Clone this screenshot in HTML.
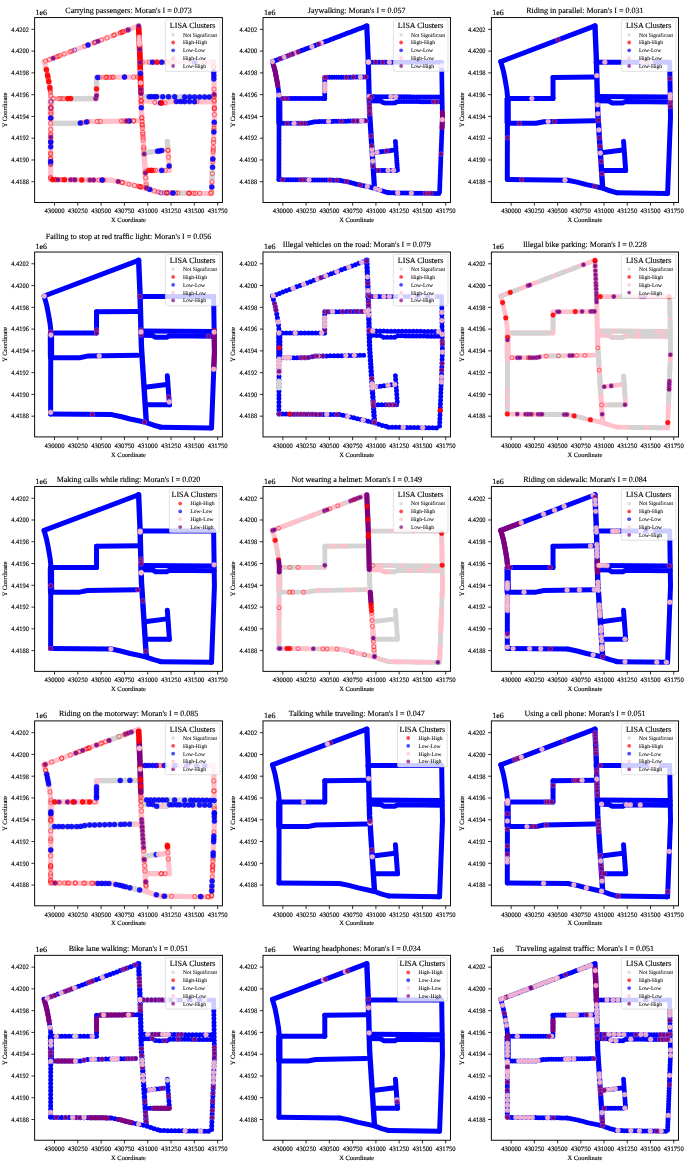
<!DOCTYPE html>
<html><head><meta charset="utf-8"><title>LISA Clusters</title>
<style>html,body{margin:0;padding:0;background:#fff;} svg path{fill:none;stroke-linecap:round;stroke-linejoin:round} svg text{font-family:'Liberation Serif', 'DejaVu Serif', serif;fill:#000;stroke:#000;stroke-width:0.13px;text-rendering:geometricPrecision;font-variant-ligatures:none;font-kerning:normal;} svg text.le{stroke-width:0.04px} circle.NS{fill:rgb(211,211,211);fill-opacity:0.9;stroke:rgb(211,211,211);stroke-opacity:0.8;stroke-width:0.6} circle.HH{fill:rgb(255,0,0);fill-opacity:0.9;stroke:rgb(255,0,0);stroke-opacity:0.8;stroke-width:0.6} circle.LL{fill:rgb(0,0,255);fill-opacity:0.9;stroke:rgb(0,0,255);stroke-opacity:0.8;stroke-width:0.6} circle.HL{fill:rgb(255,192,203);fill-opacity:0.9;stroke:rgb(255,192,203);stroke-opacity:0.8;stroke-width:0.6} circle.LH{fill:rgb(128,0,128);fill-opacity:0.9;stroke:rgb(128,0,128);stroke-opacity:0.8;stroke-width:0.6} circle.LH{stroke:rgb(205,140,200);stroke-opacity:0.7;stroke-width:0.5} circle.gNS{fill:none;stroke:rgb(211,211,211);stroke-opacity:0.75;stroke-width:0.7} circle.gHH{fill:none;stroke:rgb(255,0,0);stroke-opacity:0.75;stroke-width:0.7} circle.gLL{fill:none;stroke:rgb(0,0,255);stroke-opacity:0.75;stroke-width:0.7} circle.gHL{fill:none;stroke:rgb(255,192,203);stroke-opacity:0.75;stroke-width:0.7} circle.gLH{fill:none;stroke:rgb(128,0,128);stroke-opacity:0.75;stroke-width:0.7}</style>
</head><body>
<svg width="685" height="1162" viewBox="0 0 685 1162" style="display:block">
<rect width="685" height="1162" fill="#fff"/>
<g transform="translate(34.63,17.58)"><clipPath id="cp0"><rect x="0" y="0" width="187.8" height="184.9"/></clipPath><g clip-path="url(#cp0)"><g transform="scale(1.0000,1)"><path d="M16.3,82.0 L16.4,104.5" stroke="rgb(255,192,203)" stroke-width="6.50"/><path d="M9.5,44.0 L104.0,8.3" stroke="rgb(255,192,203)" stroke-width="5.20"/><path d="M9.5,44.0 L12.0,53.0 L13.8,62.0 L15.5,72.0 L16.3,80.0" stroke="rgb(255,192,203)" stroke-width="5.20"/><path d="M16.3,80.0 L16.1,105.0 L16.0,162.0" stroke="rgb(255,192,203)" stroke-width="5.20"/><path d="M16.0,81.0 L61.9,81.0" stroke="rgb(255,192,203)" stroke-width="5.20"/><path d="M61.9,81.0 L61.9,59.8" stroke="rgb(255,192,203)" stroke-width="5.20"/><path d="M61.9,59.8 L105.5,59.4" stroke="rgb(255,192,203)" stroke-width="5.20"/><path d="M16.0,105.7 L44.8,105.7 L52.8,104.1 L103.3,103.2" stroke="rgb(255,192,203)" stroke-width="5.20"/><path d="M16.0,162.0 L76.6,162.6" stroke="rgb(255,192,203)" stroke-width="5.20"/><path d="M76.6,162.6 L86.0,164.5 L95.5,167.0 L104.0,168.8 L111.7,170.6 L119.0,173.2 L125.7,175.0" stroke="rgb(255,192,203)" stroke-width="5.20"/><path d="M125.7,175.2 L176.9,175.9" stroke="rgb(255,192,203)" stroke-width="5.20"/><path d="M104.0,8.3 L105.4,41.8 L106.8,95.0 L111.7,170.3" stroke="rgb(255,192,203)" stroke-width="5.60"/><path d="M105.2,44.6 L179.0,44.6" stroke="rgb(255,192,203)" stroke-width="5.20"/><path d="M179.0,44.6 L179.8,100.0 L176.9,175.9" stroke="rgb(255,192,203)" stroke-width="5.20"/><path d="M106.3,79.0 L179.5,79.5" stroke="rgb(255,192,203)" stroke-width="5.20"/><path d="M106.5,83.2 L118.0,83.5 L121.0,85.3 L132.0,85.3 L135.0,83.8 L179.5,84.3" stroke="rgb(255,192,203)" stroke-width="5.20"/><path d="M110.3,135.2 L132.0,132.4" stroke="rgb(255,192,203)" stroke-width="5.20"/><path d="M132.7,123.8 L134.8,152.8" stroke="rgb(255,192,203)" stroke-width="5.20"/><path d="M111.7,152.8 L134.8,152.8" stroke="rgb(255,192,203)" stroke-width="5.20"/><path d="M37.0,81.0 L38.0,81.0 L39.1,81.0 L40.1,81.0 L41.2,81.0 L42.2,81.0 L43.3,81.0 L44.3,81.0 L45.4,81.0 L46.4,81.0 L47.5,81.0 L48.5,81.0 L49.6,81.0 L50.6,81.0 L51.7,81.0 L52.7,81.0 L53.8,81.0 L54.8,81.0 L55.9,81.0 L56.9,81.0 L58.0,81.0" stroke="rgb(211,211,211)" stroke-width="5.20"/><path d="M61.9,70.0 L61.9,68.8 L61.9,67.6 L61.9,66.5 L61.9,65.3 L61.9,64.1 L61.9,63.0" stroke="rgb(211,211,211)" stroke-width="5.20"/><path d="M19.9,105.7 L20.9,105.7 L21.9,105.7 L23.0,105.7 L24.0,105.7 L25.0,105.7 L26.0,105.7 L27.0,105.7 L28.0,105.7 L29.0,105.7 L30.0,105.7 L31.0,105.7 L32.0,105.7 L33.0,105.7 L34.0,105.7 L35.0,105.7 L36.0,105.7 L37.0,105.7 L38.0,105.7 L39.0,105.7 L40.1,105.7 L41.1,105.7 L42.1,105.7 L43.1,105.7 L44.1,105.7 L45.1,105.6" stroke="rgb(211,211,211)" stroke-width="5.20"/><path d="M110.0,79.0 L111.0,79.0 L112.0,79.0 L113.0,79.0 L114.0,79.1 L115.0,79.1 L116.0,79.1 L117.0,79.1 L118.0,79.1 L119.0,79.1 L120.0,79.1 L121.0,79.1 L122.0,79.1 L123.0,79.1 L124.0,79.1 L125.0,79.1 L126.0,79.1 L127.0,79.1 L128.0,79.1 L129.0,79.2 L130.0,79.2 L131.0,79.2 L132.0,79.2 L133.0,79.2 L134.0,79.2 L135.0,79.2 L136.0,79.2 L137.0,79.2 L138.0,79.2 L139.0,79.2 L140.0,79.2 L141.0,79.2 L142.0,79.2 L143.0,79.3 L144.0,79.3 L145.0,79.3 L146.0,79.3 L147.0,79.3 L148.0,79.3 L149.0,79.3 L150.0,79.3 L151.0,79.3 L152.0,79.3 L153.0,79.3 L154.0,79.3 L155.0,79.3 L156.0,79.3 L157.0,79.3 L158.0,79.4 L159.0,79.4 L160.0,79.4 L161.0,79.4 L162.0,79.4 L163.0,79.4 L164.0,79.4 L165.0,79.4 L166.0,79.4 L167.0,79.4 L168.0,79.4 L169.0,79.4 L170.0,79.4 L171.0,79.4 L172.0,79.4 L173.0,79.5 L174.0,79.5 L175.0,79.5 L176.0,79.5" stroke="rgb(211,211,211)" stroke-width="5.20"/><path d="M111.0,135.1 L112.0,135.0 L113.0,134.9 L114.0,134.7 L115.0,134.6 L116.0,134.5 L117.0,134.3 L118.0,134.2 L119.0,134.1 L120.0,133.9 L121.0,133.8 L122.0,133.7" stroke="rgb(211,211,211)" stroke-width="5.20"/><path d="M132.7,124.0 L132.8,125.0 L132.9,126.0 L132.9,127.0 L133.0,128.0 L133.1,129.0 L133.2,130.0" stroke="rgb(211,211,211)" stroke-width="5.20"/><path d="M177.9,150.0 L177.9,151.0 L177.8,152.0 L177.8,153.0 L177.7,154.0 L177.7,155.1 L177.7,156.1 L177.6,157.1 L177.6,158.1 L177.5,159.1 L177.5,160.1" stroke="rgb(211,211,211)" stroke-width="5.20"/><path d="M140.0,175.4 L141.1,175.4 L142.3,175.4 L143.4,175.4 L144.5,175.5 L145.6,175.5 L146.7,175.5 L147.8,175.5 L148.9,175.5 L150.0,175.5" stroke="rgb(211,211,211)" stroke-width="5.20"/><path d="M104.1,9.9 L104.1,10.9 L104.2,11.9 L104.2,12.9 L104.2,13.9 L104.3,14.9 L104.3,15.9 L104.4,16.9 L104.4,17.9 L104.4,19.0 L104.5,20.0 L104.5,21.0 L104.6,22.0 L104.6,23.0 L104.7,24.0 L104.7,25.0 L104.7,26.0 L104.8,27.0 L104.8,28.0 L104.9,29.0 L104.9,30.0 L104.9,31.0 L105.0,32.0 L105.0,33.0 L105.1,34.0 L105.1,35.0 L105.2,36.0 L105.2,37.0 L105.2,38.0 L105.3,39.0 L105.3,40.0 L105.4,41.0 L105.4,42.0 L105.4,43.0 L105.5,44.0 L105.5,45.0 L105.5,46.1 L105.5,47.1 L105.6,48.1 L105.6,49.1 L105.6,50.1 L105.6,51.1 L105.7,52.1 L105.7,53.1 L105.7,54.1 L105.7,55.1 L105.8,56.1 L105.8,57.1 L105.8,58.1 L105.9,59.1 L105.9,60.1 L105.9,61.1 L105.9,62.1 L106.0,63.1 L106.0,64.1 L106.0,65.1 L106.0,66.1 L106.1,67.1 L106.1,68.1 L106.1,69.1 L106.1,70.1 L106.2,71.2 L106.2,72.2 L106.2,73.2 L106.3,74.2 L106.3,75.2" stroke="rgb(255,0,0)" stroke-width="5.60"/><circle cx="104.8" cy="26.8" r="2.30" class="HL"/><circle cx="105.7" cy="54.6" r="2.30" class="HL"/><circle cx="105.7" cy="54.6" r="2.30" class="HL"/><circle cx="106.0" cy="65.3" r="2.30" class="HL"/><circle cx="104.6" cy="22.0" r="2.30" class="HL"/><circle cx="104.7" cy="25.0" r="2.30" class="HL"/><circle cx="104.5" cy="19.5" r="2.30" class="HL"/><circle cx="104.7" cy="24.6" r="2.30" class="HL"/><circle cx="78.9" cy="17.8" r="2.10" class="gHH"/><circle cx="21.8" cy="39.4" r="2.10" class="gHH"/><circle cx="59.7" cy="25.0" r="2.10" class="gHH"/><circle cx="29.7" cy="36.4" r="2.10" class="gHH"/><circle cx="37.3" cy="33.5" r="2.10" class="gHH"/><circle cx="50.3" cy="28.6" r="2.10" class="gHH"/><circle cx="88.7" cy="14.1" r="2.10" class="gHH"/><circle cx="67.0" cy="22.3" r="2.10" class="gHH"/><circle cx="10.9" cy="43.5" r="2.10" class="gHH"/><circle cx="35.6" cy="34.2" r="2.10" class="gHH"/><circle cx="23.4" cy="38.8" r="2.10" class="gHH"/><circle cx="91.8" cy="12.9" r="2.10" class="gHH"/><circle cx="86.0" cy="15.1" r="2.10" class="gHH"/><circle cx="85.7" cy="15.2" r="2.10" class="gHH"/><circle cx="87.6" cy="14.5" r="2.10" class="gHH"/><circle cx="79.9" cy="17.4" r="2.10" class="gHH"/><circle cx="16.1" cy="78.1" r="2.10" class="gHH"/><circle cx="15.5" cy="72.5" r="2.10" class="gHH"/><circle cx="12.0" cy="53.1" r="2.10" class="gHH"/><circle cx="15.8" cy="74.5" r="2.10" class="gHH"/><circle cx="13.7" cy="61.4" r="2.10" class="gHH"/><circle cx="15.3" cy="71.1" r="2.10" class="gHH"/><circle cx="14.2" cy="64.2" r="2.10" class="gHH"/><circle cx="13.3" cy="59.3" r="2.10" class="gHH"/><circle cx="12.8" cy="56.9" r="2.10" class="gHH"/><circle cx="13.3" cy="59.3" r="2.10" class="gHH"/><circle cx="16.1" cy="105.7" r="2.10" class="gHH"/><circle cx="16.2" cy="89.6" r="2.10" class="gHH"/><circle cx="16.0" cy="147.2" r="2.10" class="gHH"/><circle cx="16.0" cy="145.5" r="2.10" class="gHH"/><circle cx="16.0" cy="160.8" r="2.10" class="gHH"/><circle cx="16.0" cy="136.7" r="2.10" class="gHH"/><circle cx="16.1" cy="125.4" r="2.10" class="gHH"/><circle cx="16.0" cy="141.4" r="2.10" class="gHH"/><circle cx="16.2" cy="91.1" r="2.10" class="gHH"/><circle cx="16.0" cy="135.5" r="2.10" class="gHH"/><circle cx="16.1" cy="116.4" r="2.10" class="gHH"/><circle cx="16.2" cy="94.5" r="2.10" class="gHH"/><circle cx="16.2" cy="96.6" r="2.10" class="gHH"/><circle cx="16.1" cy="122.9" r="2.10" class="gHH"/><circle cx="16.1" cy="100.8" r="2.10" class="gHH"/><circle cx="16.1" cy="117.7" r="2.10" class="gHH"/><circle cx="28.7" cy="81.0" r="2.10" class="gHH"/><circle cx="24.3" cy="81.0" r="2.10" class="gHH"/><circle cx="18.7" cy="81.0" r="2.10" class="gHH"/><circle cx="26.3" cy="81.0" r="2.10" class="gHH"/><circle cx="72.1" cy="59.7" r="2.10" class="gHH"/><circle cx="72.1" cy="59.7" r="2.10" class="gHH"/><circle cx="70.4" cy="59.7" r="2.10" class="gHH"/><circle cx="77.7" cy="59.7" r="2.10" class="gHH"/><circle cx="65.2" cy="59.8" r="2.10" class="gHH"/><circle cx="90.0" cy="59.5" r="2.10" class="gHH"/><circle cx="103.0" cy="59.4" r="2.10" class="gHH"/><circle cx="78.7" cy="59.6" r="2.10" class="gHH"/><circle cx="86.7" cy="103.5" r="2.10" class="gHH"/><circle cx="99.2" cy="103.3" r="2.10" class="gHH"/><circle cx="47.5" cy="105.2" r="2.10" class="gHH"/><circle cx="53.2" cy="104.1" r="2.10" class="gHH"/><circle cx="91.8" cy="103.4" r="2.10" class="gHH"/><circle cx="93.7" cy="103.4" r="2.10" class="gHH"/><circle cx="54.3" cy="162.4" r="2.10" class="gHH"/><circle cx="25.6" cy="162.1" r="2.10" class="gHH"/><circle cx="40.8" cy="162.2" r="2.10" class="gHH"/><circle cx="68.1" cy="162.5" r="2.10" class="gHH"/><circle cx="69.2" cy="162.5" r="2.10" class="gHH"/><circle cx="64.2" cy="162.5" r="2.10" class="gHH"/><circle cx="28.2" cy="162.1" r="2.10" class="gHH"/><circle cx="67.2" cy="162.5" r="2.10" class="gHH"/><circle cx="38.5" cy="162.2" r="2.10" class="gHH"/><circle cx="59.0" cy="162.4" r="2.10" class="gHH"/><circle cx="83.6" cy="164.0" r="2.10" class="gHH"/><circle cx="123.6" cy="174.4" r="2.10" class="gHH"/><circle cx="106.1" cy="169.3" r="2.10" class="gHH"/><circle cx="111.9" cy="170.7" r="2.10" class="gHH"/><circle cx="87.2" cy="164.8" r="2.10" class="gHH"/><circle cx="106.8" cy="169.5" r="2.10" class="gHH"/><circle cx="105.0" cy="169.0" r="2.10" class="gHH"/><circle cx="105.5" cy="169.2" r="2.10" class="gHH"/><circle cx="94.3" cy="166.7" r="2.10" class="gHH"/><circle cx="112.1" cy="170.7" r="2.10" class="gHH"/><circle cx="143.3" cy="175.4" r="2.10" class="gHH"/><circle cx="141.0" cy="175.4" r="2.10" class="gHH"/><circle cx="134.3" cy="175.3" r="2.10" class="gHH"/><circle cx="160.8" cy="175.7" r="2.10" class="gHH"/><circle cx="131.7" cy="175.3" r="2.10" class="gHH"/><circle cx="137.4" cy="175.4" r="2.10" class="gHH"/><circle cx="129.5" cy="175.3" r="2.10" class="gHH"/><circle cx="158.7" cy="175.7" r="2.10" class="gHH"/><circle cx="154.3" cy="175.6" r="2.10" class="gHH"/><circle cx="153.6" cy="175.6" r="2.10" class="gHH"/><circle cx="106.4" cy="78.9" r="2.10" class="gHH"/><circle cx="108.2" cy="116.8" r="2.10" class="gHH"/><circle cx="107.6" cy="107.7" r="2.10" class="gHH"/><circle cx="106.5" cy="84.0" r="2.10" class="gHH"/><circle cx="106.3" cy="75.5" r="2.10" class="gHH"/><circle cx="111.7" cy="169.7" r="2.10" class="gHH"/><circle cx="106.6" cy="86.7" r="2.10" class="gHH"/><circle cx="107.4" cy="103.8" r="2.10" class="gHH"/><circle cx="107.2" cy="100.7" r="2.10" class="gHH"/><circle cx="109.2" cy="131.8" r="2.10" class="gHH"/><circle cx="106.5" cy="82.5" r="2.10" class="gHH"/><circle cx="108.4" cy="119.7" r="2.10" class="gHH"/><circle cx="107.8" cy="109.9" r="2.10" class="gHH"/><circle cx="110.7" cy="154.2" r="2.10" class="gHH"/><circle cx="106.3" cy="75.7" r="2.10" class="gHH"/><circle cx="107.6" cy="106.9" r="2.10" class="gHH"/><circle cx="108.6" cy="122.2" r="2.10" class="gHH"/><circle cx="111.5" cy="167.0" r="2.10" class="gHH"/><circle cx="179.3" cy="112.6" r="2.10" class="gHH"/><circle cx="179.5" cy="107.1" r="2.10" class="gHH"/><circle cx="178.6" cy="132.6" r="2.10" class="gHH"/><circle cx="179.6" cy="83.8" r="2.10" class="gHH"/><circle cx="179.1" cy="49.1" r="2.10" class="gHH"/><circle cx="179.4" cy="110.6" r="2.10" class="gHH"/><circle cx="177.3" cy="164.2" r="2.10" class="gHH"/><circle cx="178.2" cy="141.6" r="2.10" class="gHH"/><circle cx="179.5" cy="78.8" r="2.10" class="gHH"/><circle cx="178.5" cy="134.5" r="2.10" class="gHH"/><circle cx="177.7" cy="156.1" r="2.10" class="gHH"/><circle cx="179.5" cy="78.8" r="2.10" class="gHH"/><circle cx="179.0" cy="122.0" r="2.10" class="gHH"/><circle cx="179.7" cy="91.5" r="2.10" class="gHH"/><circle cx="179.5" cy="76.9" r="2.10" class="gHH"/><circle cx="179.5" cy="82.6" r="2.10" class="gHH"/><circle cx="179.4" cy="71.6" r="2.10" class="gHH"/><circle cx="179.7" cy="90.9" r="2.10" class="gHH"/><circle cx="179.1" cy="49.9" r="2.10" class="gHH"/><circle cx="179.8" cy="97.0" r="2.10" class="gHH"/><circle cx="179.2" cy="56.3" r="2.10" class="gHH"/><circle cx="178.1" cy="144.2" r="2.10" class="gHH"/><circle cx="149.6" cy="84.0" r="2.10" class="gHH"/><circle cx="106.8" cy="83.2" r="2.10" class="gHH"/><circle cx="162.4" cy="84.1" r="2.10" class="gHH"/><circle cx="120.1" cy="84.8" r="2.10" class="gHH"/><circle cx="140.9" cy="83.9" r="2.10" class="gHH"/><circle cx="146.3" cy="83.9" r="2.10" class="gHH"/><circle cx="130.4" cy="85.3" r="2.10" class="gHH"/><circle cx="127.2" cy="85.3" r="2.10" class="gHH"/><circle cx="133.8" cy="139.6" r="2.10" class="gHH"/><circle cx="133.4" cy="133.0" r="2.10" class="gHH"/><circle cx="134.5" cy="149.0" r="2.10" class="gHH"/><circle cx="133.3" cy="132.5" r="2.10" class="gHH"/><circle cx="130.8" cy="152.8" r="2.10" class="gHH"/><circle cx="117.0" cy="152.8" r="2.10" class="gHH"/><circle cx="118.9" cy="152.8" r="2.10" class="gHH"/><circle cx="120.8" cy="152.8" r="2.10" class="gHH"/><circle cx="107.7" cy="44.6" r="2.10" class="gHH"/><circle cx="114.7" cy="44.6" r="2.10" class="gHH"/><circle cx="131.8" cy="44.6" r="2.10" class="gHH"/><circle cx="137.8" cy="44.6" r="2.10" class="gHH"/><circle cx="169.9" cy="44.6" r="2.10" class="gHH"/><circle cx="178.3" cy="44.6" r="2.10" class="gHH"/><circle cx="16.3" cy="83.6" r="2.10" class="gLL"/><circle cx="16.1" cy="123.9" r="2.10" class="gLL"/><circle cx="16.2" cy="90.6" r="2.10" class="gLL"/><circle cx="16.0" cy="145.9" r="2.10" class="gLL"/><circle cx="40.0" cy="32.5" r="2.10" class="gLL"/><circle cx="93.9" cy="12.1" r="2.10" class="gLL"/><circle cx="61.0" cy="24.5" r="2.10" class="gLL"/><circle cx="132.4" cy="175.3" r="2.10" class="gLL"/><circle cx="126.2" cy="175.2" r="2.10" class="gLL"/><circle cx="138.6" cy="175.4" r="2.10" class="gLL"/><circle cx="14.9" cy="41.9" r="2.20" class="gHH"/><circle cx="60.1" cy="24.9" r="2.20" class="gHH"/><circle cx="72.3" cy="20.3" r="2.20" class="gHH"/><circle cx="87.7" cy="14.5" r="2.20" class="gHH"/><circle cx="25.1" cy="38.1" r="2.20" class="gHH"/><circle cx="18.5" cy="40.6" r="2.50" class="LH"/><circle cx="63.4" cy="23.7" r="2.50" class="LH"/><circle cx="93.4" cy="12.3" r="2.50" class="LH"/><circle cx="53.4" cy="27.4" r="2.50" class="LL"/><circle cx="11.7" cy="52.0" r="2.50" class="HH"/><circle cx="13.0" cy="58.0" r="2.50" class="HH"/><circle cx="14.1" cy="64.0" r="2.50" class="HH"/><circle cx="15.2" cy="70.0" r="2.50" class="HH"/><circle cx="16.3" cy="84.9" r="2.20" class="gHH"/><circle cx="16.2" cy="90.0" r="2.20" class="gHH"/><circle cx="16.0" cy="140.7" r="2.20" class="gHH"/><circle cx="16.0" cy="159.9" r="2.20" class="gHH"/><circle cx="16.1" cy="112.0" r="2.20" class="gHH"/><circle cx="16.1" cy="100.5" r="2.50" class="LL"/><circle cx="16.1" cy="124.5" r="2.50" class="LL"/><circle cx="16.1" cy="129.2" r="2.50" class="LL"/><circle cx="16.0" cy="144.0" r="2.50" class="LL"/><circle cx="16.1" cy="119.6" r="2.50" class="LH"/><circle cx="33.0" cy="81.0" r="2.50" class="HH"/><circle cx="36.0" cy="81.0" r="2.50" class="HH"/><circle cx="61.0" cy="81.0" r="2.50" class="LH"/><circle cx="61.9" cy="71.3" r="2.50" class="HH"/><circle cx="61.9" cy="78.0" r="2.50" class="LH"/><circle cx="63.0" cy="59.8" r="2.50" class="LL"/><circle cx="89.9" cy="59.5" r="2.50" class="LL"/><circle cx="75.2" cy="59.7" r="2.20" class="gHH"/><circle cx="99.0" cy="59.5" r="2.20" class="gHH"/><circle cx="45.7" cy="105.5" r="2.50" class="LL"/><circle cx="51.9" cy="104.3" r="2.50" class="LL"/><circle cx="94.8" cy="103.4" r="2.50" class="LL"/><circle cx="62.6" cy="103.9" r="2.20" class="gHH"/><circle cx="65.5" cy="103.9" r="2.20" class="gHH"/><circle cx="89.3" cy="103.4" r="2.20" class="gHH"/><circle cx="98.9" cy="103.3" r="2.20" class="gHH"/><circle cx="91.9" cy="103.4" r="2.50" class="LH"/><circle cx="18.0" cy="162.0" r="2.50" class="HH"/><circle cx="21.0" cy="162.0" r="2.50" class="HH"/><circle cx="29.9" cy="162.1" r="2.50" class="HH"/><circle cx="47.1" cy="162.3" r="2.50" class="HH"/><circle cx="23.3" cy="162.1" r="2.50" class="LH"/><circle cx="36.0" cy="162.2" r="2.50" class="LH"/><circle cx="40.1" cy="162.2" r="2.50" class="LH"/><circle cx="55.5" cy="162.4" r="2.50" class="LH"/><circle cx="59.0" cy="162.4" r="2.50" class="LH"/><circle cx="67.5" cy="162.5" r="2.50" class="LL"/><circle cx="83.6" cy="164.0" r="2.50" class="LH"/><circle cx="88.0" cy="165.0" r="2.20" class="gHH"/><circle cx="99.9" cy="167.9" r="2.20" class="gHH"/><circle cx="104.0" cy="168.8" r="2.20" class="gHH"/><circle cx="119.9" cy="173.5" r="2.20" class="gHH"/><circle cx="115.1" cy="171.8" r="2.50" class="LL"/><circle cx="138.2" cy="175.4" r="2.50" class="LL"/><circle cx="132.0" cy="175.3" r="2.20" class="gHH"/><circle cx="155.0" cy="175.6" r="2.20" class="gHH"/><circle cx="165.0" cy="175.7" r="2.20" class="gHH"/><circle cx="176.0" cy="175.9" r="2.20" class="gHH"/><circle cx="104.0" cy="8.3" r="2.50" class="LH"/><circle cx="105.0" cy="31.8" r="2.50" class="LH"/><circle cx="105.5" cy="44.8" r="2.50" class="LH"/><circle cx="106.2" cy="71.9" r="2.50" class="LH"/><circle cx="106.3" cy="76.0" r="2.50" class="LH"/><circle cx="109.5" cy="136.3" r="2.50" class="LH"/><circle cx="110.7" cy="155.3" r="2.50" class="LH"/><circle cx="111.7" cy="170.3" r="2.50" class="LH"/><circle cx="105.8" cy="55.7" r="2.50" class="LL"/><circle cx="106.7" cy="90.2" r="2.50" class="LL"/><circle cx="107.1" cy="99.9" r="2.20" class="gHH"/><circle cx="108.1" cy="114.9" r="2.20" class="gHH"/><circle cx="109.1" cy="129.8" r="2.20" class="gHH"/><circle cx="111.0" cy="160.2" r="2.20" class="gHH"/><circle cx="117.9" cy="44.6" r="2.50" class="LL"/><circle cx="127.0" cy="44.6" r="2.50" class="LL"/><circle cx="160.0" cy="44.6" r="2.50" class="LL"/><circle cx="122.2" cy="44.6" r="2.50" class="HH"/><circle cx="179.1" cy="54.5" r="2.50" class="LL"/><circle cx="179.2" cy="58.1" r="2.50" class="LL"/><circle cx="179.2" cy="61.3" r="2.50" class="LL"/><circle cx="179.6" cy="104.7" r="2.50" class="LL"/><circle cx="179.2" cy="114.5" r="2.50" class="LL"/><circle cx="178.2" cy="141.4" r="2.50" class="LL"/><circle cx="177.9" cy="149.6" r="2.50" class="LL"/><circle cx="177.2" cy="169.3" r="2.50" class="LL"/><circle cx="179.5" cy="76.8" r="2.50" class="LH"/><circle cx="179.7" cy="89.9" r="2.20" class="gHH"/><circle cx="178.8" cy="125.0" r="2.20" class="gHH"/><circle cx="178.7" cy="130.0" r="2.20" class="gHH"/><circle cx="176.9" cy="174.9" r="2.20" class="gHH"/><circle cx="114.5" cy="79.1" r="2.50" class="LL"/><circle cx="116.9" cy="79.1" r="2.50" class="LL"/><circle cx="120.0" cy="79.1" r="2.50" class="LL"/><circle cx="122.0" cy="79.1" r="2.50" class="LL"/><circle cx="128.1" cy="79.1" r="2.50" class="LL"/><circle cx="133.9" cy="79.2" r="2.50" class="LL"/><circle cx="140.0" cy="79.2" r="2.50" class="LL"/><circle cx="150.0" cy="79.3" r="2.50" class="LL"/><circle cx="155.0" cy="79.3" r="2.50" class="LL"/><circle cx="159.9" cy="79.4" r="2.50" class="LL"/><circle cx="165.0" cy="79.4" r="2.50" class="LL"/><circle cx="170.0" cy="79.4" r="2.50" class="LL"/><circle cx="174.7" cy="79.5" r="2.50" class="LL"/><circle cx="125.9" cy="85.3" r="2.50" class="LL"/><circle cx="142.0" cy="83.9" r="2.50" class="LL"/><circle cx="146.1" cy="83.9" r="2.50" class="LL"/><circle cx="150.0" cy="84.0" r="2.50" class="LL"/><circle cx="154.9" cy="84.0" r="2.50" class="LL"/><circle cx="159.9" cy="84.1" r="2.50" class="LL"/><circle cx="127.0" cy="85.3" r="2.50" class="HH"/><circle cx="122.9" cy="133.6" r="2.50" class="LL"/><circle cx="125.0" cy="133.3" r="2.50" class="LL"/><circle cx="127.1" cy="133.0" r="2.50" class="LL"/><circle cx="134.5" cy="148.3" r="2.50" class="LL"/><circle cx="114.0" cy="152.8" r="2.50" class="HH"/><circle cx="117.0" cy="152.8" r="2.50" class="HH"/><circle cx="127.1" cy="152.8" r="2.50" class="LL"/></g></g><rect x="130.7" y="2.4" width="54.60" height="51.40" rx="1.3" fill="#fff" fill-opacity="0.8" stroke="#ccc" stroke-width="0.6"/><text x="158.00" y="10.75" text-anchor="middle" font-size="8">LISA Clusters</text><circle cx="138.50" cy="17.10" r="1.9" fill="rgb(211,211,211)" fill-opacity="0.7"/><text x="148.30" y="19.00" font-size="5.56" class="le">Not Significant</text><circle cx="138.50" cy="24.93" r="1.9" fill="rgb(255,0,0)" fill-opacity="0.7"/><text x="148.30" y="26.83" font-size="5.56" class="le">High-High</text><circle cx="138.50" cy="32.76" r="1.9" fill="rgb(0,0,255)" fill-opacity="0.7"/><text x="148.30" y="34.66" font-size="5.56" class="le">Low-Low</text><circle cx="138.50" cy="40.59" r="1.9" fill="rgb(255,192,203)" fill-opacity="0.7"/><text x="148.30" y="42.49" font-size="5.56" class="le">High-Low</text><circle cx="138.50" cy="48.42" r="1.9" fill="rgb(128,0,128)" fill-opacity="0.7"/><text x="148.30" y="50.32" font-size="5.56" class="le">Low-High</text><rect x="0" y="0" width="187.8" height="184.9" fill="none" stroke="#000" stroke-width="0.95"/><line x1="-3.2" y1="11.77" x2="0" y2="11.77" stroke="#000" stroke-width="0.8"/><text x="-23.4" y="14.07" font-size="6.67" textLength="17.6" lengthAdjust="spacingAndGlyphs">4.4202</text><line x1="-3.2" y1="33.54" x2="0" y2="33.54" stroke="#000" stroke-width="0.8"/><text x="-23.4" y="35.84" font-size="6.67" textLength="17.6" lengthAdjust="spacingAndGlyphs">4.4200</text><line x1="-3.2" y1="55.31" x2="0" y2="55.31" stroke="#000" stroke-width="0.8"/><text x="-23.4" y="57.61" font-size="6.67" textLength="17.6" lengthAdjust="spacingAndGlyphs">4.4198</text><line x1="-3.2" y1="77.08" x2="0" y2="77.08" stroke="#000" stroke-width="0.8"/><text x="-23.4" y="79.38" font-size="6.67" textLength="17.6" lengthAdjust="spacingAndGlyphs">4.4196</text><line x1="-3.2" y1="98.85" x2="0" y2="98.85" stroke="#000" stroke-width="0.8"/><text x="-23.4" y="101.15" font-size="6.67" textLength="17.6" lengthAdjust="spacingAndGlyphs">4.4194</text><line x1="-3.2" y1="120.62" x2="0" y2="120.62" stroke="#000" stroke-width="0.8"/><text x="-23.4" y="122.92" font-size="6.67" textLength="17.6" lengthAdjust="spacingAndGlyphs">4.4192</text><line x1="-3.2" y1="142.39" x2="0" y2="142.39" stroke="#000" stroke-width="0.8"/><text x="-23.4" y="144.69" font-size="6.67" textLength="17.6" lengthAdjust="spacingAndGlyphs">4.4190</text><line x1="-3.2" y1="164.16" x2="0" y2="164.16" stroke="#000" stroke-width="0.8"/><text x="-23.4" y="166.46" font-size="6.67" textLength="17.6" lengthAdjust="spacingAndGlyphs">4.4188</text><line x1="19.87" y1="184.9" x2="19.87" y2="188.1" stroke="#000" stroke-width="0.8"/><text x="19.87" y="195.90" text-anchor="middle" font-size="6.67">430000</text><line x1="43.18" y1="184.9" x2="43.18" y2="188.1" stroke="#000" stroke-width="0.8"/><text x="43.18" y="195.90" text-anchor="middle" font-size="6.67">430250</text><line x1="66.49" y1="184.9" x2="66.49" y2="188.1" stroke="#000" stroke-width="0.8"/><text x="66.49" y="195.90" text-anchor="middle" font-size="6.67">430500</text><line x1="89.80" y1="184.9" x2="89.80" y2="188.1" stroke="#000" stroke-width="0.8"/><text x="89.80" y="195.90" text-anchor="middle" font-size="6.67">430750</text><line x1="113.11" y1="184.9" x2="113.11" y2="188.1" stroke="#000" stroke-width="0.8"/><text x="113.11" y="195.90" text-anchor="middle" font-size="6.67">431000</text><line x1="136.42" y1="184.9" x2="136.42" y2="188.1" stroke="#000" stroke-width="0.8"/><text x="136.42" y="195.90" text-anchor="middle" font-size="6.67">431250</text><line x1="159.73" y1="184.9" x2="159.73" y2="188.1" stroke="#000" stroke-width="0.8"/><text x="159.73" y="195.90" text-anchor="middle" font-size="6.67">431500</text><line x1="183.04" y1="184.9" x2="183.04" y2="188.1" stroke="#000" stroke-width="0.8"/><text x="183.04" y="195.90" text-anchor="middle" font-size="6.67">431750</text><text x="93.90" y="204.50" text-anchor="middle" font-size="6.45">X Coordinate</text><text transform="translate(-27.6,92.45) rotate(-90)" x="0" y="0" text-anchor="middle" font-size="6.45">Y Coordinate</text><text x="0.9" y="-2.95" font-size="8">1e6</text><text x="93.90" y="-4.6" text-anchor="middle" font-size="8">Carrying passengers: Moran&#39;s I = 0.073</text></g>
<g transform="translate(263.00,17.58)"><clipPath id="cp1"><rect x="0" y="0" width="187.45" height="184.9"/></clipPath><g clip-path="url(#cp1)"><g transform="scale(0.9981,1)"><path d="M16.3,82.0 L16.4,104.5" stroke="rgb(0,0,255)" stroke-width="6.30" stroke-dasharray="0 2.4"/><path d="M9.5,44.0 L104.0,8.3" stroke="rgb(0,0,255)" stroke-width="5.00" stroke-dasharray="0 2.4"/><path d="M9.5,44.0 L12.0,53.0 L13.8,62.0 L15.5,72.0 L16.3,80.0" stroke="rgb(0,0,255)" stroke-width="5.00" stroke-dasharray="0 2.4"/><path d="M16.3,80.0 L16.1,105.0 L16.0,162.0" stroke="rgb(0,0,255)" stroke-width="5.00" stroke-dasharray="0 2.4"/><path d="M16.0,81.0 L61.9,81.0" stroke="rgb(0,0,255)" stroke-width="5.00" stroke-dasharray="0 2.4"/><path d="M61.9,81.0 L61.9,59.8" stroke="rgb(0,0,255)" stroke-width="5.00" stroke-dasharray="0 2.4"/><path d="M61.9,59.8 L105.5,59.4" stroke="rgb(0,0,255)" stroke-width="5.00" stroke-dasharray="0 2.4"/><path d="M16.0,105.7 L44.8,105.7 L52.8,104.1 L103.3,103.2" stroke="rgb(0,0,255)" stroke-width="5.00" stroke-dasharray="0 2.4"/><path d="M16.0,162.0 L76.6,162.6" stroke="rgb(0,0,255)" stroke-width="5.00" stroke-dasharray="0 2.4"/><path d="M76.6,162.6 L86.0,164.5 L95.5,167.0 L104.0,168.8 L111.7,170.6 L119.0,173.2 L125.7,175.0" stroke="rgb(0,0,255)" stroke-width="5.00" stroke-dasharray="0 2.4"/><path d="M125.7,175.2 L176.9,175.9" stroke="rgb(0,0,255)" stroke-width="5.00" stroke-dasharray="0 2.4"/><path d="M104.0,8.3 L105.4,41.8 L106.8,95.0 L111.7,170.3" stroke="rgb(0,0,255)" stroke-width="5.40" stroke-dasharray="0 2.4"/><path d="M105.2,44.6 L179.0,44.6" stroke="rgb(0,0,255)" stroke-width="5.00" stroke-dasharray="0 2.4"/><path d="M179.0,44.6 L179.8,100.0 L176.9,175.9" stroke="rgb(0,0,255)" stroke-width="5.00" stroke-dasharray="0 2.4"/><path d="M106.3,79.0 L179.5,79.5" stroke="rgb(0,0,255)" stroke-width="5.00" stroke-dasharray="0 2.4"/><path d="M106.5,83.2 L118.0,83.5 L121.0,85.3 L132.0,85.3 L135.0,83.8 L179.5,84.3" stroke="rgb(0,0,255)" stroke-width="5.00" stroke-dasharray="0 2.4"/><path d="M110.3,135.2 L132.0,132.4" stroke="rgb(0,0,255)" stroke-width="5.00" stroke-dasharray="0 2.4"/><path d="M132.7,123.8 L134.8,152.8" stroke="rgb(0,0,255)" stroke-width="5.00" stroke-dasharray="0 2.4"/><path d="M111.7,152.8 L134.8,152.8" stroke="rgb(0,0,255)" stroke-width="5.00" stroke-dasharray="0 2.4"/><path d="M10.7,48.3 L11.0,49.3 L11.3,50.4 L11.5,51.4 L11.8,52.4 L12.1,53.4 L12.3,54.4 L12.5,55.4 L12.7,56.5 L12.9,57.5 L13.1,58.5 L13.3,59.6 L13.5,60.6 L13.7,61.6 L13.9,62.6 L14.1,63.7 L14.3,64.7 L14.4,65.7 L14.6,66.8 L14.8,67.8" stroke="rgb(128,0,128)" stroke-width="5.00"/><path d="M179.7,94.8 L179.7,95.8 L179.8,96.9 L179.8,97.9 L179.8,98.9 L179.8,99.9 L179.8,100.9 L179.7,101.9 L179.7,102.9 L179.7,103.9 L179.6,104.9 L179.6,105.9 L179.5,106.9 L179.5,107.9 L179.5,108.9 L179.4,109.9" stroke="rgb(128,0,128)" stroke-width="5.00"/><circle cx="9.5" cy="44.0" r="2.40" class="HL"/><circle cx="21.3" cy="39.5" r="2.40" class="HL"/><circle cx="32.4" cy="35.3" r="2.40" class="HL"/><circle cx="49.0" cy="29.1" r="2.40" class="HL"/><circle cx="58.6" cy="25.4" r="2.40" class="HL"/><circle cx="17.1" cy="41.1" r="2.40" class="LH"/><circle cx="25.3" cy="38.0" r="2.40" class="LH"/><circle cx="27.5" cy="37.2" r="2.40" class="LH"/><circle cx="29.6" cy="36.4" r="2.40" class="LH"/><circle cx="35.0" cy="34.4" r="2.40" class="LH"/><circle cx="55.8" cy="26.5" r="2.40" class="LH"/><circle cx="16.1" cy="77.5" r="2.40" class="HL"/><circle cx="20.0" cy="81.0" r="2.40" class="LH"/><circle cx="24.0" cy="81.0" r="2.40" class="LH"/><circle cx="61.9" cy="59.8" r="2.40" class="LH"/><circle cx="61.9" cy="66.4" r="2.40" class="HL"/><circle cx="61.9" cy="70.0" r="2.40" class="HL"/><circle cx="61.9" cy="73.3" r="2.40" class="HL"/><circle cx="62.8" cy="59.8" r="2.40" class="LH"/><circle cx="83.6" cy="59.6" r="2.40" class="LH"/><circle cx="90.6" cy="59.5" r="2.40" class="LH"/><circle cx="103.1" cy="59.4" r="2.40" class="LH"/><circle cx="97.5" cy="59.5" r="2.40" class="HL"/><circle cx="105.5" cy="44.4" r="2.40" class="HL"/><circle cx="106.4" cy="78.8" r="2.40" class="HL"/><circle cx="109.2" cy="131.9" r="2.40" class="HL"/><circle cx="109.5" cy="136.7" r="2.40" class="HL"/><circle cx="110.0" cy="143.6" r="2.40" class="HL"/><circle cx="106.4" cy="81.7" r="2.40" class="LH"/><circle cx="106.6" cy="87.3" r="2.40" class="LH"/><circle cx="106.7" cy="90.6" r="2.40" class="LH"/><circle cx="106.8" cy="94.2" r="2.40" class="LH"/><circle cx="106.9" cy="96.2" r="2.40" class="LH"/><circle cx="108.3" cy="118.5" r="2.40" class="LH"/><circle cx="109.0" cy="128.2" r="2.40" class="LH"/><circle cx="110.3" cy="148.9" r="2.40" class="LH"/><circle cx="112.8" cy="44.6" r="2.40" class="LH"/><circle cx="119.8" cy="44.6" r="2.40" class="LH"/><circle cx="105.8" cy="44.6" r="2.40" class="HL"/><circle cx="126.6" cy="44.6" r="2.40" class="HL"/><circle cx="179.1" cy="48.2" r="2.40" class="HL"/><circle cx="179.7" cy="102.1" r="2.40" class="HL"/><circle cx="178.4" cy="136.5" r="2.40" class="LH"/><circle cx="108.7" cy="79.0" r="2.40" class="LH"/><circle cx="128.1" cy="79.1" r="2.40" class="HL"/><circle cx="133.0" cy="79.2" r="2.40" class="HL"/><circle cx="171.0" cy="84.2" r="2.40" class="LH"/><circle cx="174.0" cy="84.2" r="2.40" class="LH"/><circle cx="24.1" cy="105.7" r="2.40" class="LH"/><circle cx="36.6" cy="105.7" r="2.40" class="LH"/><circle cx="39.0" cy="105.7" r="2.40" class="LH"/><circle cx="42.0" cy="105.7" r="2.40" class="LH"/><circle cx="78.2" cy="103.6" r="2.40" class="LH"/><circle cx="90.6" cy="103.4" r="2.40" class="LH"/><circle cx="94.8" cy="103.4" r="2.40" class="LH"/><circle cx="103.3" cy="103.2" r="2.40" class="LH"/><circle cx="31.1" cy="105.7" r="2.40" class="HL"/><circle cx="65.7" cy="103.9" r="2.40" class="HL"/><circle cx="98.9" cy="103.3" r="2.40" class="HL"/><circle cx="114.2" cy="134.7" r="2.40" class="HL"/><circle cx="123.9" cy="133.4" r="2.40" class="LH"/><circle cx="115.6" cy="152.8" r="2.40" class="LH"/><circle cx="125.3" cy="152.8" r="2.40" class="HL"/><circle cx="130.8" cy="152.8" r="2.40" class="HL"/><circle cx="19.8" cy="162.0" r="2.40" class="LH"/><circle cx="40.7" cy="162.2" r="2.40" class="LH"/><circle cx="38.0" cy="162.2" r="2.40" class="LH"/><circle cx="67.1" cy="162.5" r="2.40" class="LH"/><circle cx="74.0" cy="162.6" r="2.40" class="LH"/><circle cx="46.1" cy="162.3" r="2.40" class="HL"/><circle cx="83.6" cy="164.0" r="2.40" class="LH"/><circle cx="97.5" cy="167.4" r="2.40" class="LH"/><circle cx="104.5" cy="168.9" r="2.40" class="HL"/><circle cx="112.8" cy="171.0" r="2.40" class="HL"/><circle cx="116.9" cy="172.5" r="2.40" class="HL"/><circle cx="135.0" cy="175.3" r="2.40" class="HL"/><circle cx="148.7" cy="175.5" r="2.40" class="HL"/><circle cx="162.7" cy="175.7" r="2.40" class="LH"/><circle cx="165.5" cy="175.7" r="2.40" class="LH"/><circle cx="168.3" cy="175.8" r="2.40" class="LH"/></g></g><rect x="130.34999999999997" y="2.4" width="54.60" height="51.40" rx="1.3" fill="#fff" fill-opacity="0.8" stroke="#ccc" stroke-width="0.6"/><text x="157.65" y="10.75" text-anchor="middle" font-size="8">LISA Clusters</text><circle cx="138.15" cy="17.10" r="1.9" fill="rgb(211,211,211)" fill-opacity="0.7"/><text x="147.95" y="19.00" font-size="5.56" class="le">Not Significant</text><circle cx="138.15" cy="24.93" r="1.9" fill="rgb(255,0,0)" fill-opacity="0.7"/><text x="147.95" y="26.83" font-size="5.56" class="le">High-High</text><circle cx="138.15" cy="32.76" r="1.9" fill="rgb(0,0,255)" fill-opacity="0.7"/><text x="147.95" y="34.66" font-size="5.56" class="le">Low-Low</text><circle cx="138.15" cy="40.59" r="1.9" fill="rgb(255,192,203)" fill-opacity="0.7"/><text x="147.95" y="42.49" font-size="5.56" class="le">High-Low</text><circle cx="138.15" cy="48.42" r="1.9" fill="rgb(128,0,128)" fill-opacity="0.7"/><text x="147.95" y="50.32" font-size="5.56" class="le">Low-High</text><rect x="0" y="0" width="187.45" height="184.9" fill="none" stroke="#000" stroke-width="0.95"/><line x1="-3.2" y1="11.77" x2="0" y2="11.77" stroke="#000" stroke-width="0.8"/><text x="-23.4" y="14.07" font-size="6.67" textLength="17.6" lengthAdjust="spacingAndGlyphs">4.4202</text><line x1="-3.2" y1="33.54" x2="0" y2="33.54" stroke="#000" stroke-width="0.8"/><text x="-23.4" y="35.84" font-size="6.67" textLength="17.6" lengthAdjust="spacingAndGlyphs">4.4200</text><line x1="-3.2" y1="55.31" x2="0" y2="55.31" stroke="#000" stroke-width="0.8"/><text x="-23.4" y="57.61" font-size="6.67" textLength="17.6" lengthAdjust="spacingAndGlyphs">4.4198</text><line x1="-3.2" y1="77.08" x2="0" y2="77.08" stroke="#000" stroke-width="0.8"/><text x="-23.4" y="79.38" font-size="6.67" textLength="17.6" lengthAdjust="spacingAndGlyphs">4.4196</text><line x1="-3.2" y1="98.85" x2="0" y2="98.85" stroke="#000" stroke-width="0.8"/><text x="-23.4" y="101.15" font-size="6.67" textLength="17.6" lengthAdjust="spacingAndGlyphs">4.4194</text><line x1="-3.2" y1="120.62" x2="0" y2="120.62" stroke="#000" stroke-width="0.8"/><text x="-23.4" y="122.92" font-size="6.67" textLength="17.6" lengthAdjust="spacingAndGlyphs">4.4192</text><line x1="-3.2" y1="142.39" x2="0" y2="142.39" stroke="#000" stroke-width="0.8"/><text x="-23.4" y="144.69" font-size="6.67" textLength="17.6" lengthAdjust="spacingAndGlyphs">4.4190</text><line x1="-3.2" y1="164.16" x2="0" y2="164.16" stroke="#000" stroke-width="0.8"/><text x="-23.4" y="166.46" font-size="6.67" textLength="17.6" lengthAdjust="spacingAndGlyphs">4.4188</text><line x1="19.83" y1="184.9" x2="19.83" y2="188.1" stroke="#000" stroke-width="0.8"/><text x="19.83" y="195.90" text-anchor="middle" font-size="6.67">430000</text><line x1="43.10" y1="184.9" x2="43.10" y2="188.1" stroke="#000" stroke-width="0.8"/><text x="43.10" y="195.90" text-anchor="middle" font-size="6.67">430250</text><line x1="66.37" y1="184.9" x2="66.37" y2="188.1" stroke="#000" stroke-width="0.8"/><text x="66.37" y="195.90" text-anchor="middle" font-size="6.67">430500</text><line x1="89.63" y1="184.9" x2="89.63" y2="188.1" stroke="#000" stroke-width="0.8"/><text x="89.63" y="195.90" text-anchor="middle" font-size="6.67">430750</text><line x1="112.90" y1="184.9" x2="112.90" y2="188.1" stroke="#000" stroke-width="0.8"/><text x="112.90" y="195.90" text-anchor="middle" font-size="6.67">431000</text><line x1="136.17" y1="184.9" x2="136.17" y2="188.1" stroke="#000" stroke-width="0.8"/><text x="136.17" y="195.90" text-anchor="middle" font-size="6.67">431250</text><line x1="159.43" y1="184.9" x2="159.43" y2="188.1" stroke="#000" stroke-width="0.8"/><text x="159.43" y="195.90" text-anchor="middle" font-size="6.67">431500</text><line x1="182.70" y1="184.9" x2="182.70" y2="188.1" stroke="#000" stroke-width="0.8"/><text x="182.70" y="195.90" text-anchor="middle" font-size="6.67">431750</text><text x="93.72" y="204.50" text-anchor="middle" font-size="6.45">X Coordinate</text><text transform="translate(-27.6,92.45) rotate(-90)" x="0" y="0" text-anchor="middle" font-size="6.45">Y Coordinate</text><text x="0.9" y="-2.95" font-size="8">1e6</text><text x="93.72" y="-4.6" text-anchor="middle" font-size="8">Jaywalking: Moran&#39;s I = 0.057</text></g>
<g transform="translate(491.36,17.58)"><clipPath id="cp2"><rect x="0" y="0" width="187.1" height="184.9"/></clipPath><g clip-path="url(#cp2)"><g transform="scale(0.9963,1)"><path d="M16.3,82.0 L16.4,104.5" stroke="rgb(0,0,255)" stroke-width="6.30"/><path d="M9.5,44.0 L104.0,8.3" stroke="rgb(0,0,255)" stroke-width="5.00"/><path d="M9.5,44.0 L12.0,53.0 L13.8,62.0 L15.5,72.0 L16.3,80.0" stroke="rgb(0,0,255)" stroke-width="5.00"/><path d="M16.3,80.0 L16.1,105.0 L16.0,162.0" stroke="rgb(0,0,255)" stroke-width="5.00"/><path d="M16.0,81.0 L61.9,81.0" stroke="rgb(0,0,255)" stroke-width="5.00"/><path d="M61.9,81.0 L61.9,59.8" stroke="rgb(0,0,255)" stroke-width="5.00"/><path d="M61.9,59.8 L105.5,59.4" stroke="rgb(0,0,255)" stroke-width="5.00"/><path d="M16.0,105.7 L44.8,105.7 L52.8,104.1 L103.3,103.2" stroke="rgb(0,0,255)" stroke-width="5.00"/><path d="M16.0,162.0 L76.6,162.6" stroke="rgb(0,0,255)" stroke-width="5.00"/><path d="M76.6,162.6 L86.0,164.5 L95.5,167.0 L104.0,168.8 L111.7,170.6 L119.0,173.2 L125.7,175.0" stroke="rgb(0,0,255)" stroke-width="5.00"/><path d="M125.7,175.2 L176.9,175.9" stroke="rgb(0,0,255)" stroke-width="5.00"/><path d="M104.0,8.3 L105.4,41.8 L106.8,95.0 L111.7,170.3" stroke="rgb(0,0,255)" stroke-width="5.40"/><path d="M105.2,44.6 L179.0,44.6" stroke="rgb(0,0,255)" stroke-width="5.00"/><path d="M179.0,44.6 L179.8,100.0 L176.9,175.9" stroke="rgb(0,0,255)" stroke-width="5.00"/><path d="M106.3,79.0 L179.5,79.5" stroke="rgb(0,0,255)" stroke-width="5.00"/><path d="M106.5,83.2 L118.0,83.5 L121.0,85.3 L132.0,85.3 L135.0,83.8 L179.5,84.3" stroke="rgb(0,0,255)" stroke-width="5.00"/><path d="M110.3,135.2 L132.0,132.4" stroke="rgb(0,0,255)" stroke-width="5.00"/><path d="M132.7,123.8 L134.8,152.8" stroke="rgb(0,0,255)" stroke-width="5.00"/><path d="M111.7,152.8 L134.8,152.8" stroke="rgb(0,0,255)" stroke-width="5.00"/><circle cx="66.9" cy="22.3" r="2.40" class="LH"/><circle cx="40.6" cy="81.0" r="2.40" class="HL"/><circle cx="113.9" cy="44.6" r="2.40" class="HL"/><circle cx="105.8" cy="58.1" r="2.40" class="HL"/><circle cx="106.6" cy="87.3" r="2.40" class="HL"/><circle cx="106.9" cy="96.2" r="2.40" class="HL"/><circle cx="107.9" cy="112.4" r="2.40" class="HL"/><circle cx="109.4" cy="135.5" r="2.40" class="HL"/><circle cx="151.0" cy="44.6" r="2.40" class="HL"/><circle cx="155.0" cy="44.6" r="2.40" class="HL"/><circle cx="160.0" cy="44.6" r="2.40" class="HL"/><circle cx="179.2" cy="61.0" r="2.40" class="LH"/><circle cx="179.6" cy="84.0" r="2.40" class="LH"/><circle cx="179.6" cy="86.6" r="2.40" class="LH"/><circle cx="179.6" cy="88.9" r="2.40" class="LH"/><circle cx="179.5" cy="77.1" r="2.40" class="HL"/><circle cx="179.5" cy="80.4" r="2.40" class="HL"/><circle cx="28.2" cy="105.7" r="2.40" class="LH"/><circle cx="63.5" cy="103.9" r="2.40" class="LH"/><circle cx="57.0" cy="104.0" r="2.40" class="HL"/><circle cx="16.1" cy="120.2" r="2.40" class="LH"/><circle cx="30.4" cy="162.1" r="2.40" class="LH"/><circle cx="73.9" cy="162.6" r="2.40" class="HL"/><circle cx="107.3" cy="102.7" r="2.40" class="LH"/><circle cx="108.4" cy="120.1" r="2.40" class="LH"/><circle cx="109.0" cy="128.6" r="2.40" class="LH"/><circle cx="110.0" cy="144.0" r="2.40" class="LH"/><circle cx="110.8" cy="156.1" r="2.40" class="LH"/><circle cx="103.9" cy="168.8" r="2.40" class="LH"/></g></g><rect x="129.99999999999997" y="2.4" width="54.60" height="51.40" rx="1.3" fill="#fff" fill-opacity="0.8" stroke="#ccc" stroke-width="0.6"/><text x="157.30" y="10.75" text-anchor="middle" font-size="8">LISA Clusters</text><circle cx="137.80" cy="17.10" r="1.9" fill="rgb(211,211,211)" fill-opacity="0.7"/><text x="147.60" y="19.00" font-size="5.56" class="le">Not Significant</text><circle cx="137.80" cy="24.93" r="1.9" fill="rgb(255,0,0)" fill-opacity="0.7"/><text x="147.60" y="26.83" font-size="5.56" class="le">High-High</text><circle cx="137.80" cy="32.76" r="1.9" fill="rgb(0,0,255)" fill-opacity="0.7"/><text x="147.60" y="34.66" font-size="5.56" class="le">Low-Low</text><circle cx="137.80" cy="40.59" r="1.9" fill="rgb(255,192,203)" fill-opacity="0.7"/><text x="147.60" y="42.49" font-size="5.56" class="le">High-Low</text><circle cx="137.80" cy="48.42" r="1.9" fill="rgb(128,0,128)" fill-opacity="0.7"/><text x="147.60" y="50.32" font-size="5.56" class="le">Low-High</text><rect x="0" y="0" width="187.1" height="184.9" fill="none" stroke="#000" stroke-width="0.95"/><line x1="-3.2" y1="11.77" x2="0" y2="11.77" stroke="#000" stroke-width="0.8"/><text x="-23.4" y="14.07" font-size="6.67" textLength="17.6" lengthAdjust="spacingAndGlyphs">4.4202</text><line x1="-3.2" y1="33.54" x2="0" y2="33.54" stroke="#000" stroke-width="0.8"/><text x="-23.4" y="35.84" font-size="6.67" textLength="17.6" lengthAdjust="spacingAndGlyphs">4.4200</text><line x1="-3.2" y1="55.31" x2="0" y2="55.31" stroke="#000" stroke-width="0.8"/><text x="-23.4" y="57.61" font-size="6.67" textLength="17.6" lengthAdjust="spacingAndGlyphs">4.4198</text><line x1="-3.2" y1="77.08" x2="0" y2="77.08" stroke="#000" stroke-width="0.8"/><text x="-23.4" y="79.38" font-size="6.67" textLength="17.6" lengthAdjust="spacingAndGlyphs">4.4196</text><line x1="-3.2" y1="98.85" x2="0" y2="98.85" stroke="#000" stroke-width="0.8"/><text x="-23.4" y="101.15" font-size="6.67" textLength="17.6" lengthAdjust="spacingAndGlyphs">4.4194</text><line x1="-3.2" y1="120.62" x2="0" y2="120.62" stroke="#000" stroke-width="0.8"/><text x="-23.4" y="122.92" font-size="6.67" textLength="17.6" lengthAdjust="spacingAndGlyphs">4.4192</text><line x1="-3.2" y1="142.39" x2="0" y2="142.39" stroke="#000" stroke-width="0.8"/><text x="-23.4" y="144.69" font-size="6.67" textLength="17.6" lengthAdjust="spacingAndGlyphs">4.4190</text><line x1="-3.2" y1="164.16" x2="0" y2="164.16" stroke="#000" stroke-width="0.8"/><text x="-23.4" y="166.46" font-size="6.67" textLength="17.6" lengthAdjust="spacingAndGlyphs">4.4188</text><line x1="19.80" y1="184.9" x2="19.80" y2="188.1" stroke="#000" stroke-width="0.8"/><text x="19.80" y="195.90" text-anchor="middle" font-size="6.67">430000</text><line x1="43.02" y1="184.9" x2="43.02" y2="188.1" stroke="#000" stroke-width="0.8"/><text x="43.02" y="195.90" text-anchor="middle" font-size="6.67">430250</text><line x1="66.24" y1="184.9" x2="66.24" y2="188.1" stroke="#000" stroke-width="0.8"/><text x="66.24" y="195.90" text-anchor="middle" font-size="6.67">430500</text><line x1="89.47" y1="184.9" x2="89.47" y2="188.1" stroke="#000" stroke-width="0.8"/><text x="89.47" y="195.90" text-anchor="middle" font-size="6.67">430750</text><line x1="112.69" y1="184.9" x2="112.69" y2="188.1" stroke="#000" stroke-width="0.8"/><text x="112.69" y="195.90" text-anchor="middle" font-size="6.67">431000</text><line x1="135.91" y1="184.9" x2="135.91" y2="188.1" stroke="#000" stroke-width="0.8"/><text x="135.91" y="195.90" text-anchor="middle" font-size="6.67">431250</text><line x1="159.13" y1="184.9" x2="159.13" y2="188.1" stroke="#000" stroke-width="0.8"/><text x="159.13" y="195.90" text-anchor="middle" font-size="6.67">431500</text><line x1="182.36" y1="184.9" x2="182.36" y2="188.1" stroke="#000" stroke-width="0.8"/><text x="182.36" y="195.90" text-anchor="middle" font-size="6.67">431750</text><text x="93.55" y="204.50" text-anchor="middle" font-size="6.45">X Coordinate</text><text transform="translate(-27.6,92.45) rotate(-90)" x="0" y="0" text-anchor="middle" font-size="6.45">Y Coordinate</text><text x="0.9" y="-2.95" font-size="8">1e6</text><text x="93.55" y="-4.6" text-anchor="middle" font-size="8">Riding in parallel: Moran&#39;s I = 0.031</text></g>
<g transform="translate(34.63,252.02)"><clipPath id="cp3"><rect x="0" y="0" width="187.8" height="184.9"/></clipPath><g clip-path="url(#cp3)"><g transform="scale(1.0000,1)"><path d="M16.3,82.0 L16.4,104.5" stroke="rgb(0,0,255)" stroke-width="6.30"/><path d="M9.5,44.0 L104.0,8.3" stroke="rgb(0,0,255)" stroke-width="5.00"/><path d="M9.5,44.0 L12.0,53.0 L13.8,62.0 L15.5,72.0 L16.3,80.0" stroke="rgb(0,0,255)" stroke-width="5.00"/><path d="M16.3,80.0 L16.1,105.0 L16.0,162.0" stroke="rgb(0,0,255)" stroke-width="5.00"/><path d="M16.0,81.0 L61.9,81.0" stroke="rgb(0,0,255)" stroke-width="5.00"/><path d="M61.9,81.0 L61.9,59.8" stroke="rgb(0,0,255)" stroke-width="5.00"/><path d="M61.9,59.8 L105.5,59.4" stroke="rgb(0,0,255)" stroke-width="5.00"/><path d="M16.0,105.7 L44.8,105.7 L52.8,104.1 L103.3,103.2" stroke="rgb(0,0,255)" stroke-width="5.00"/><path d="M16.0,162.0 L76.6,162.6" stroke="rgb(0,0,255)" stroke-width="5.00"/><path d="M76.6,162.6 L86.0,164.5 L95.5,167.0 L104.0,168.8 L111.7,170.6 L119.0,173.2 L125.7,175.0" stroke="rgb(0,0,255)" stroke-width="5.00"/><path d="M125.7,175.2 L176.9,175.9" stroke="rgb(0,0,255)" stroke-width="5.00"/><path d="M104.0,8.3 L105.4,41.8 L106.8,95.0 L111.7,170.3" stroke="rgb(0,0,255)" stroke-width="5.40"/><path d="M105.2,44.6 L179.0,44.6" stroke="rgb(0,0,255)" stroke-width="5.00"/><path d="M179.0,44.6 L179.8,100.0 L176.9,175.9" stroke="rgb(0,0,255)" stroke-width="5.00"/><path d="M106.3,79.0 L179.5,79.5" stroke="rgb(0,0,255)" stroke-width="5.00"/><path d="M106.5,83.2 L118.0,83.5 L121.0,85.3 L132.0,85.3 L135.0,83.8 L179.5,84.3" stroke="rgb(0,0,255)" stroke-width="5.00"/><path d="M110.3,135.2 L132.0,132.4" stroke="rgb(0,0,255)" stroke-width="5.00"/><path d="M132.7,123.8 L134.8,152.8" stroke="rgb(0,0,255)" stroke-width="5.00"/><path d="M111.7,152.8 L134.8,152.8" stroke="rgb(0,0,255)" stroke-width="5.00"/><path d="M179.5,78.1 L179.5,79.1 L179.5,80.1 L179.5,81.1 L179.5,82.1 L179.6,83.1 L179.6,84.1 L179.6,85.1 L179.6,86.1 L179.6,87.1 L179.6,88.1 L179.6,89.1 L179.7,90.1 L179.7,91.1 L179.7,92.1 L179.7,93.1 L179.7,94.1 L179.7,95.1 L179.7,96.1 L179.8,97.1 L179.8,98.1 L179.8,99.1 L179.8,100.1 L179.8,101.1 L179.7,102.1 L179.7,103.1 L179.6,104.1 L179.6,105.1 L179.6,106.1 L179.5,107.1 L179.5,108.1 L179.5,109.1 L179.4,110.1 L179.4,111.2 L179.3,112.2 L179.3,113.2 L179.3,114.2 L179.2,115.2 L179.2,116.2 L179.1,117.2" stroke="rgb(128,0,128)" stroke-width="5.00"/><circle cx="9.5" cy="44.0" r="2.40" class="HL"/><circle cx="16.3" cy="80.0" r="2.40" class="LH"/><circle cx="16.3" cy="83.1" r="2.40" class="HL"/><circle cx="16.0" cy="160.4" r="2.40" class="HL"/><circle cx="61.9" cy="78.0" r="2.40" class="LH"/><circle cx="61.9" cy="81.0" r="2.40" class="LH"/><circle cx="64.6" cy="103.9" r="2.40" class="HL"/><circle cx="57.8" cy="162.4" r="2.40" class="LH"/><circle cx="110.0" cy="170.2" r="2.40" class="LH"/><circle cx="105.5" cy="44.4" r="2.40" class="LH"/><circle cx="106.4" cy="78.0" r="2.40" class="LH"/><circle cx="106.5" cy="82.9" r="2.40" class="LH"/><circle cx="106.4" cy="80.0" r="2.40" class="HL"/><circle cx="179.5" cy="80.1" r="2.40" class="HL"/><circle cx="179.1" cy="117.2" r="2.40" class="HL"/><circle cx="173.8" cy="84.2" r="2.40" class="LH"/><circle cx="134.2" cy="145.0" r="2.40" class="LH"/><circle cx="134.6" cy="150.0" r="2.40" class="HL"/></g></g><rect x="130.7" y="2.4" width="54.60" height="51.40" rx="1.3" fill="#fff" fill-opacity="0.8" stroke="#ccc" stroke-width="0.6"/><text x="158.00" y="10.75" text-anchor="middle" font-size="8">LISA Clusters</text><circle cx="138.50" cy="17.10" r="1.9" fill="rgb(211,211,211)" fill-opacity="0.7"/><text x="148.30" y="19.00" font-size="5.56" class="le">Not Significant</text><circle cx="138.50" cy="24.93" r="1.9" fill="rgb(255,0,0)" fill-opacity="0.7"/><text x="148.30" y="26.83" font-size="5.56" class="le">High-High</text><circle cx="138.50" cy="32.76" r="1.9" fill="rgb(0,0,255)" fill-opacity="0.7"/><text x="148.30" y="34.66" font-size="5.56" class="le">Low-Low</text><circle cx="138.50" cy="40.59" r="1.9" fill="rgb(255,192,203)" fill-opacity="0.7"/><text x="148.30" y="42.49" font-size="5.56" class="le">High-Low</text><circle cx="138.50" cy="48.42" r="1.9" fill="rgb(128,0,128)" fill-opacity="0.7"/><text x="148.30" y="50.32" font-size="5.56" class="le">Low-High</text><rect x="0" y="0" width="187.8" height="184.9" fill="none" stroke="#000" stroke-width="0.95"/><line x1="-3.2" y1="11.77" x2="0" y2="11.77" stroke="#000" stroke-width="0.8"/><text x="-23.4" y="14.07" font-size="6.67" textLength="17.6" lengthAdjust="spacingAndGlyphs">4.4202</text><line x1="-3.2" y1="33.54" x2="0" y2="33.54" stroke="#000" stroke-width="0.8"/><text x="-23.4" y="35.84" font-size="6.67" textLength="17.6" lengthAdjust="spacingAndGlyphs">4.4200</text><line x1="-3.2" y1="55.31" x2="0" y2="55.31" stroke="#000" stroke-width="0.8"/><text x="-23.4" y="57.61" font-size="6.67" textLength="17.6" lengthAdjust="spacingAndGlyphs">4.4198</text><line x1="-3.2" y1="77.08" x2="0" y2="77.08" stroke="#000" stroke-width="0.8"/><text x="-23.4" y="79.38" font-size="6.67" textLength="17.6" lengthAdjust="spacingAndGlyphs">4.4196</text><line x1="-3.2" y1="98.85" x2="0" y2="98.85" stroke="#000" stroke-width="0.8"/><text x="-23.4" y="101.15" font-size="6.67" textLength="17.6" lengthAdjust="spacingAndGlyphs">4.4194</text><line x1="-3.2" y1="120.62" x2="0" y2="120.62" stroke="#000" stroke-width="0.8"/><text x="-23.4" y="122.92" font-size="6.67" textLength="17.6" lengthAdjust="spacingAndGlyphs">4.4192</text><line x1="-3.2" y1="142.39" x2="0" y2="142.39" stroke="#000" stroke-width="0.8"/><text x="-23.4" y="144.69" font-size="6.67" textLength="17.6" lengthAdjust="spacingAndGlyphs">4.4190</text><line x1="-3.2" y1="164.16" x2="0" y2="164.16" stroke="#000" stroke-width="0.8"/><text x="-23.4" y="166.46" font-size="6.67" textLength="17.6" lengthAdjust="spacingAndGlyphs">4.4188</text><line x1="19.87" y1="184.9" x2="19.87" y2="188.1" stroke="#000" stroke-width="0.8"/><text x="19.87" y="195.90" text-anchor="middle" font-size="6.67">430000</text><line x1="43.18" y1="184.9" x2="43.18" y2="188.1" stroke="#000" stroke-width="0.8"/><text x="43.18" y="195.90" text-anchor="middle" font-size="6.67">430250</text><line x1="66.49" y1="184.9" x2="66.49" y2="188.1" stroke="#000" stroke-width="0.8"/><text x="66.49" y="195.90" text-anchor="middle" font-size="6.67">430500</text><line x1="89.80" y1="184.9" x2="89.80" y2="188.1" stroke="#000" stroke-width="0.8"/><text x="89.80" y="195.90" text-anchor="middle" font-size="6.67">430750</text><line x1="113.11" y1="184.9" x2="113.11" y2="188.1" stroke="#000" stroke-width="0.8"/><text x="113.11" y="195.90" text-anchor="middle" font-size="6.67">431000</text><line x1="136.42" y1="184.9" x2="136.42" y2="188.1" stroke="#000" stroke-width="0.8"/><text x="136.42" y="195.90" text-anchor="middle" font-size="6.67">431250</text><line x1="159.73" y1="184.9" x2="159.73" y2="188.1" stroke="#000" stroke-width="0.8"/><text x="159.73" y="195.90" text-anchor="middle" font-size="6.67">431500</text><line x1="183.04" y1="184.9" x2="183.04" y2="188.1" stroke="#000" stroke-width="0.8"/><text x="183.04" y="195.90" text-anchor="middle" font-size="6.67">431750</text><text x="93.90" y="204.50" text-anchor="middle" font-size="6.45">X Coordinate</text><text transform="translate(-27.6,92.45) rotate(-90)" x="0" y="0" text-anchor="middle" font-size="6.45">Y Coordinate</text><text x="0.9" y="-2.95" font-size="8">1e6</text><text x="93.90" y="-12.6" text-anchor="middle" font-size="8">Failing to stop at red traffic light: Moran&#39;s I = 0.056</text></g>
<g transform="translate(263.00,252.02)"><clipPath id="cp4"><rect x="0" y="0" width="187.45" height="184.9"/></clipPath><g clip-path="url(#cp4)"><g transform="scale(0.9981,1)"><path d="M16.3,82.0 L16.4,104.5" stroke="rgb(0,0,255)" stroke-width="6.30" stroke-dasharray="0 3.7"/><path d="M9.5,44.0 L104.0,8.3" stroke="rgb(0,0,255)" stroke-width="5.00" stroke-dasharray="0 3.7"/><path d="M9.5,44.0 L12.0,53.0 L13.8,62.0 L15.5,72.0 L16.3,80.0" stroke="rgb(0,0,255)" stroke-width="5.00" stroke-dasharray="0 3.7"/><path d="M16.3,80.0 L16.1,105.0 L16.0,162.0" stroke="rgb(0,0,255)" stroke-width="5.00" stroke-dasharray="0 3.7"/><path d="M16.0,81.0 L61.9,81.0" stroke="rgb(0,0,255)" stroke-width="5.00" stroke-dasharray="0 3.7"/><path d="M61.9,81.0 L61.9,59.8" stroke="rgb(0,0,255)" stroke-width="5.00" stroke-dasharray="0 3.7"/><path d="M61.9,59.8 L105.5,59.4" stroke="rgb(0,0,255)" stroke-width="5.00" stroke-dasharray="0 3.7"/><path d="M16.0,105.7 L44.8,105.7 L52.8,104.1 L103.3,103.2" stroke="rgb(0,0,255)" stroke-width="5.00" stroke-dasharray="0 3.7"/><path d="M16.0,162.0 L76.6,162.6" stroke="rgb(0,0,255)" stroke-width="5.00" stroke-dasharray="0 3.7"/><path d="M76.6,162.6 L86.0,164.5 L95.5,167.0 L104.0,168.8 L111.7,170.6 L119.0,173.2 L125.7,175.0" stroke="rgb(0,0,255)" stroke-width="5.00" stroke-dasharray="0 3.7"/><path d="M125.7,175.2 L176.9,175.9" stroke="rgb(0,0,255)" stroke-width="5.00" stroke-dasharray="0 3.7"/><path d="M104.0,8.3 L105.4,41.8 L106.8,95.0 L111.7,170.3" stroke="rgb(0,0,255)" stroke-width="5.40" stroke-dasharray="0 3.7"/><path d="M105.2,44.6 L179.0,44.6" stroke="rgb(0,0,255)" stroke-width="5.00" stroke-dasharray="0 3.7"/><path d="M179.0,44.6 L179.8,100.0 L176.9,175.9" stroke="rgb(0,0,255)" stroke-width="5.00" stroke-dasharray="0 3.7"/><path d="M106.3,79.0 L179.5,79.5" stroke="rgb(0,0,255)" stroke-width="5.00" stroke-dasharray="0 3.7"/><path d="M106.5,83.2 L118.0,83.5 L121.0,85.3 L132.0,85.3 L135.0,83.8 L179.5,84.3" stroke="rgb(0,0,255)" stroke-width="5.00" stroke-dasharray="0 3.7"/><path d="M110.3,135.2 L132.0,132.4" stroke="rgb(0,0,255)" stroke-width="5.00" stroke-dasharray="0 3.7"/><path d="M132.7,123.8 L134.8,152.8" stroke="rgb(0,0,255)" stroke-width="5.00" stroke-dasharray="0 3.7"/><path d="M111.7,152.8 L134.8,152.8" stroke="rgb(0,0,255)" stroke-width="5.00" stroke-dasharray="0 3.7"/><circle cx="10.2" cy="43.7" r="2.40" class="HL"/><circle cx="40.7" cy="32.2" r="2.40" class="HL"/><circle cx="54.4" cy="27.0" r="2.40" class="HL"/><circle cx="62.9" cy="23.8" r="2.40" class="HL"/><circle cx="74.0" cy="19.6" r="2.40" class="HL"/><circle cx="98.8" cy="10.3" r="2.40" class="HL"/><circle cx="30.1" cy="36.2" r="2.40" class="HL"/><circle cx="86.0" cy="15.1" r="2.40" class="HL"/><circle cx="57.9" cy="25.7" r="2.40" class="LH"/><circle cx="11.7" cy="52.0" r="2.40" class="LH"/><circle cx="12.4" cy="55.0" r="2.40" class="LH"/><circle cx="13.0" cy="58.0" r="2.40" class="LH"/><circle cx="15.2" cy="70.0" r="2.40" class="HL"/><circle cx="104.0" cy="9.1" r="2.40" class="LH"/><circle cx="105.0" cy="31.4" r="2.40" class="LH"/><circle cx="105.4" cy="43.6" r="2.40" class="LH"/><circle cx="105.6" cy="50.4" r="2.40" class="LH"/><circle cx="105.7" cy="53.3" r="2.40" class="LH"/><circle cx="106.4" cy="78.0" r="2.40" class="LH"/><circle cx="104.7" cy="24.9" r="2.40" class="HL"/><circle cx="105.3" cy="38.7" r="2.40" class="HL"/><circle cx="105.8" cy="58.1" r="2.40" class="HL"/><circle cx="106.0" cy="63.0" r="2.40" class="HL"/><circle cx="61.9" cy="59.8" r="2.40" class="LH"/><circle cx="61.9" cy="78.4" r="2.40" class="LH"/><circle cx="61.9" cy="66.0" r="2.40" class="HL"/><circle cx="61.9" cy="70.0" r="2.40" class="HL"/><circle cx="61.9" cy="74.0" r="2.40" class="HL"/><circle cx="64.2" cy="59.8" r="2.40" class="LH"/><circle cx="79.4" cy="59.6" r="2.40" class="LH"/><circle cx="86.4" cy="59.6" r="2.40" class="LH"/><circle cx="93.4" cy="59.5" r="2.40" class="LH"/><circle cx="98.9" cy="59.5" r="2.40" class="LH"/><circle cx="69.7" cy="59.7" r="2.40" class="HL"/><circle cx="103.0" cy="59.4" r="2.40" class="HL"/><circle cx="16.0" cy="81.0" r="2.40" class="HL"/><circle cx="32.3" cy="81.0" r="2.40" class="HL"/><circle cx="58.7" cy="81.0" r="2.40" class="HL"/><circle cx="112.8" cy="44.6" r="2.40" class="HL"/><circle cx="121.1" cy="44.6" r="2.40" class="HL"/><circle cx="126.6" cy="44.6" r="2.40" class="HL"/><circle cx="137.7" cy="44.6" r="2.40" class="HL"/><circle cx="150.0" cy="44.6" r="2.40" class="HL"/><circle cx="160.0" cy="44.6" r="2.40" class="HL"/><circle cx="170.0" cy="44.6" r="2.40" class="HL"/><circle cx="107.0" cy="44.6" r="2.40" class="LH"/><circle cx="179.2" cy="60.4" r="2.40" class="HL"/><circle cx="179.3" cy="68.6" r="2.40" class="HL"/><circle cx="179.5" cy="82.4" r="2.40" class="HL"/><circle cx="179.8" cy="100.1" r="2.40" class="HL"/><circle cx="178.8" cy="125.0" r="2.40" class="HL"/><circle cx="178.7" cy="130.0" r="2.40" class="HL"/><circle cx="179.6" cy="89.3" r="2.40" class="LH"/><circle cx="179.7" cy="91.6" r="2.40" class="LH"/><circle cx="179.4" cy="111.3" r="2.40" class="LH"/><circle cx="179.1" cy="118.1" r="2.40" class="LH"/><circle cx="177.6" cy="158.2" r="2.40" class="HH"/><circle cx="106.3" cy="79.0" r="2.40" class="LH"/><circle cx="110.0" cy="79.0" r="2.40" class="HL"/><circle cx="176.0" cy="79.5" r="2.40" class="HL"/><circle cx="16.1" cy="107.1" r="2.40" class="HL"/><circle cx="16.1" cy="109.9" r="2.40" class="HL"/><circle cx="16.1" cy="113.0" r="2.40" class="HL"/><circle cx="16.1" cy="116.1" r="2.40" class="HL"/><circle cx="16.1" cy="120.8" r="2.40" class="HL"/><circle cx="16.1" cy="119.4" r="2.40" class="LH"/><path d="M16.1,129.0 L16.1,130.2 L16.1,131.3 L16.1,132.5 L16.0,133.6 L16.0,134.8 L16.0,136.0" stroke="rgb(211,211,211)" stroke-width="5.00"/><circle cx="16.2" cy="95.8" r="2.40" class="HH"/><circle cx="21.0" cy="105.7" r="2.40" class="HL"/><circle cx="24.1" cy="105.7" r="2.40" class="HL"/><circle cx="26.7" cy="105.7" r="2.40" class="HL"/><circle cx="55.0" cy="104.1" r="2.40" class="HL"/><circle cx="83.0" cy="103.6" r="2.40" class="HL"/><circle cx="91.5" cy="103.4" r="2.40" class="HL"/><circle cx="37.9" cy="105.7" r="2.40" class="LH"/><circle cx="40.1" cy="105.7" r="2.40" class="LH"/><circle cx="42.0" cy="105.7" r="2.40" class="LH"/><circle cx="44.9" cy="105.7" r="2.40" class="LH"/><circle cx="50.4" cy="104.6" r="2.40" class="LH"/><circle cx="54.1" cy="104.1" r="2.40" class="LH"/><circle cx="60.0" cy="104.0" r="2.40" class="LH"/><circle cx="108.9" cy="126.6" r="2.40" class="LH"/><circle cx="110.4" cy="150.1" r="2.40" class="LH"/><circle cx="110.5" cy="152.1" r="2.40" class="LH"/><circle cx="110.6" cy="154.1" r="2.40" class="LH"/><circle cx="111.6" cy="169.5" r="2.40" class="LH"/><circle cx="109.2" cy="131.9" r="2.40" class="HL"/><circle cx="109.5" cy="135.9" r="2.40" class="HL"/><circle cx="112.8" cy="134.9" r="2.40" class="HL"/><circle cx="125.3" cy="133.3" r="2.40" class="HL"/><circle cx="132.0" cy="132.4" r="2.40" class="HL"/><circle cx="125.0" cy="152.8" r="2.40" class="LH"/><circle cx="128.0" cy="152.8" r="2.40" class="LH"/><circle cx="132.0" cy="152.8" r="2.40" class="LH"/><circle cx="16.0" cy="162.0" r="2.40" class="LH"/><circle cx="32.4" cy="162.2" r="2.40" class="LH"/><circle cx="34.9" cy="162.2" r="2.40" class="LH"/><circle cx="38.0" cy="162.2" r="2.40" class="LH"/><circle cx="41.0" cy="162.2" r="2.40" class="LH"/><circle cx="43.4" cy="162.3" r="2.40" class="LH"/><circle cx="47.7" cy="162.3" r="2.40" class="LH"/><circle cx="49.9" cy="162.3" r="2.40" class="LH"/><circle cx="53.0" cy="162.4" r="2.40" class="LH"/><circle cx="57.4" cy="162.4" r="2.40" class="LH"/><circle cx="74.0" cy="162.6" r="2.40" class="LH"/><circle cx="26.8" cy="162.1" r="2.40" class="HH"/><circle cx="63.9" cy="162.5" r="2.40" class="HL"/><circle cx="85.0" cy="164.3" r="2.40" class="HL"/><circle cx="100.3" cy="168.0" r="2.40" class="HL"/><circle cx="111.4" cy="170.5" r="2.40" class="LH"/><circle cx="140.5" cy="175.4" r="2.40" class="HL"/><circle cx="160.0" cy="175.7" r="2.40" class="HL"/></g></g><rect x="130.34999999999997" y="2.4" width="54.60" height="51.40" rx="1.3" fill="#fff" fill-opacity="0.8" stroke="#ccc" stroke-width="0.6"/><text x="157.65" y="10.75" text-anchor="middle" font-size="8">LISA Clusters</text><circle cx="138.15" cy="17.10" r="1.9" fill="rgb(211,211,211)" fill-opacity="0.7"/><text x="147.95" y="19.00" font-size="5.56" class="le">Not Significant</text><circle cx="138.15" cy="24.93" r="1.9" fill="rgb(255,0,0)" fill-opacity="0.7"/><text x="147.95" y="26.83" font-size="5.56" class="le">High-High</text><circle cx="138.15" cy="32.76" r="1.9" fill="rgb(0,0,255)" fill-opacity="0.7"/><text x="147.95" y="34.66" font-size="5.56" class="le">Low-Low</text><circle cx="138.15" cy="40.59" r="1.9" fill="rgb(255,192,203)" fill-opacity="0.7"/><text x="147.95" y="42.49" font-size="5.56" class="le">High-Low</text><circle cx="138.15" cy="48.42" r="1.9" fill="rgb(128,0,128)" fill-opacity="0.7"/><text x="147.95" y="50.32" font-size="5.56" class="le">Low-High</text><rect x="0" y="0" width="187.45" height="184.9" fill="none" stroke="#000" stroke-width="0.95"/><line x1="-3.2" y1="11.77" x2="0" y2="11.77" stroke="#000" stroke-width="0.8"/><text x="-23.4" y="14.07" font-size="6.67" textLength="17.6" lengthAdjust="spacingAndGlyphs">4.4202</text><line x1="-3.2" y1="33.54" x2="0" y2="33.54" stroke="#000" stroke-width="0.8"/><text x="-23.4" y="35.84" font-size="6.67" textLength="17.6" lengthAdjust="spacingAndGlyphs">4.4200</text><line x1="-3.2" y1="55.31" x2="0" y2="55.31" stroke="#000" stroke-width="0.8"/><text x="-23.4" y="57.61" font-size="6.67" textLength="17.6" lengthAdjust="spacingAndGlyphs">4.4198</text><line x1="-3.2" y1="77.08" x2="0" y2="77.08" stroke="#000" stroke-width="0.8"/><text x="-23.4" y="79.38" font-size="6.67" textLength="17.6" lengthAdjust="spacingAndGlyphs">4.4196</text><line x1="-3.2" y1="98.85" x2="0" y2="98.85" stroke="#000" stroke-width="0.8"/><text x="-23.4" y="101.15" font-size="6.67" textLength="17.6" lengthAdjust="spacingAndGlyphs">4.4194</text><line x1="-3.2" y1="120.62" x2="0" y2="120.62" stroke="#000" stroke-width="0.8"/><text x="-23.4" y="122.92" font-size="6.67" textLength="17.6" lengthAdjust="spacingAndGlyphs">4.4192</text><line x1="-3.2" y1="142.39" x2="0" y2="142.39" stroke="#000" stroke-width="0.8"/><text x="-23.4" y="144.69" font-size="6.67" textLength="17.6" lengthAdjust="spacingAndGlyphs">4.4190</text><line x1="-3.2" y1="164.16" x2="0" y2="164.16" stroke="#000" stroke-width="0.8"/><text x="-23.4" y="166.46" font-size="6.67" textLength="17.6" lengthAdjust="spacingAndGlyphs">4.4188</text><line x1="19.83" y1="184.9" x2="19.83" y2="188.1" stroke="#000" stroke-width="0.8"/><text x="19.83" y="195.90" text-anchor="middle" font-size="6.67">430000</text><line x1="43.10" y1="184.9" x2="43.10" y2="188.1" stroke="#000" stroke-width="0.8"/><text x="43.10" y="195.90" text-anchor="middle" font-size="6.67">430250</text><line x1="66.37" y1="184.9" x2="66.37" y2="188.1" stroke="#000" stroke-width="0.8"/><text x="66.37" y="195.90" text-anchor="middle" font-size="6.67">430500</text><line x1="89.63" y1="184.9" x2="89.63" y2="188.1" stroke="#000" stroke-width="0.8"/><text x="89.63" y="195.90" text-anchor="middle" font-size="6.67">430750</text><line x1="112.90" y1="184.9" x2="112.90" y2="188.1" stroke="#000" stroke-width="0.8"/><text x="112.90" y="195.90" text-anchor="middle" font-size="6.67">431000</text><line x1="136.17" y1="184.9" x2="136.17" y2="188.1" stroke="#000" stroke-width="0.8"/><text x="136.17" y="195.90" text-anchor="middle" font-size="6.67">431250</text><line x1="159.43" y1="184.9" x2="159.43" y2="188.1" stroke="#000" stroke-width="0.8"/><text x="159.43" y="195.90" text-anchor="middle" font-size="6.67">431500</text><line x1="182.70" y1="184.9" x2="182.70" y2="188.1" stroke="#000" stroke-width="0.8"/><text x="182.70" y="195.90" text-anchor="middle" font-size="6.67">431750</text><text x="93.72" y="204.50" text-anchor="middle" font-size="6.45">X Coordinate</text><text transform="translate(-27.6,92.45) rotate(-90)" x="0" y="0" text-anchor="middle" font-size="6.45">Y Coordinate</text><text x="0.9" y="-2.95" font-size="8">1e6</text><text x="93.72" y="-4.6" text-anchor="middle" font-size="8">Illegal vehicles on the road: Moran&#39;s I = 0.079</text></g>
<g transform="translate(491.36,252.02)"><clipPath id="cp5"><rect x="0" y="0" width="187.1" height="184.9"/></clipPath><g clip-path="url(#cp5)"><g transform="scale(0.9963,1)"><path d="M16.3,82.0 L16.4,104.5" stroke="rgb(255,192,203)" stroke-width="6.10"/><path d="M9.5,44.0 L104.0,8.3" stroke="rgb(255,192,203)" stroke-width="4.80"/><path d="M9.5,44.0 L12.0,53.0 L13.8,62.0 L15.5,72.0 L16.3,80.0" stroke="rgb(255,192,203)" stroke-width="4.80"/><path d="M16.3,80.0 L16.1,105.0 L16.0,162.0" stroke="rgb(255,192,203)" stroke-width="4.80"/><path d="M16.0,81.0 L61.9,81.0" stroke="rgb(255,192,203)" stroke-width="4.80"/><path d="M61.9,81.0 L61.9,59.8" stroke="rgb(255,192,203)" stroke-width="4.80"/><path d="M61.9,59.8 L105.5,59.4" stroke="rgb(255,192,203)" stroke-width="4.80"/><path d="M16.0,105.7 L44.8,105.7 L52.8,104.1 L103.3,103.2" stroke="rgb(255,192,203)" stroke-width="4.80"/><path d="M16.0,162.0 L76.6,162.6" stroke="rgb(255,192,203)" stroke-width="4.80"/><path d="M76.6,162.6 L86.0,164.5 L95.5,167.0 L104.0,168.8 L111.7,170.6 L119.0,173.2 L125.7,175.0" stroke="rgb(255,192,203)" stroke-width="4.80"/><path d="M125.7,175.2 L176.9,175.9" stroke="rgb(255,192,203)" stroke-width="4.80"/><path d="M104.0,8.3 L105.4,41.8 L106.8,95.0 L111.7,170.3" stroke="rgb(255,192,203)" stroke-width="5.20"/><path d="M105.2,44.6 L179.0,44.6" stroke="rgb(255,192,203)" stroke-width="4.80"/><path d="M179.0,44.6 L179.8,100.0 L176.9,175.9" stroke="rgb(255,192,203)" stroke-width="4.80"/><path d="M106.3,79.0 L179.5,79.5" stroke="rgb(255,192,203)" stroke-width="4.80"/><path d="M106.5,83.2 L118.0,83.5 L121.0,85.3 L132.0,85.3 L135.0,83.8 L179.5,84.3" stroke="rgb(255,192,203)" stroke-width="4.80"/><path d="M110.3,135.2 L132.0,132.4" stroke="rgb(255,192,203)" stroke-width="4.80"/><path d="M132.7,123.8 L134.8,152.8" stroke="rgb(255,192,203)" stroke-width="4.80"/><path d="M111.7,152.8 L134.8,152.8" stroke="rgb(255,192,203)" stroke-width="4.80"/><path d="M9.5,44.0 L10.5,43.6 L11.4,43.3 L12.4,42.9 L13.4,42.5 L14.4,42.2 L15.3,41.8 L16.3,41.4 L17.3,41.1 L18.3,40.7 L19.2,40.3 L20.2,40.0 L21.2,39.6 L22.1,39.2 L23.1,38.9 L24.1,38.5 L25.1,38.1 L26.0,37.8" stroke="rgb(211,211,211)" stroke-width="4.80"/><path d="M49.9,28.7 L50.9,28.4 L51.9,28.0 L52.9,27.6 L54.0,27.2 L55.0,26.8 L56.0,26.4 L57.0,26.1 L58.0,25.7 L59.0,25.3 L60.1,24.9" stroke="rgb(211,211,211)" stroke-width="4.80"/><path d="M66.0,22.7 L67.0,22.3 L68.0,21.9 L69.0,21.5 L70.0,21.2 L71.0,20.8 L72.0,20.4 L73.0,20.0 L74.0,19.6" stroke="rgb(211,211,211)" stroke-width="4.80"/><path d="M79.9,17.4 L80.9,17.0 L82.0,16.6 L83.0,16.2 L84.0,15.9 L85.0,15.5 L86.0,15.1" stroke="rgb(211,211,211)" stroke-width="4.80"/><path d="M22.0,81.0 L23.0,81.0 L24.0,81.0 L25.0,81.0 L26.0,81.0 L27.0,81.0 L28.0,81.0 L29.0,81.0 L30.0,81.0 L31.0,81.0 L32.0,81.0 L33.0,81.0 L34.0,81.0 L35.0,81.0 L36.0,81.0 L37.0,81.0 L38.0,81.0 L39.0,81.0 L40.0,81.0 L41.0,81.0 L42.0,81.0 L43.0,81.0 L44.0,81.0 L45.0,81.0 L46.0,81.0 L47.0,81.0 L48.0,81.0 L49.0,81.0 L50.0,81.0 L51.0,81.0 L52.0,81.0 L53.0,81.0 L54.0,81.0 L55.0,81.0 L56.0,81.0 L57.0,81.0 L58.0,81.0" stroke="rgb(211,211,211)" stroke-width="4.80"/><path d="M61.9,76.0 L61.9,75.0 L61.9,74.0 L61.9,73.0 L61.9,72.0 L61.9,71.0 L61.9,70.0 L61.9,69.0 L61.9,68.0 L61.9,67.0 L61.9,66.0" stroke="rgb(211,211,211)" stroke-width="4.80"/><path d="M112.0,79.0 L113.0,79.0 L114.0,79.1 L115.0,79.1 L116.0,79.1 L117.0,79.1 L118.1,79.1 L119.1,79.1 L120.1,79.1 L121.1,79.1 L122.1,79.1 L123.1,79.1 L124.2,79.1 L125.2,79.1 L126.2,79.1 L127.2,79.1 L128.2,79.1 L129.2,79.2 L130.2,79.2 L131.3,79.2 L132.3,79.2 L133.3,79.2 L134.3,79.2 L135.3,79.2 L136.3,79.2 L137.3,79.2 L138.4,79.2 L139.4,79.2 L140.4,79.2 L141.4,79.2 L142.4,79.2 L143.4,79.3 L144.4,79.3 L145.5,79.3 L146.5,79.3 L147.5,79.3 L148.5,79.3 L149.5,79.3 L150.5,79.3 L151.6,79.3 L152.6,79.3 L153.6,79.3 L154.6,79.3 L155.6,79.3 L156.6,79.3 L157.6,79.4 L158.7,79.4 L159.7,79.4 L160.7,79.4 L161.7,79.4 L162.7,79.4 L163.7,79.4 L164.7,79.4 L165.8,79.4 L166.8,79.4 L167.8,79.4 L168.8,79.4 L169.8,79.4 L170.8,79.4 L171.8,79.4 L172.9,79.5 L173.9,79.5 L174.9,79.5 L175.9,79.5 L176.9,79.5 L177.9,79.5 L179.0,79.5" stroke="rgb(211,211,211)" stroke-width="4.80"/><path d="M117.9,83.5 L118.8,84.0 L119.7,84.5 L120.6,85.0 L121.5,85.3 L122.5,85.3 L123.5,85.3 L124.5,85.3 L125.6,85.3 L126.6,85.3 L127.6,85.3 L128.6,85.3 L129.6,85.3 L130.6,85.3 L131.6,85.3 L132.6,85.0 L133.5,84.6 L134.4,84.1 L135.3,83.8 L136.4,83.8 L137.4,83.8 L138.4,83.8 L139.4,83.8 L140.4,83.9 L141.4,83.9 L142.4,83.9 L143.5,83.9 L144.5,83.9 L145.5,83.9 L146.5,83.9 L147.5,83.9 L148.5,84.0 L149.5,84.0 L150.6,84.0 L151.6,84.0 L152.6,84.0 L153.6,84.0 L154.6,84.0 L155.6,84.0 L156.6,84.0 L157.7,84.1 L158.7,84.1 L159.7,84.1 L160.7,84.1 L161.7,84.1 L162.7,84.1 L163.7,84.1 L164.8,84.1 L165.8,84.1 L166.8,84.2 L167.8,84.2 L168.8,84.2 L169.8,84.2 L170.8,84.2 L171.8,84.2 L172.9,84.2 L173.9,84.2 L174.9,84.2 L175.9,84.3 L176.9,84.3 L177.9,84.3 L178.9,84.3" stroke="rgb(211,211,211)" stroke-width="4.80"/><path d="M132.7,124.0 L132.8,125.0 L132.9,126.0 L132.9,127.0 L133.0,128.0 L133.1,129.0 L133.1,130.0 L133.2,131.0 L133.3,132.0 L133.4,133.0 L133.4,134.0 L133.5,135.0 L133.6,136.0 L133.7,137.0 L133.7,138.0 L133.8,139.0 L133.9,140.0 L133.9,141.0 L134.0,142.0 L134.1,143.0 L134.2,144.0 L134.2,145.0" stroke="rgb(211,211,211)" stroke-width="4.80"/><path d="M118.0,152.8 L119.0,152.8 L120.0,152.8 L121.0,152.8 L122.0,152.8 L123.0,152.8 L124.0,152.8 L125.0,152.8 L126.0,152.8 L127.0,152.8 L128.0,152.8 L129.0,152.8 L130.0,152.8 L131.0,152.8 L132.0,152.8" stroke="rgb(211,211,211)" stroke-width="4.80"/><path d="M140.0,175.4 L141.1,175.4 L142.2,175.4 L143.3,175.4 L144.4,175.5 L145.4,175.5 L146.5,175.5 L147.6,175.5 L148.7,175.5 L149.8,175.5 L150.9,175.5 L151.9,175.6" stroke="rgb(211,211,211)" stroke-width="4.80"/><path d="M160.0,175.7 L161.1,175.7 L162.2,175.7 L163.3,175.7 L164.4,175.7 L165.6,175.7 L166.7,175.8 L167.8,175.8 L168.9,175.8 L170.0,175.8" stroke="rgb(211,211,211)" stroke-width="4.80"/><path d="M16.1,104.0 L16.1,105.0 L16.1,106.0 L16.1,107.0 L16.1,108.1 L16.1,109.1 L16.1,110.1 L16.1,111.1 L16.1,112.1 L16.1,113.1 L16.1,114.2 L16.1,115.2 L16.1,116.2 L16.1,117.2 L16.1,118.2 L16.1,119.2 L16.1,120.3 L16.1,121.3 L16.1,122.3 L16.1,123.3 L16.1,124.3 L16.1,125.3 L16.1,126.4 L16.1,127.4 L16.1,128.4 L16.1,129.4 L16.1,130.4 L16.1,131.5 L16.1,132.5 L16.1,133.5 L16.0,134.5 L16.0,135.5 L16.0,136.5 L16.0,137.6 L16.0,138.6 L16.0,139.6 L16.0,140.6 L16.0,141.6 L16.0,142.6 L16.0,143.7 L16.0,144.7 L16.0,145.7 L16.0,146.7 L16.0,147.7 L16.0,148.7 L16.0,149.8 L16.0,150.8 L16.0,151.8 L16.0,152.8 L16.0,153.8 L16.0,154.8 L16.0,155.9 L16.0,156.9 L16.0,157.9" stroke="rgb(211,211,211)" stroke-width="4.80"/><path d="M179.0,46.9 L179.0,47.9 L179.1,48.9 L179.1,49.9 L179.1,50.9 L179.1,51.9 L179.1,52.9 L179.1,53.9 L179.1,54.9 L179.2,55.9 L179.2,56.9 L179.2,57.9 L179.2,59.0 L179.2,60.0 L179.2,61.0 L179.3,62.0 L179.3,63.0 L179.3,64.0" stroke="rgb(211,211,211)" stroke-width="4.80"/><path d="M179.4,69.9 L179.4,70.9 L179.4,71.9 L179.4,72.9 L179.4,73.9 L179.4,74.9 L179.5,75.9 L179.5,76.9 L179.5,77.9 L179.5,78.9 L179.5,80.0 L179.5,81.0 L179.5,82.0 L179.6,83.0 L179.6,84.0 L179.6,85.0 L179.6,86.0 L179.6,87.0 L179.6,88.0 L179.6,89.0 L179.7,90.0 L179.7,91.0 L179.7,92.0 L179.7,93.0 L179.7,94.1 L179.7,95.1 L179.7,96.1 L179.8,97.1 L179.8,98.1 L179.8,99.1 L179.8,100.1" stroke="rgb(211,211,211)" stroke-width="4.80"/><path d="M179.3,111.9 L179.3,112.9 L179.3,113.9 L179.2,114.9 L179.2,115.9 L179.2,117.0 L179.1,118.0 L179.1,119.0 L179.0,120.0 L179.0,121.0 L179.0,122.0 L178.9,123.0 L178.9,124.0 L178.8,125.0" stroke="rgb(211,211,211)" stroke-width="4.80"/><path d="M178.3,140.1 L178.2,141.2 L178.2,142.3 L178.1,143.4 L178.1,144.5 L178.1,145.6 L178.0,146.7 L178.0,147.8 L177.9,148.9 L177.9,150.0" stroke="rgb(211,211,211)" stroke-width="4.80"/><path d="M107.1,99.9 L107.2,100.9 L107.2,101.9 L107.3,102.9 L107.4,103.9 L107.4,104.9 L107.5,106.0 L107.6,107.0 L107.6,108.0 L107.7,109.0 L107.8,110.0 L107.8,111.0 L107.9,112.0" stroke="rgb(211,211,211)" stroke-width="5.20"/><path d="M108.8,125.0 L108.8,126.0 L108.9,127.0 L108.9,128.0 L109.0,129.0 L109.1,130.0 L109.1,131.0 L109.2,132.0 L109.3,133.0 L109.3,134.0 L109.4,135.0 L109.5,136.0 L109.5,137.0 L109.6,138.0 L109.7,139.0 L109.7,140.0" stroke="rgb(211,211,211)" stroke-width="5.20"/><path d="M54.9,162.4 L56.0,162.4 L57.1,162.4 L58.1,162.4 L59.2,162.4 L60.3,162.4 L61.4,162.4 L62.4,162.5 L63.5,162.5 L64.6,162.5 L65.6,162.5 L66.7,162.5 L67.8,162.5 L68.9,162.5 L69.9,162.5" stroke="rgb(211,211,211)" stroke-width="4.80"/><path d="M84.1,164.1 L85.1,164.3 L86.1,164.5 L87.1,164.8 L88.1,165.0 L89.1,165.3 L90.1,165.6 L91.1,165.8 L92.0,166.1" stroke="rgb(211,211,211)" stroke-width="4.80"/><path d="M129.9,44.6 L130.9,44.6 L132.0,44.6 L133.0,44.6 L134.0,44.6 L135.0,44.6 L136.0,44.6 L137.0,44.6 L138.0,44.6 L139.1,44.6 L140.1,44.6" stroke="rgb(211,211,211)" stroke-width="4.80"/><path d="M60.0,104.0 L61.0,104.0 L62.0,103.9 L63.0,103.9 L64.0,103.9 L65.0,103.9 L66.0,103.9 L67.1,103.8 L68.1,103.8 L69.1,103.8 L70.1,103.8" stroke="rgb(211,211,211)" stroke-width="4.80"/><circle cx="16.1" cy="105.2" r="2.10" class="HL"/><circle cx="16.1" cy="108.7" r="2.10" class="HL"/><circle cx="16.0" cy="138.9" r="2.10" class="HL"/><circle cx="16.0" cy="145.5" r="2.10" class="HL"/><circle cx="16.0" cy="153.4" r="2.10" class="HL"/><circle cx="166.7" cy="79.4" r="2.10" class="HL"/><circle cx="122.5" cy="79.1" r="2.10" class="HL"/><circle cx="146.4" cy="79.3" r="2.10" class="HL"/><circle cx="173.2" cy="79.5" r="2.10" class="HL"/><circle cx="134.7" cy="83.9" r="2.10" class="HL"/><circle cx="120.7" cy="85.1" r="2.10" class="HL"/><circle cx="148.5" cy="84.0" r="2.10" class="HL"/><circle cx="145.2" cy="83.9" r="2.10" class="HL"/><circle cx="172.1" cy="84.2" r="2.10" class="HL"/><circle cx="17.9" cy="40.8" r="2.10" class="HL"/><circle cx="13.5" cy="42.5" r="2.10" class="HL"/><circle cx="19.0" cy="40.4" r="2.30" class="HH"/><circle cx="36.9" cy="33.6" r="2.30" class="LH"/><circle cx="38.6" cy="33.0" r="2.30" class="LH"/><circle cx="92.4" cy="12.7" r="2.30" class="LH"/><circle cx="11.3" cy="50.6" r="2.30" class="HH"/><circle cx="14.5" cy="65.9" r="2.30" class="HH"/><circle cx="61.9" cy="63.1" r="2.30" class="HH"/><circle cx="66.2" cy="59.8" r="2.30" class="LH"/><circle cx="68.0" cy="59.7" r="2.30" class="LH"/><circle cx="91.1" cy="59.5" r="2.30" class="LH"/><circle cx="99.5" cy="59.5" r="2.30" class="LH"/><circle cx="101.5" cy="59.4" r="2.30" class="LH"/><circle cx="103.6" cy="59.4" r="2.30" class="LH"/><circle cx="84.2" cy="59.6" r="2.30" class="HH"/><circle cx="104.1" cy="9.5" r="2.30" class="LH"/><circle cx="104.2" cy="14.0" r="2.30" class="LH"/><circle cx="104.4" cy="18.8" r="2.30" class="LH"/><circle cx="104.6" cy="22.9" r="2.30" class="LH"/><circle cx="104.8" cy="26.9" r="2.30" class="LH"/><circle cx="104.9" cy="31.0" r="2.30" class="LH"/><circle cx="105.1" cy="33.8" r="2.30" class="LH"/><circle cx="105.2" cy="37.1" r="2.30" class="LH"/><circle cx="105.4" cy="41.1" r="2.30" class="LH"/><circle cx="105.5" cy="44.0" r="2.30" class="LH"/><circle cx="105.5" cy="47.2" r="2.30" class="LH"/><circle cx="105.6" cy="50.0" r="2.30" class="LH"/><circle cx="104.0" cy="8.3" r="2.30" class="HH"/><circle cx="109.3" cy="44.6" r="2.30" class="HH"/><circle cx="178.4" cy="44.6" r="2.30" class="HH"/><circle cx="122.9" cy="44.6" r="2.30" class="LH"/><circle cx="150.0" cy="44.6" r="2.30" class="LH"/><circle cx="152.2" cy="44.6" r="2.30" class="LH"/><circle cx="153.9" cy="44.6" r="2.30" class="LH"/><circle cx="16.3" cy="85.3" r="2.30" class="HH"/><circle cx="16.2" cy="88.0" r="2.30" class="LH"/><circle cx="26.1" cy="105.7" r="2.30" class="LH"/><circle cx="28.7" cy="105.7" r="2.30" class="LH"/><circle cx="38.3" cy="105.7" r="2.30" class="LH"/><circle cx="40.5" cy="105.7" r="2.30" class="LH"/><circle cx="42.9" cy="105.7" r="2.30" class="LH"/><circle cx="45.5" cy="105.6" r="2.30" class="LH"/><circle cx="48.1" cy="105.0" r="2.30" class="LH"/><circle cx="78.6" cy="103.6" r="2.30" class="LH"/><circle cx="81.4" cy="103.6" r="2.30" class="LH"/><circle cx="20.6" cy="105.7" r="2.00" class="gHH"/><circle cx="37.0" cy="105.7" r="2.00" class="gHH"/><circle cx="55.0" cy="104.1" r="2.00" class="gHH"/><circle cx="67.4" cy="103.8" r="2.00" class="gHH"/><circle cx="85.6" cy="103.5" r="2.00" class="gHH"/><circle cx="93.9" cy="103.4" r="2.00" class="gHH"/><circle cx="106.9" cy="95.8" r="2.00" class="gHH"/><circle cx="108.3" cy="118.1" r="2.00" class="gHH"/><circle cx="110.6" cy="152.9" r="2.00" class="gHH"/><circle cx="111.2" cy="162.2" r="2.30" class="LH"/><circle cx="113.3" cy="134.8" r="2.30" class="LH"/><circle cx="120.3" cy="133.9" r="2.30" class="LH"/><circle cx="134.1" cy="152.8" r="2.30" class="LH"/><circle cx="16.0" cy="162.0" r="2.30" class="HH"/><circle cx="36.0" cy="162.2" r="2.00" class="gHH"/><circle cx="41.1" cy="162.2" r="2.00" class="gHH"/><circle cx="26.0" cy="162.1" r="2.30" class="LH"/><circle cx="34.3" cy="162.2" r="2.30" class="LH"/><circle cx="37.1" cy="162.2" r="2.30" class="LH"/><circle cx="39.8" cy="162.2" r="2.30" class="LH"/><circle cx="46.8" cy="162.3" r="2.30" class="LH"/><circle cx="49.0" cy="162.3" r="2.30" class="LH"/><circle cx="50.8" cy="162.3" r="2.30" class="LH"/><circle cx="73.1" cy="162.6" r="2.30" class="LH"/><circle cx="75.8" cy="162.6" r="2.30" class="LH"/><circle cx="83.1" cy="163.9" r="2.30" class="HH"/><circle cx="99.4" cy="167.8" r="2.30" class="HH"/><circle cx="179.7" cy="102.7" r="2.30" class="LH"/><circle cx="178.7" cy="129.0" r="2.30" class="LH"/><circle cx="178.6" cy="130.9" r="2.30" class="LH"/><circle cx="178.5" cy="132.9" r="2.30" class="LH"/><circle cx="178.4" cy="135.5" r="2.30" class="LH"/><circle cx="178.4" cy="137.5" r="2.30" class="LH"/><circle cx="177.1" cy="170.6" r="2.30" class="HH"/></g></g><rect x="129.99999999999997" y="2.4" width="54.60" height="43.60" rx="1.3" fill="#fff" fill-opacity="0.8" stroke="#ccc" stroke-width="0.6"/><text x="157.30" y="10.75" text-anchor="middle" font-size="8">LISA Clusters</text><circle cx="137.80" cy="17.10" r="1.9" fill="rgb(211,211,211)" fill-opacity="0.7"/><text x="147.60" y="19.00" font-size="5.56" class="le">Not Significant</text><circle cx="137.80" cy="24.93" r="1.9" fill="rgb(255,0,0)" fill-opacity="0.7"/><text x="147.60" y="26.83" font-size="5.56" class="le">High-High</text><circle cx="137.80" cy="32.76" r="1.9" fill="rgb(255,192,203)" fill-opacity="0.7"/><text x="147.60" y="34.66" font-size="5.56" class="le">High-Low</text><circle cx="137.80" cy="40.59" r="1.9" fill="rgb(128,0,128)" fill-opacity="0.7"/><text x="147.60" y="42.49" font-size="5.56" class="le">Low-High</text><rect x="0" y="0" width="187.1" height="184.9" fill="none" stroke="#000" stroke-width="0.95"/><line x1="-3.2" y1="11.77" x2="0" y2="11.77" stroke="#000" stroke-width="0.8"/><text x="-23.4" y="14.07" font-size="6.67" textLength="17.6" lengthAdjust="spacingAndGlyphs">4.4202</text><line x1="-3.2" y1="33.54" x2="0" y2="33.54" stroke="#000" stroke-width="0.8"/><text x="-23.4" y="35.84" font-size="6.67" textLength="17.6" lengthAdjust="spacingAndGlyphs">4.4200</text><line x1="-3.2" y1="55.31" x2="0" y2="55.31" stroke="#000" stroke-width="0.8"/><text x="-23.4" y="57.61" font-size="6.67" textLength="17.6" lengthAdjust="spacingAndGlyphs">4.4198</text><line x1="-3.2" y1="77.08" x2="0" y2="77.08" stroke="#000" stroke-width="0.8"/><text x="-23.4" y="79.38" font-size="6.67" textLength="17.6" lengthAdjust="spacingAndGlyphs">4.4196</text><line x1="-3.2" y1="98.85" x2="0" y2="98.85" stroke="#000" stroke-width="0.8"/><text x="-23.4" y="101.15" font-size="6.67" textLength="17.6" lengthAdjust="spacingAndGlyphs">4.4194</text><line x1="-3.2" y1="120.62" x2="0" y2="120.62" stroke="#000" stroke-width="0.8"/><text x="-23.4" y="122.92" font-size="6.67" textLength="17.6" lengthAdjust="spacingAndGlyphs">4.4192</text><line x1="-3.2" y1="142.39" x2="0" y2="142.39" stroke="#000" stroke-width="0.8"/><text x="-23.4" y="144.69" font-size="6.67" textLength="17.6" lengthAdjust="spacingAndGlyphs">4.4190</text><line x1="-3.2" y1="164.16" x2="0" y2="164.16" stroke="#000" stroke-width="0.8"/><text x="-23.4" y="166.46" font-size="6.67" textLength="17.6" lengthAdjust="spacingAndGlyphs">4.4188</text><line x1="19.80" y1="184.9" x2="19.80" y2="188.1" stroke="#000" stroke-width="0.8"/><text x="19.80" y="195.90" text-anchor="middle" font-size="6.67">430000</text><line x1="43.02" y1="184.9" x2="43.02" y2="188.1" stroke="#000" stroke-width="0.8"/><text x="43.02" y="195.90" text-anchor="middle" font-size="6.67">430250</text><line x1="66.24" y1="184.9" x2="66.24" y2="188.1" stroke="#000" stroke-width="0.8"/><text x="66.24" y="195.90" text-anchor="middle" font-size="6.67">430500</text><line x1="89.47" y1="184.9" x2="89.47" y2="188.1" stroke="#000" stroke-width="0.8"/><text x="89.47" y="195.90" text-anchor="middle" font-size="6.67">430750</text><line x1="112.69" y1="184.9" x2="112.69" y2="188.1" stroke="#000" stroke-width="0.8"/><text x="112.69" y="195.90" text-anchor="middle" font-size="6.67">431000</text><line x1="135.91" y1="184.9" x2="135.91" y2="188.1" stroke="#000" stroke-width="0.8"/><text x="135.91" y="195.90" text-anchor="middle" font-size="6.67">431250</text><line x1="159.13" y1="184.9" x2="159.13" y2="188.1" stroke="#000" stroke-width="0.8"/><text x="159.13" y="195.90" text-anchor="middle" font-size="6.67">431500</text><line x1="182.36" y1="184.9" x2="182.36" y2="188.1" stroke="#000" stroke-width="0.8"/><text x="182.36" y="195.90" text-anchor="middle" font-size="6.67">431750</text><text x="93.55" y="204.50" text-anchor="middle" font-size="6.45">X Coordinate</text><text transform="translate(-27.6,92.45) rotate(-90)" x="0" y="0" text-anchor="middle" font-size="6.45">Y Coordinate</text><text x="0.9" y="-2.95" font-size="8">1e6</text><text x="93.55" y="-4.6" text-anchor="middle" font-size="8">Illegal bike parking: Moran&#39;s I = 0.228</text></g>
<g transform="translate(34.63,486.46)"><clipPath id="cp6"><rect x="0" y="0" width="187.8" height="184.9"/></clipPath><g clip-path="url(#cp6)"><g transform="scale(1.0000,1)"><path d="M16.3,82.0 L16.4,104.5" stroke="rgb(0,0,255)" stroke-width="6.30"/><path d="M9.5,44.0 L104.0,8.3" stroke="rgb(0,0,255)" stroke-width="5.00"/><path d="M9.5,44.0 L12.0,53.0 L13.8,62.0 L15.5,72.0 L16.3,80.0" stroke="rgb(0,0,255)" stroke-width="5.00"/><path d="M16.3,80.0 L16.1,105.0 L16.0,162.0" stroke="rgb(0,0,255)" stroke-width="5.00"/><path d="M16.0,81.0 L61.9,81.0" stroke="rgb(0,0,255)" stroke-width="5.00"/><path d="M61.9,81.0 L61.9,59.8" stroke="rgb(0,0,255)" stroke-width="5.00"/><path d="M61.9,59.8 L105.5,59.4" stroke="rgb(0,0,255)" stroke-width="5.00"/><path d="M16.0,105.7 L44.8,105.7 L52.8,104.1 L103.3,103.2" stroke="rgb(0,0,255)" stroke-width="5.00"/><path d="M16.0,162.0 L76.6,162.6" stroke="rgb(0,0,255)" stroke-width="5.00"/><path d="M76.6,162.6 L86.0,164.5 L95.5,167.0 L104.0,168.8 L111.7,170.6 L119.0,173.2 L125.7,175.0" stroke="rgb(0,0,255)" stroke-width="5.00"/><path d="M125.7,175.2 L176.9,175.9" stroke="rgb(0,0,255)" stroke-width="5.00"/><path d="M104.0,8.3 L105.4,41.8 L106.8,95.0 L111.7,170.3" stroke="rgb(0,0,255)" stroke-width="5.40"/><path d="M105.2,44.6 L179.0,44.6" stroke="rgb(0,0,255)" stroke-width="5.00"/><path d="M179.0,44.6 L179.8,100.0 L176.9,175.9" stroke="rgb(0,0,255)" stroke-width="5.00"/><path d="M106.3,79.0 L179.5,79.5" stroke="rgb(0,0,255)" stroke-width="5.00"/><path d="M106.5,83.2 L118.0,83.5 L121.0,85.3 L132.0,85.3 L135.0,83.8 L179.5,84.3" stroke="rgb(0,0,255)" stroke-width="5.00"/><path d="M110.3,135.2 L132.0,132.4" stroke="rgb(0,0,255)" stroke-width="5.00"/><path d="M132.7,123.8 L134.8,152.8" stroke="rgb(0,0,255)" stroke-width="5.00"/><path d="M111.7,152.8 L134.8,152.8" stroke="rgb(0,0,255)" stroke-width="5.00"/><circle cx="105.5" cy="45.6" r="2.40" class="HL"/><circle cx="106.6" cy="86.5" r="2.40" class="HL"/><circle cx="106.6" cy="86.1" r="2.40" class="HL"/><circle cx="106.2" cy="72.7" r="2.40" class="LH"/><circle cx="106.3" cy="75.2" r="2.40" class="LH"/><circle cx="106.3" cy="77.6" r="2.40" class="LH"/><circle cx="108.1" cy="114.5" r="2.40" class="LH"/><circle cx="111.3" cy="164.6" r="2.40" class="LH"/><circle cx="179.5" cy="78.4" r="2.40" class="HL"/><circle cx="16.1" cy="99.3" r="2.40" class="LH"/><circle cx="103.3" cy="103.2" r="2.40" class="LH"/><circle cx="16.0" cy="162.0" r="2.40" class="LH"/><circle cx="76.3" cy="162.6" r="2.40" class="HL"/><circle cx="105.6" cy="44.6" r="2.40" class="HL"/></g></g><rect x="134.8" y="2.4" width="49.80" height="43.60" rx="1.3" fill="#fff" fill-opacity="0.8" stroke="#ccc" stroke-width="0.6"/><text x="159.70" y="10.75" text-anchor="middle" font-size="8">LISA Clusters</text><circle cx="145.60" cy="17.10" r="1.9" fill="rgb(255,0,0)" fill-opacity="0.7"/><text x="155.80" y="19.00" font-size="5.56" class="le">High-High</text><circle cx="145.60" cy="24.93" r="1.9" fill="rgb(0,0,255)" fill-opacity="0.7"/><text x="155.80" y="26.83" font-size="5.56" class="le">Low-Low</text><circle cx="145.60" cy="32.76" r="1.9" fill="rgb(255,192,203)" fill-opacity="0.7"/><text x="155.80" y="34.66" font-size="5.56" class="le">High-Low</text><circle cx="145.60" cy="40.59" r="1.9" fill="rgb(128,0,128)" fill-opacity="0.7"/><text x="155.80" y="42.49" font-size="5.56" class="le">Low-High</text><rect x="0" y="0" width="187.8" height="184.9" fill="none" stroke="#000" stroke-width="0.95"/><line x1="-3.2" y1="11.77" x2="0" y2="11.77" stroke="#000" stroke-width="0.8"/><text x="-23.4" y="14.07" font-size="6.67" textLength="17.6" lengthAdjust="spacingAndGlyphs">4.4202</text><line x1="-3.2" y1="33.54" x2="0" y2="33.54" stroke="#000" stroke-width="0.8"/><text x="-23.4" y="35.84" font-size="6.67" textLength="17.6" lengthAdjust="spacingAndGlyphs">4.4200</text><line x1="-3.2" y1="55.31" x2="0" y2="55.31" stroke="#000" stroke-width="0.8"/><text x="-23.4" y="57.61" font-size="6.67" textLength="17.6" lengthAdjust="spacingAndGlyphs">4.4198</text><line x1="-3.2" y1="77.08" x2="0" y2="77.08" stroke="#000" stroke-width="0.8"/><text x="-23.4" y="79.38" font-size="6.67" textLength="17.6" lengthAdjust="spacingAndGlyphs">4.4196</text><line x1="-3.2" y1="98.85" x2="0" y2="98.85" stroke="#000" stroke-width="0.8"/><text x="-23.4" y="101.15" font-size="6.67" textLength="17.6" lengthAdjust="spacingAndGlyphs">4.4194</text><line x1="-3.2" y1="120.62" x2="0" y2="120.62" stroke="#000" stroke-width="0.8"/><text x="-23.4" y="122.92" font-size="6.67" textLength="17.6" lengthAdjust="spacingAndGlyphs">4.4192</text><line x1="-3.2" y1="142.39" x2="0" y2="142.39" stroke="#000" stroke-width="0.8"/><text x="-23.4" y="144.69" font-size="6.67" textLength="17.6" lengthAdjust="spacingAndGlyphs">4.4190</text><line x1="-3.2" y1="164.16" x2="0" y2="164.16" stroke="#000" stroke-width="0.8"/><text x="-23.4" y="166.46" font-size="6.67" textLength="17.6" lengthAdjust="spacingAndGlyphs">4.4188</text><line x1="19.87" y1="184.9" x2="19.87" y2="188.1" stroke="#000" stroke-width="0.8"/><text x="19.87" y="195.90" text-anchor="middle" font-size="6.67">430000</text><line x1="43.18" y1="184.9" x2="43.18" y2="188.1" stroke="#000" stroke-width="0.8"/><text x="43.18" y="195.90" text-anchor="middle" font-size="6.67">430250</text><line x1="66.49" y1="184.9" x2="66.49" y2="188.1" stroke="#000" stroke-width="0.8"/><text x="66.49" y="195.90" text-anchor="middle" font-size="6.67">430500</text><line x1="89.80" y1="184.9" x2="89.80" y2="188.1" stroke="#000" stroke-width="0.8"/><text x="89.80" y="195.90" text-anchor="middle" font-size="6.67">430750</text><line x1="113.11" y1="184.9" x2="113.11" y2="188.1" stroke="#000" stroke-width="0.8"/><text x="113.11" y="195.90" text-anchor="middle" font-size="6.67">431000</text><line x1="136.42" y1="184.9" x2="136.42" y2="188.1" stroke="#000" stroke-width="0.8"/><text x="136.42" y="195.90" text-anchor="middle" font-size="6.67">431250</text><line x1="159.73" y1="184.9" x2="159.73" y2="188.1" stroke="#000" stroke-width="0.8"/><text x="159.73" y="195.90" text-anchor="middle" font-size="6.67">431500</text><line x1="183.04" y1="184.9" x2="183.04" y2="188.1" stroke="#000" stroke-width="0.8"/><text x="183.04" y="195.90" text-anchor="middle" font-size="6.67">431750</text><text x="93.90" y="204.50" text-anchor="middle" font-size="6.45">X Coordinate</text><text transform="translate(-27.6,92.45) rotate(-90)" x="0" y="0" text-anchor="middle" font-size="6.45">Y Coordinate</text><text x="0.9" y="-2.95" font-size="8">1e6</text><text x="93.90" y="-4.6" text-anchor="middle" font-size="8">Making calls while riding: Moran&#39;s I = 0.020</text></g>
<g transform="translate(263.00,486.46)"><clipPath id="cp7"><rect x="0" y="0" width="187.45" height="184.9"/></clipPath><g clip-path="url(#cp7)"><g transform="scale(0.9981,1)"><path d="M16.3,82.0 L16.4,104.5" stroke="rgb(211,211,211)" stroke-width="6.10"/><path d="M9.5,44.0 L104.0,8.3" stroke="rgb(211,211,211)" stroke-width="4.80"/><path d="M9.5,44.0 L12.0,53.0 L13.8,62.0 L15.5,72.0 L16.3,80.0" stroke="rgb(211,211,211)" stroke-width="4.80"/><path d="M16.3,80.0 L16.1,105.0 L16.0,162.0" stroke="rgb(211,211,211)" stroke-width="4.80"/><path d="M16.0,81.0 L61.9,81.0" stroke="rgb(211,211,211)" stroke-width="4.80"/><path d="M61.9,81.0 L61.9,59.8" stroke="rgb(211,211,211)" stroke-width="4.80"/><path d="M61.9,59.8 L105.5,59.4" stroke="rgb(211,211,211)" stroke-width="4.80"/><path d="M16.0,105.7 L44.8,105.7 L52.8,104.1 L103.3,103.2" stroke="rgb(211,211,211)" stroke-width="4.80"/><path d="M16.0,162.0 L76.6,162.6" stroke="rgb(211,211,211)" stroke-width="4.80"/><path d="M76.6,162.6 L86.0,164.5 L95.5,167.0 L104.0,168.8 L111.7,170.6 L119.0,173.2 L125.7,175.0" stroke="rgb(211,211,211)" stroke-width="4.80"/><path d="M125.7,175.2 L176.9,175.9" stroke="rgb(211,211,211)" stroke-width="4.80"/><path d="M104.0,8.3 L105.4,41.8 L106.8,95.0 L111.7,170.3" stroke="rgb(211,211,211)" stroke-width="5.20"/><path d="M105.2,44.6 L179.0,44.6" stroke="rgb(211,211,211)" stroke-width="4.80"/><path d="M179.0,44.6 L179.8,100.0 L176.9,175.9" stroke="rgb(211,211,211)" stroke-width="4.80"/><path d="M106.3,79.0 L179.5,79.5" stroke="rgb(211,211,211)" stroke-width="4.80"/><path d="M106.5,83.2 L118.0,83.5 L121.0,85.3 L132.0,85.3 L135.0,83.8 L179.5,84.3" stroke="rgb(211,211,211)" stroke-width="4.80"/><path d="M110.3,135.2 L132.0,132.4" stroke="rgb(211,211,211)" stroke-width="4.80"/><path d="M132.7,123.8 L134.8,152.8" stroke="rgb(211,211,211)" stroke-width="4.80"/><path d="M111.7,152.8 L134.8,152.8" stroke="rgb(211,211,211)" stroke-width="4.80"/><path d="M19.9,40.1 L20.8,39.7 L21.8,39.4 L22.7,39.0 L23.7,38.6 L24.6,38.3 L25.6,37.9 L26.5,37.6 L27.5,37.2 L28.4,36.9 L29.3,36.5 L30.3,36.1 L31.2,35.8 L32.2,35.4 L33.1,35.1 L34.1,34.7 L35.0,34.4" stroke="rgb(255,192,203)" stroke-width="4.80"/><path d="M44.9,30.6 L46.0,30.2 L47.0,29.8 L48.0,29.5 L49.0,29.1 L50.0,28.7 L51.0,28.3 L52.0,27.9" stroke="rgb(255,192,203)" stroke-width="4.80"/><path d="M70.0,21.2 L71.0,20.8 L72.0,20.4 L73.0,20.0 L73.9,19.7 L74.9,19.3 L75.9,18.9 L76.9,18.5 L77.9,18.2 L78.9,17.8 L79.9,17.4" stroke="rgb(255,192,203)" stroke-width="4.80"/><path d="M9.5,44.0 L9.8,45.0 L10.1,46.0 L10.3,47.0 L10.6,48.0 L10.9,49.0 L11.2,50.0 L11.4,51.0 L11.7,52.0 L12.0,53.0 L12.2,54.0 L12.4,55.0 L12.6,56.0 L12.8,57.0 L13.0,58.0 L13.2,59.0 L13.4,60.0" stroke="rgb(255,192,203)" stroke-width="4.80"/><path d="M16.2,88.0 L16.2,89.0 L16.2,90.0 L16.2,91.0 L16.2,92.0 L16.2,93.0 L16.2,94.0 L16.2,95.1 L16.2,96.1 L16.2,97.1 L16.2,98.1 L16.1,99.1 L16.1,100.1" stroke="rgb(255,192,203)" stroke-width="4.80"/><path d="M16.1,115.1 L16.1,116.1 L16.1,117.1 L16.1,118.2 L16.1,119.2 L16.1,120.3 L16.1,121.3 L16.1,122.4 L16.1,123.4 L16.1,124.5 L16.1,125.5 L16.1,126.6 L16.1,127.6 L16.1,128.7 L16.1,129.7 L16.1,130.8 L16.1,131.8 L16.1,132.8 L16.0,133.9 L16.0,134.9" stroke="rgb(255,192,203)" stroke-width="4.80"/><path d="M16.0,145.0 L16.0,146.0 L16.0,147.0 L16.0,148.0 L16.0,149.0 L16.0,150.0 L16.0,151.0 L16.0,152.0 L16.0,153.0 L16.0,154.0 L16.0,155.0" stroke="rgb(255,192,203)" stroke-width="4.80"/><path d="M29.9,162.1 L31.0,162.1 L32.1,162.2 L33.2,162.2 L34.2,162.2 L35.3,162.2 L36.4,162.2 L37.4,162.2 L38.5,162.2 L39.6,162.2 L40.7,162.2 L41.7,162.3 L42.8,162.3 L43.9,162.3 L44.9,162.3" stroke="rgb(255,192,203)" stroke-width="4.80"/><path d="M59.9,162.4 L60.9,162.4 L61.9,162.5 L62.9,162.5 L63.9,162.5 L65.0,162.5 L66.0,162.5 L67.0,162.5 L68.0,162.5 L69.0,162.5 L70.0,162.5 L71.0,162.5 L72.0,162.6 L73.0,162.6 L74.0,162.6 L75.0,162.6 L76.0,162.6" stroke="rgb(255,192,203)" stroke-width="4.80"/><path d="M80.0,163.3 L81.0,163.5 L82.0,163.7 L83.0,163.9 L84.0,164.1 L85.0,164.3 L86.0,164.5 L87.0,164.8 L88.0,165.0 L89.0,165.3 L90.0,165.5 L91.0,165.8 L91.9,166.1 L92.9,166.3 L93.9,166.6 L94.9,166.8 L95.9,167.1 L96.9,167.3 L97.9,167.5 L98.9,167.7 L99.9,167.9" stroke="rgb(255,192,203)" stroke-width="4.80"/><path d="M130.1,175.3 L131.2,175.3 L132.3,175.3 L133.4,175.3 L134.5,175.3 L135.6,175.3 L136.7,175.4 L137.8,175.4 L138.9,175.4 L140.0,175.4" stroke="rgb(255,192,203)" stroke-width="4.80"/><path d="M150.0,175.5 L151.1,175.5 L152.2,175.6 L153.3,175.6 L154.5,175.6 L155.6,175.6 L156.7,175.6 L157.8,175.6 L158.9,175.7 L160.0,175.7" stroke="rgb(255,192,203)" stroke-width="4.80"/><path d="M179.2,60.0 L179.2,61.0 L179.3,62.0 L179.3,63.1 L179.3,64.1 L179.3,65.1 L179.3,66.1 L179.3,67.1 L179.3,68.1 L179.4,69.1 L179.4,70.1 L179.4,71.1 L179.4,72.1 L179.4,73.1 L179.4,74.1 L179.4,75.1" stroke="rgb(255,192,203)" stroke-width="4.80"/><path d="M179.7,89.9 L179.7,90.9 L179.7,91.9 L179.7,92.9 L179.7,93.9 L179.7,94.9 L179.7,95.9 L179.8,96.9 L179.8,97.9 L179.8,98.9 L179.8,99.9 L179.8,100.9 L179.7,101.9 L179.7,102.9 L179.6,103.9 L179.6,104.9 L179.6,105.9 L179.5,106.9 L179.5,107.9 L179.5,108.9 L179.4,109.9" stroke="rgb(255,192,203)" stroke-width="4.80"/><path d="M178.7,130.0 L178.6,131.0 L178.6,132.0 L178.5,133.0 L178.5,134.0 L178.5,135.0 L178.4,136.0 L178.4,137.0 L178.3,138.0 L178.3,139.0 L178.3,140.0 L178.2,141.0 L178.2,142.0 L178.2,143.0 L178.1,144.0 L178.1,145.1" stroke="rgb(255,192,203)" stroke-width="4.80"/><path d="M177.5,160.1 L177.5,161.2 L177.4,162.3 L177.4,163.4 L177.3,164.4 L177.3,165.5 L177.3,166.6 L177.2,167.7 L177.2,168.7 L177.1,169.8 L177.1,170.9 L177.1,172.0" stroke="rgb(255,192,203)" stroke-width="4.80"/><path d="M110.0,83.3 L111.0,83.3 L112.1,83.3 L113.1,83.4 L114.1,83.4 L115.2,83.4 L116.2,83.5 L117.2,83.5 L118.2,83.6 L119.1,84.2 L120.0,84.7 L120.9,85.2 L121.9,85.3 L122.9,85.3 L124.0,85.3 L125.0,85.3" stroke="rgb(255,192,203)" stroke-width="4.80"/><path d="M40.0,81.0 L41.1,81.0 L42.2,81.0 L43.3,81.0 L44.4,81.0 L45.5,81.0 L46.6,81.0 L47.7,81.0 L48.9,81.0 L50.0,81.0" stroke="rgb(255,192,203)" stroke-width="4.80"/><path d="M108.4,120.1 L108.5,121.1 L108.6,122.1 L108.6,123.1 L108.7,124.1 L108.8,125.1 L108.8,126.1 L108.9,127.1 L109.0,128.1 L109.0,129.1 L109.1,130.1 L109.1,131.1 L109.2,132.1 L109.3,133.1 L109.3,134.1 L109.4,135.1 L109.5,136.1 L109.5,137.1 L109.6,138.1 L109.7,139.1 L109.7,140.1 L109.8,141.1 L109.9,142.1 L109.9,143.1 L110.0,144.1 L110.1,145.1 L110.1,146.1 L110.2,147.1 L110.3,148.1 L110.3,149.1 L110.4,150.1 L110.4,151.1 L110.5,152.1 L110.6,153.1 L110.6,154.1 L110.7,155.1 L110.8,156.1 L110.8,157.1 L110.9,158.1 L111.0,159.1 L111.0,160.0 L111.1,161.0 L111.2,162.0 L111.2,163.0 L111.3,164.0 L111.4,165.0" stroke="rgb(255,192,203)" stroke-width="5.20"/><circle cx="65.8" cy="22.7" r="2.10" class="HL"/><circle cx="48.8" cy="29.2" r="2.10" class="HL"/><circle cx="86.4" cy="14.9" r="2.10" class="HL"/><circle cx="40.4" cy="32.3" r="2.10" class="HL"/><circle cx="27.8" cy="37.1" r="2.10" class="HL"/><circle cx="52.1" cy="27.9" r="2.10" class="HL"/><circle cx="55.8" cy="26.5" r="2.10" class="HL"/><circle cx="93.8" cy="12.2" r="2.10" class="HL"/><circle cx="15.9" cy="41.6" r="2.10" class="HL"/><circle cx="30.6" cy="36.0" r="2.10" class="HL"/><circle cx="42.8" cy="31.4" r="2.10" class="HL"/><circle cx="63.6" cy="23.6" r="2.10" class="HL"/><circle cx="18.4" cy="40.7" r="2.10" class="HL"/><circle cx="20.3" cy="39.9" r="2.10" class="HL"/><circle cx="100.6" cy="9.6" r="2.10" class="HL"/><circle cx="60.3" cy="24.8" r="2.10" class="HL"/><circle cx="14.7" cy="67.4" r="2.10" class="HL"/><circle cx="12.2" cy="53.8" r="2.10" class="HL"/><circle cx="12.8" cy="56.8" r="2.10" class="HL"/><circle cx="14.2" cy="64.3" r="2.10" class="HL"/><circle cx="15.3" cy="71.0" r="2.10" class="HL"/><circle cx="16.1" cy="124.4" r="2.10" class="HL"/><circle cx="16.1" cy="127.7" r="2.10" class="HL"/><circle cx="16.1" cy="112.2" r="2.10" class="HL"/><circle cx="16.1" cy="104.2" r="2.10" class="HL"/><circle cx="16.2" cy="91.5" r="2.10" class="HL"/><circle cx="16.2" cy="95.9" r="2.10" class="HL"/><circle cx="16.0" cy="140.6" r="2.10" class="HL"/><circle cx="16.2" cy="95.5" r="2.10" class="HL"/><circle cx="16.0" cy="152.1" r="2.10" class="HL"/><circle cx="16.0" cy="144.5" r="2.10" class="HL"/><circle cx="36.5" cy="81.0" r="2.10" class="HL"/><circle cx="45.3" cy="81.0" r="2.10" class="HL"/><circle cx="36.6" cy="81.0" r="2.10" class="HL"/><circle cx="59.9" cy="81.0" r="2.10" class="HL"/><circle cx="21.4" cy="81.0" r="2.10" class="HL"/><circle cx="81.8" cy="59.6" r="2.10" class="HL"/><circle cx="70.6" cy="59.7" r="2.10" class="HL"/><circle cx="68.2" cy="59.7" r="2.10" class="HL"/><circle cx="81.7" cy="59.6" r="2.10" class="HL"/><circle cx="104.0" cy="59.4" r="2.10" class="HL"/><circle cx="78.0" cy="59.7" r="2.10" class="HL"/><circle cx="83.5" cy="103.6" r="2.10" class="HL"/><circle cx="64.3" cy="103.9" r="2.10" class="HL"/><circle cx="56.7" cy="104.0" r="2.10" class="HL"/><circle cx="102.6" cy="103.2" r="2.10" class="HL"/><circle cx="86.3" cy="103.5" r="2.10" class="HL"/><circle cx="29.1" cy="105.7" r="2.10" class="HL"/><circle cx="90.7" cy="103.4" r="2.10" class="HL"/><circle cx="40.6" cy="105.7" r="2.10" class="HL"/><circle cx="26.0" cy="105.7" r="2.10" class="HL"/><circle cx="55.5" cy="104.1" r="2.10" class="HL"/><circle cx="57.3" cy="162.4" r="2.10" class="HL"/><circle cx="23.0" cy="162.1" r="2.10" class="HL"/><circle cx="50.1" cy="162.3" r="2.10" class="HL"/><circle cx="38.6" cy="162.2" r="2.10" class="HL"/><circle cx="60.9" cy="162.4" r="2.10" class="HL"/><circle cx="68.8" cy="162.5" r="2.10" class="HL"/><circle cx="71.0" cy="162.5" r="2.10" class="HL"/><circle cx="24.5" cy="162.1" r="2.10" class="HL"/><circle cx="81.3" cy="163.6" r="2.10" class="HL"/><circle cx="114.5" cy="171.6" r="2.10" class="HL"/><circle cx="107.6" cy="169.6" r="2.10" class="HL"/><circle cx="118.0" cy="172.8" r="2.10" class="HL"/><circle cx="123.0" cy="174.3" r="2.10" class="HL"/><circle cx="107.1" cy="169.5" r="2.10" class="HL"/><circle cx="144.4" cy="175.5" r="2.10" class="HL"/><circle cx="166.5" cy="175.8" r="2.10" class="HL"/><circle cx="166.2" cy="175.8" r="2.10" class="HL"/><circle cx="155.0" cy="175.6" r="2.10" class="HL"/><circle cx="129.4" cy="175.3" r="2.10" class="HL"/><circle cx="164.7" cy="175.7" r="2.10" class="HL"/><circle cx="160.7" cy="175.7" r="2.10" class="HL"/><circle cx="168.6" cy="175.8" r="2.10" class="HL"/><circle cx="144.9" cy="175.5" r="2.10" class="HL"/><circle cx="156.0" cy="175.6" r="2.10" class="HL"/><circle cx="173.2" cy="44.6" r="2.10" class="HL"/><circle cx="150.8" cy="44.6" r="2.10" class="HL"/><circle cx="151.7" cy="44.6" r="2.10" class="HL"/><circle cx="150.4" cy="44.6" r="2.10" class="HL"/><circle cx="162.8" cy="44.6" r="2.10" class="HL"/><circle cx="127.8" cy="44.6" r="2.10" class="HL"/><circle cx="133.3" cy="44.6" r="2.10" class="HL"/><circle cx="109.3" cy="44.6" r="2.10" class="HL"/><circle cx="172.2" cy="44.6" r="2.10" class="HL"/><circle cx="170.6" cy="44.6" r="2.10" class="HL"/><circle cx="140.8" cy="44.6" r="2.10" class="HL"/><circle cx="150.6" cy="44.6" r="2.10" class="HL"/><circle cx="178.9" cy="122.5" r="2.10" class="HL"/><circle cx="178.8" cy="125.9" r="2.10" class="HL"/><circle cx="177.1" cy="170.4" r="2.10" class="HL"/><circle cx="179.2" cy="57.2" r="2.10" class="HL"/><circle cx="178.5" cy="133.1" r="2.10" class="HL"/><circle cx="179.1" cy="51.7" r="2.10" class="HL"/><circle cx="177.1" cy="172.0" r="2.10" class="HL"/><circle cx="179.1" cy="54.9" r="2.10" class="HL"/><circle cx="178.9" cy="124.1" r="2.10" class="HL"/><circle cx="177.5" cy="159.3" r="2.10" class="HL"/><circle cx="114.7" cy="79.1" r="2.10" class="HL"/><circle cx="138.6" cy="79.2" r="2.10" class="HL"/><circle cx="178.3" cy="79.5" r="2.10" class="HL"/><circle cx="127.2" cy="79.1" r="2.10" class="HL"/><circle cx="178.2" cy="79.5" r="2.10" class="HL"/><circle cx="165.9" cy="79.4" r="2.10" class="HL"/><circle cx="116.8" cy="79.1" r="2.10" class="HL"/><circle cx="118.4" cy="79.1" r="2.10" class="HL"/><circle cx="162.5" cy="79.4" r="2.10" class="HL"/><circle cx="107.7" cy="79.0" r="2.10" class="HL"/><circle cx="176.1" cy="84.3" r="2.10" class="HL"/><circle cx="161.5" cy="84.1" r="2.10" class="HL"/><circle cx="161.4" cy="84.1" r="2.10" class="HL"/><circle cx="147.8" cy="83.9" r="2.10" class="HL"/><circle cx="156.0" cy="84.0" r="2.10" class="HL"/><circle cx="108.8" cy="83.3" r="2.10" class="HL"/><circle cx="106.8" cy="83.2" r="2.10" class="HL"/><circle cx="125.2" cy="85.3" r="2.10" class="HL"/><circle cx="108.7" cy="83.3" r="2.10" class="HL"/><circle cx="147.7" cy="83.9" r="2.10" class="HL"/><circle cx="145.8" cy="83.9" r="2.10" class="HL"/><circle cx="171.5" cy="84.2" r="2.10" class="HL"/><circle cx="9.5" cy="44.0" r="2.30" class="LH"/><circle cx="10.0" cy="43.8" r="2.30" class="LH"/><circle cx="11.4" cy="43.3" r="2.30" class="LH"/><circle cx="61.5" cy="24.4" r="2.30" class="LH"/><circle cx="64.3" cy="23.3" r="2.30" class="LH"/><circle cx="87.7" cy="14.5" r="2.30" class="LH"/><circle cx="90.1" cy="13.6" r="2.30" class="LH"/><circle cx="92.4" cy="12.7" r="2.30" class="LH"/><circle cx="95.0" cy="11.7" r="2.30" class="LH"/><circle cx="97.4" cy="10.8" r="2.30" class="LH"/><circle cx="15.6" cy="41.7" r="2.00" class="gHH"/><circle cx="66.9" cy="22.3" r="2.00" class="gHH"/><circle cx="74.9" cy="19.3" r="2.00" class="gHH"/><circle cx="91.0" cy="13.2" r="2.00" class="gHH"/><path d="M104.0,8.3 L104.0,9.3 L104.1,10.3 L104.1,11.4 L104.2,12.4 L104.2,13.4 L104.3,14.4 L104.3,15.5 L104.3,16.5 L104.4,17.5 L104.4,18.5 L104.5,19.6 L104.5,20.6 L104.6,21.6 L104.6,22.6 L104.6,23.7 L104.7,24.7 L104.7,25.7 L104.8,26.7 L104.8,27.8 L104.9,28.8 L104.9,29.8 L104.9,30.8 L105.0,31.9 L105.0,32.9 L105.1,33.9 L105.1,34.9 L105.2,36.0 L105.2,37.0 L105.2,38.0 L105.3,39.0 L105.3,40.0 L105.4,41.1 L105.4,42.1 L105.4,43.1 L105.5,44.1 L105.5,45.2" stroke="rgb(128,0,128)" stroke-width="5.20"/><path d="M105.6,50.0 L105.6,51.1 L105.7,52.1 L105.7,53.1 L105.7,54.1 L105.8,55.2 L105.8,56.2 L105.8,57.2 L105.8,58.2 L105.9,59.3 L105.9,60.3 L105.9,61.3 L105.9,62.3 L106.0,63.4 L106.0,64.4 L106.0,65.4 L106.0,66.5 L106.1,67.5 L106.1,68.5 L106.1,69.5 L106.2,70.6 L106.2,71.6 L106.2,72.6 L106.2,73.6 L106.3,74.7 L106.3,75.7 L106.3,76.7 L106.3,77.7 L106.4,78.8 L106.4,79.8 L106.4,80.8 L106.5,81.8 L106.5,82.9" stroke="rgb(128,0,128)" stroke-width="5.20"/><circle cx="104.5" cy="20.0" r="2.30" class="HH"/><circle cx="105.0" cy="33.0" r="2.30" class="HH"/><circle cx="105.6" cy="48.0" r="2.30" class="HH"/><circle cx="105.6" cy="50.0" r="2.30" class="HH"/><circle cx="12.2" cy="53.9" r="2.30" class="HH"/><circle cx="15.6" cy="73.3" r="2.30" class="HH"/><path d="M15.8,74.7 L15.9,75.8 L16.0,76.8 L16.1,77.9 L16.2,78.9 L16.3,80.0" stroke="rgb(128,0,128)" stroke-width="4.80"/><path d="M16.3,80.0 L16.3,81.1 L16.3,82.3 L16.3,83.4 L16.3,84.6 L16.3,85.7" stroke="rgb(128,0,128)" stroke-width="4.80"/><circle cx="26.8" cy="81.0" r="2.00" class="gHH"/><circle cx="35.0" cy="81.0" r="2.00" class="gHH"/><circle cx="61.9" cy="78.9" r="2.30" class="LH"/><circle cx="179.0" cy="46.9" r="2.30" class="HH"/><circle cx="179.5" cy="78.8" r="2.30" class="HH"/><circle cx="110.0" cy="79.0" r="2.00" class="gHH"/><circle cx="26.7" cy="105.7" r="2.00" class="gHH"/><circle cx="29.6" cy="105.7" r="2.00" class="gHH"/><circle cx="40.7" cy="105.7" r="2.00" class="gHH"/><path d="M107.5,106.0 L107.6,107.0 L107.6,108.0 L107.7,109.0 L107.8,110.0 L107.8,111.0 L107.9,112.0 L108.0,113.0 L108.0,114.1 L108.1,115.1 L108.2,116.1" stroke="rgb(128,0,128)" stroke-width="5.20"/><circle cx="108.3" cy="118.1" r="2.30" class="HH"/><circle cx="108.5" cy="120.9" r="2.30" class="HH"/><circle cx="108.7" cy="124.2" r="2.30" class="HH"/><circle cx="108.9" cy="127.0" r="2.00" class="gHH"/><circle cx="109.3" cy="133.9" r="2.00" class="gHH"/><circle cx="109.7" cy="140.0" r="2.00" class="gHH"/><circle cx="110.7" cy="154.9" r="2.00" class="gHH"/><circle cx="111.0" cy="160.2" r="2.00" class="gHH"/><circle cx="111.3" cy="163.8" r="2.00" class="gHH"/><circle cx="110.5" cy="151.7" r="2.30" class="LH"/><circle cx="111.7" cy="170.3" r="2.30" class="LH"/><circle cx="111.7" cy="169.9" r="2.30" class="LH"/><circle cx="16.1" cy="121.2" r="2.00" class="gHH"/><circle cx="16.0" cy="162.0" r="2.30" class="LH"/><circle cx="17.1" cy="162.0" r="2.30" class="LH"/><circle cx="50.4" cy="162.3" r="2.30" class="LH"/><circle cx="24.0" cy="162.1" r="2.30" class="HH"/><circle cx="26.8" cy="162.1" r="2.30" class="HH"/><circle cx="35.1" cy="162.2" r="2.00" class="gHH"/><circle cx="59.9" cy="162.4" r="2.00" class="gHH"/><circle cx="64.2" cy="162.5" r="2.00" class="gHH"/><circle cx="74.0" cy="162.6" r="2.00" class="gHH"/><circle cx="89.2" cy="165.3" r="2.00" class="gHH"/><circle cx="101.7" cy="168.3" r="2.00" class="gHH"/><circle cx="175.2" cy="175.9" r="2.30" class="LH"/></g></g><rect x="130.34999999999997" y="2.4" width="54.60" height="43.60" rx="1.3" fill="#fff" fill-opacity="0.8" stroke="#ccc" stroke-width="0.6"/><text x="157.65" y="10.75" text-anchor="middle" font-size="8">LISA Clusters</text><circle cx="138.15" cy="17.10" r="1.9" fill="rgb(211,211,211)" fill-opacity="0.7"/><text x="147.95" y="19.00" font-size="5.56" class="le">Not Significant</text><circle cx="138.15" cy="24.93" r="1.9" fill="rgb(255,0,0)" fill-opacity="0.7"/><text x="147.95" y="26.83" font-size="5.56" class="le">High-High</text><circle cx="138.15" cy="32.76" r="1.9" fill="rgb(255,192,203)" fill-opacity="0.7"/><text x="147.95" y="34.66" font-size="5.56" class="le">High-Low</text><circle cx="138.15" cy="40.59" r="1.9" fill="rgb(128,0,128)" fill-opacity="0.7"/><text x="147.95" y="42.49" font-size="5.56" class="le">Low-High</text><rect x="0" y="0" width="187.45" height="184.9" fill="none" stroke="#000" stroke-width="0.95"/><line x1="-3.2" y1="11.77" x2="0" y2="11.77" stroke="#000" stroke-width="0.8"/><text x="-23.4" y="14.07" font-size="6.67" textLength="17.6" lengthAdjust="spacingAndGlyphs">4.4202</text><line x1="-3.2" y1="33.54" x2="0" y2="33.54" stroke="#000" stroke-width="0.8"/><text x="-23.4" y="35.84" font-size="6.67" textLength="17.6" lengthAdjust="spacingAndGlyphs">4.4200</text><line x1="-3.2" y1="55.31" x2="0" y2="55.31" stroke="#000" stroke-width="0.8"/><text x="-23.4" y="57.61" font-size="6.67" textLength="17.6" lengthAdjust="spacingAndGlyphs">4.4198</text><line x1="-3.2" y1="77.08" x2="0" y2="77.08" stroke="#000" stroke-width="0.8"/><text x="-23.4" y="79.38" font-size="6.67" textLength="17.6" lengthAdjust="spacingAndGlyphs">4.4196</text><line x1="-3.2" y1="98.85" x2="0" y2="98.85" stroke="#000" stroke-width="0.8"/><text x="-23.4" y="101.15" font-size="6.67" textLength="17.6" lengthAdjust="spacingAndGlyphs">4.4194</text><line x1="-3.2" y1="120.62" x2="0" y2="120.62" stroke="#000" stroke-width="0.8"/><text x="-23.4" y="122.92" font-size="6.67" textLength="17.6" lengthAdjust="spacingAndGlyphs">4.4192</text><line x1="-3.2" y1="142.39" x2="0" y2="142.39" stroke="#000" stroke-width="0.8"/><text x="-23.4" y="144.69" font-size="6.67" textLength="17.6" lengthAdjust="spacingAndGlyphs">4.4190</text><line x1="-3.2" y1="164.16" x2="0" y2="164.16" stroke="#000" stroke-width="0.8"/><text x="-23.4" y="166.46" font-size="6.67" textLength="17.6" lengthAdjust="spacingAndGlyphs">4.4188</text><line x1="19.83" y1="184.9" x2="19.83" y2="188.1" stroke="#000" stroke-width="0.8"/><text x="19.83" y="195.90" text-anchor="middle" font-size="6.67">430000</text><line x1="43.10" y1="184.9" x2="43.10" y2="188.1" stroke="#000" stroke-width="0.8"/><text x="43.10" y="195.90" text-anchor="middle" font-size="6.67">430250</text><line x1="66.37" y1="184.9" x2="66.37" y2="188.1" stroke="#000" stroke-width="0.8"/><text x="66.37" y="195.90" text-anchor="middle" font-size="6.67">430500</text><line x1="89.63" y1="184.9" x2="89.63" y2="188.1" stroke="#000" stroke-width="0.8"/><text x="89.63" y="195.90" text-anchor="middle" font-size="6.67">430750</text><line x1="112.90" y1="184.9" x2="112.90" y2="188.1" stroke="#000" stroke-width="0.8"/><text x="112.90" y="195.90" text-anchor="middle" font-size="6.67">431000</text><line x1="136.17" y1="184.9" x2="136.17" y2="188.1" stroke="#000" stroke-width="0.8"/><text x="136.17" y="195.90" text-anchor="middle" font-size="6.67">431250</text><line x1="159.43" y1="184.9" x2="159.43" y2="188.1" stroke="#000" stroke-width="0.8"/><text x="159.43" y="195.90" text-anchor="middle" font-size="6.67">431500</text><line x1="182.70" y1="184.9" x2="182.70" y2="188.1" stroke="#000" stroke-width="0.8"/><text x="182.70" y="195.90" text-anchor="middle" font-size="6.67">431750</text><text x="93.72" y="204.50" text-anchor="middle" font-size="6.45">X Coordinate</text><text transform="translate(-27.6,92.45) rotate(-90)" x="0" y="0" text-anchor="middle" font-size="6.45">Y Coordinate</text><text x="0.9" y="-2.95" font-size="8">1e6</text><text x="93.72" y="-4.6" text-anchor="middle" font-size="8">Not wearing a helmet: Moran&#39;s I = 0.149</text></g>
<g transform="translate(491.36,486.46)"><clipPath id="cp8"><rect x="0" y="0" width="187.1" height="184.9"/></clipPath><g clip-path="url(#cp8)"><g transform="scale(0.9963,1)"><path d="M16.3,82.0 L16.4,104.5" stroke="rgb(0,0,255)" stroke-width="6.30"/><path d="M9.5,44.0 L104.0,8.3" stroke="rgb(0,0,255)" stroke-width="5.00"/><path d="M9.5,44.0 L12.0,53.0 L13.8,62.0 L15.5,72.0 L16.3,80.0" stroke="rgb(0,0,255)" stroke-width="5.00"/><path d="M16.3,80.0 L16.1,105.0 L16.0,162.0" stroke="rgb(0,0,255)" stroke-width="5.00"/><path d="M16.0,81.0 L61.9,81.0" stroke="rgb(0,0,255)" stroke-width="5.00"/><path d="M61.9,81.0 L61.9,59.8" stroke="rgb(0,0,255)" stroke-width="5.00"/><path d="M61.9,59.8 L105.5,59.4" stroke="rgb(0,0,255)" stroke-width="5.00"/><path d="M16.0,105.7 L44.8,105.7 L52.8,104.1 L103.3,103.2" stroke="rgb(0,0,255)" stroke-width="5.00"/><path d="M16.0,162.0 L76.6,162.6" stroke="rgb(0,0,255)" stroke-width="5.00"/><path d="M76.6,162.6 L86.0,164.5 L95.5,167.0 L104.0,168.8 L111.7,170.6 L119.0,173.2 L125.7,175.0" stroke="rgb(0,0,255)" stroke-width="5.00"/><path d="M125.7,175.2 L176.9,175.9" stroke="rgb(0,0,255)" stroke-width="5.00"/><path d="M104.0,8.3 L105.4,41.8 L106.8,95.0 L111.7,170.3" stroke="rgb(0,0,255)" stroke-width="5.40"/><path d="M105.2,44.6 L179.0,44.6" stroke="rgb(0,0,255)" stroke-width="5.00"/><path d="M179.0,44.6 L179.8,100.0 L176.9,175.9" stroke="rgb(0,0,255)" stroke-width="5.00"/><path d="M106.3,79.0 L179.5,79.5" stroke="rgb(0,0,255)" stroke-width="5.00"/><path d="M106.5,83.2 L118.0,83.5 L121.0,85.3 L132.0,85.3 L135.0,83.8 L179.5,84.3" stroke="rgb(0,0,255)" stroke-width="5.00"/><path d="M110.3,135.2 L132.0,132.4" stroke="rgb(0,0,255)" stroke-width="5.00"/><path d="M132.7,123.8 L134.8,152.8" stroke="rgb(0,0,255)" stroke-width="5.00"/><path d="M111.7,152.8 L134.8,152.8" stroke="rgb(0,0,255)" stroke-width="5.00"/><path d="M9.5,44.0 L10.5,43.6 L11.4,43.3 L12.4,42.9 L13.3,42.6 L14.3,42.2 L15.2,41.8 L16.2,41.5 L17.2,41.1 L18.1,40.7 L19.1,40.4 L20.0,40.0 L21.0,39.7 L21.9,39.3 L22.9,38.9 L23.9,38.6 L24.8,38.2 L25.8,37.9 L26.7,37.5 L27.7,37.1 L28.6,36.8" stroke="rgb(128,0,128)" stroke-width="5.00"/><path d="M9.5,44.0 L9.8,45.0 L10.0,46.0 L10.3,46.9 L10.6,47.9 L10.9,48.9 L11.1,49.9 L11.4,50.9 L11.7,51.9 L12.0,52.8 L12.2,53.8 L12.4,54.8 L12.6,55.8 L12.8,56.8 L13.0,57.8 L13.2,58.8 L13.4,59.8 L13.6,60.8 L13.8,61.8 L13.9,62.8 L14.1,63.8 L14.3,64.8 L14.5,65.9 L14.6,66.9 L14.8,67.9 L15.0,68.9 L15.1,69.9 L15.3,70.9 L15.5,71.9 L15.6,72.9 L15.7,73.9 L15.8,74.9 L15.9,75.9 L16.0,77.0 L16.1,78.0 L16.2,79.0 L16.3,80.0" stroke="rgb(128,0,128)" stroke-width="5.00"/><path d="M106.3,74.8 L106.3,75.9 L106.3,77.0 L106.4,78.0 L106.4,79.1 L106.4,80.2 L106.4,81.3 L106.5,82.4 L106.5,83.5 L106.5,84.6 L106.6,85.7" stroke="rgb(128,0,128)" stroke-width="5.40"/><circle cx="30.1" cy="36.2" r="2.40" class="HL"/><circle cx="52.3" cy="27.8" r="2.40" class="HL"/><circle cx="63.4" cy="23.7" r="2.40" class="HL"/><circle cx="73.1" cy="20.0" r="2.40" class="HL"/><circle cx="102.1" cy="9.0" r="2.40" class="HL"/><circle cx="104.1" cy="10.7" r="2.40" class="LH"/><circle cx="16.0" cy="81.0" r="2.40" class="LH"/><circle cx="19.0" cy="81.0" r="2.40" class="LH"/><circle cx="59.1" cy="81.0" r="2.40" class="LH"/><circle cx="99.5" cy="59.5" r="2.40" class="HL"/><circle cx="104.2" cy="13.6" r="2.40" class="HL"/><circle cx="104.4" cy="18.0" r="2.40" class="HL"/><circle cx="104.7" cy="24.9" r="2.40" class="HL"/><circle cx="105.4" cy="41.5" r="2.40" class="HL"/><circle cx="105.5" cy="45.6" r="2.40" class="HL"/><circle cx="105.8" cy="58.1" r="2.40" class="HL"/><circle cx="105.9" cy="62.2" r="2.40" class="HL"/><circle cx="106.0" cy="66.3" r="2.40" class="HL"/><circle cx="106.1" cy="69.9" r="2.40" class="HL"/><circle cx="121.6" cy="44.6" r="2.40" class="HL"/><circle cx="124.0" cy="44.6" r="2.40" class="HL"/><circle cx="127.2" cy="44.6" r="2.40" class="HL"/><circle cx="150.0" cy="44.6" r="2.40" class="HL"/><circle cx="160.0" cy="44.6" r="2.40" class="HL"/><circle cx="107.8" cy="79.0" r="2.40" class="HL"/><circle cx="110.0" cy="79.0" r="2.40" class="HL"/><circle cx="113.1" cy="79.0" r="2.40" class="HL"/><circle cx="116.2" cy="79.1" r="2.40" class="HL"/><circle cx="178.6" cy="79.5" r="2.40" class="LH"/><circle cx="16.2" cy="96.4" r="2.40" class="HL"/><circle cx="16.1" cy="99.1" r="2.40" class="HL"/><circle cx="16.1" cy="101.9" r="2.40" class="HL"/><circle cx="16.1" cy="110.1" r="2.40" class="HL"/><circle cx="16.1" cy="113.0" r="2.40" class="HL"/><circle cx="16.1" cy="116.1" r="2.40" class="HL"/><circle cx="16.1" cy="118.9" r="2.40" class="HL"/><circle cx="16.1" cy="121.0" r="2.40" class="HL"/><circle cx="16.1" cy="124.1" r="2.40" class="HL"/><circle cx="16.0" cy="149.9" r="2.40" class="HL"/><circle cx="16.0" cy="160.6" r="2.40" class="HL"/><circle cx="16.0" cy="147.6" r="2.40" class="LH"/><circle cx="32.8" cy="105.7" r="2.40" class="HL"/><circle cx="76.0" cy="103.7" r="2.40" class="HL"/><circle cx="88.4" cy="103.5" r="2.40" class="HL"/><circle cx="103.3" cy="103.2" r="2.40" class="HL"/><circle cx="106.9" cy="95.8" r="2.40" class="HL"/><circle cx="107.1" cy="99.9" r="2.40" class="HL"/><circle cx="107.4" cy="103.9" r="2.40" class="HL"/><circle cx="108.3" cy="118.5" r="2.40" class="HL"/><circle cx="108.6" cy="122.1" r="2.40" class="HL"/><circle cx="108.8" cy="126.2" r="2.40" class="HL"/><circle cx="109.0" cy="129.4" r="2.40" class="HL"/><circle cx="109.8" cy="140.8" r="2.40" class="HL"/><circle cx="110.0" cy="144.8" r="2.40" class="HL"/><circle cx="110.4" cy="150.1" r="2.40" class="HL"/><circle cx="110.7" cy="154.5" r="2.40" class="HL"/><circle cx="111.0" cy="160.2" r="2.40" class="HL"/><circle cx="111.2" cy="163.0" r="2.40" class="HL"/><circle cx="111.7" cy="170.3" r="2.40" class="LH"/><circle cx="134.1" cy="152.8" r="2.40" class="HL"/><circle cx="21.8" cy="162.1" r="2.40" class="HL"/><circle cx="38.4" cy="162.2" r="2.40" class="HL"/><circle cx="49.5" cy="162.3" r="2.40" class="HL"/><circle cx="59.2" cy="162.4" r="2.40" class="LH"/><circle cx="102.2" cy="168.4" r="2.40" class="HL"/><circle cx="134.1" cy="175.3" r="2.40" class="HL"/><circle cx="166.0" cy="175.8" r="2.40" class="HL"/><circle cx="175.7" cy="175.9" r="2.40" class="HL"/><circle cx="179.2" cy="115.8" r="2.40" class="HL"/></g></g><rect x="129.99999999999997" y="2.4" width="54.60" height="51.40" rx="1.3" fill="#fff" fill-opacity="0.8" stroke="#ccc" stroke-width="0.6"/><text x="157.30" y="10.75" text-anchor="middle" font-size="8">LISA Clusters</text><circle cx="137.80" cy="17.10" r="1.9" fill="rgb(211,211,211)" fill-opacity="0.7"/><text x="147.60" y="19.00" font-size="5.56" class="le">Not Significant</text><circle cx="137.80" cy="24.93" r="1.9" fill="rgb(255,0,0)" fill-opacity="0.7"/><text x="147.60" y="26.83" font-size="5.56" class="le">High-High</text><circle cx="137.80" cy="32.76" r="1.9" fill="rgb(0,0,255)" fill-opacity="0.7"/><text x="147.60" y="34.66" font-size="5.56" class="le">Low-Low</text><circle cx="137.80" cy="40.59" r="1.9" fill="rgb(255,192,203)" fill-opacity="0.7"/><text x="147.60" y="42.49" font-size="5.56" class="le">High-Low</text><circle cx="137.80" cy="48.42" r="1.9" fill="rgb(128,0,128)" fill-opacity="0.7"/><text x="147.60" y="50.32" font-size="5.56" class="le">Low-High</text><rect x="0" y="0" width="187.1" height="184.9" fill="none" stroke="#000" stroke-width="0.95"/><line x1="-3.2" y1="11.77" x2="0" y2="11.77" stroke="#000" stroke-width="0.8"/><text x="-23.4" y="14.07" font-size="6.67" textLength="17.6" lengthAdjust="spacingAndGlyphs">4.4202</text><line x1="-3.2" y1="33.54" x2="0" y2="33.54" stroke="#000" stroke-width="0.8"/><text x="-23.4" y="35.84" font-size="6.67" textLength="17.6" lengthAdjust="spacingAndGlyphs">4.4200</text><line x1="-3.2" y1="55.31" x2="0" y2="55.31" stroke="#000" stroke-width="0.8"/><text x="-23.4" y="57.61" font-size="6.67" textLength="17.6" lengthAdjust="spacingAndGlyphs">4.4198</text><line x1="-3.2" y1="77.08" x2="0" y2="77.08" stroke="#000" stroke-width="0.8"/><text x="-23.4" y="79.38" font-size="6.67" textLength="17.6" lengthAdjust="spacingAndGlyphs">4.4196</text><line x1="-3.2" y1="98.85" x2="0" y2="98.85" stroke="#000" stroke-width="0.8"/><text x="-23.4" y="101.15" font-size="6.67" textLength="17.6" lengthAdjust="spacingAndGlyphs">4.4194</text><line x1="-3.2" y1="120.62" x2="0" y2="120.62" stroke="#000" stroke-width="0.8"/><text x="-23.4" y="122.92" font-size="6.67" textLength="17.6" lengthAdjust="spacingAndGlyphs">4.4192</text><line x1="-3.2" y1="142.39" x2="0" y2="142.39" stroke="#000" stroke-width="0.8"/><text x="-23.4" y="144.69" font-size="6.67" textLength="17.6" lengthAdjust="spacingAndGlyphs">4.4190</text><line x1="-3.2" y1="164.16" x2="0" y2="164.16" stroke="#000" stroke-width="0.8"/><text x="-23.4" y="166.46" font-size="6.67" textLength="17.6" lengthAdjust="spacingAndGlyphs">4.4188</text><line x1="19.80" y1="184.9" x2="19.80" y2="188.1" stroke="#000" stroke-width="0.8"/><text x="19.80" y="195.90" text-anchor="middle" font-size="6.67">430000</text><line x1="43.02" y1="184.9" x2="43.02" y2="188.1" stroke="#000" stroke-width="0.8"/><text x="43.02" y="195.90" text-anchor="middle" font-size="6.67">430250</text><line x1="66.24" y1="184.9" x2="66.24" y2="188.1" stroke="#000" stroke-width="0.8"/><text x="66.24" y="195.90" text-anchor="middle" font-size="6.67">430500</text><line x1="89.47" y1="184.9" x2="89.47" y2="188.1" stroke="#000" stroke-width="0.8"/><text x="89.47" y="195.90" text-anchor="middle" font-size="6.67">430750</text><line x1="112.69" y1="184.9" x2="112.69" y2="188.1" stroke="#000" stroke-width="0.8"/><text x="112.69" y="195.90" text-anchor="middle" font-size="6.67">431000</text><line x1="135.91" y1="184.9" x2="135.91" y2="188.1" stroke="#000" stroke-width="0.8"/><text x="135.91" y="195.90" text-anchor="middle" font-size="6.67">431250</text><line x1="159.13" y1="184.9" x2="159.13" y2="188.1" stroke="#000" stroke-width="0.8"/><text x="159.13" y="195.90" text-anchor="middle" font-size="6.67">431500</text><line x1="182.36" y1="184.9" x2="182.36" y2="188.1" stroke="#000" stroke-width="0.8"/><text x="182.36" y="195.90" text-anchor="middle" font-size="6.67">431750</text><text x="93.55" y="204.50" text-anchor="middle" font-size="6.45">X Coordinate</text><text transform="translate(-27.6,92.45) rotate(-90)" x="0" y="0" text-anchor="middle" font-size="6.45">Y Coordinate</text><text x="0.9" y="-2.95" font-size="8">1e6</text><text x="93.55" y="-4.6" text-anchor="middle" font-size="8">Riding on sidewalk: Moran&#39;s I = 0.084</text></g>
<g transform="translate(34.63,720.90)"><clipPath id="cp9"><rect x="0" y="0" width="187.8" height="184.9"/></clipPath><g clip-path="url(#cp9)"><g transform="scale(1.0000,1)"><path d="M16.3,82.0 L16.4,104.5" stroke="rgb(255,192,203)" stroke-width="6.50"/><path d="M9.5,44.0 L104.0,8.3" stroke="rgb(255,192,203)" stroke-width="5.20"/><path d="M9.5,44.0 L12.0,53.0 L13.8,62.0 L15.5,72.0 L16.3,80.0" stroke="rgb(255,192,203)" stroke-width="5.20"/><path d="M16.3,80.0 L16.1,105.0 L16.0,162.0" stroke="rgb(255,192,203)" stroke-width="5.20"/><path d="M16.0,81.0 L61.9,81.0" stroke="rgb(255,192,203)" stroke-width="5.20"/><path d="M61.9,81.0 L61.9,59.8" stroke="rgb(255,192,203)" stroke-width="5.20"/><path d="M61.9,59.8 L105.5,59.4" stroke="rgb(255,192,203)" stroke-width="5.20"/><path d="M16.0,105.7 L44.8,105.7 L52.8,104.1 L103.3,103.2" stroke="rgb(255,192,203)" stroke-width="5.20"/><path d="M16.0,162.0 L76.6,162.6" stroke="rgb(255,192,203)" stroke-width="5.20"/><path d="M76.6,162.6 L86.0,164.5 L95.5,167.0 L104.0,168.8 L111.7,170.6 L119.0,173.2 L125.7,175.0" stroke="rgb(255,192,203)" stroke-width="5.20"/><path d="M125.7,175.2 L176.9,175.9" stroke="rgb(255,192,203)" stroke-width="5.20"/><path d="M104.0,8.3 L105.4,41.8 L106.8,95.0 L111.7,170.3" stroke="rgb(255,192,203)" stroke-width="5.60"/><path d="M105.2,44.6 L179.0,44.6" stroke="rgb(255,192,203)" stroke-width="5.20"/><path d="M179.0,44.6 L179.8,100.0 L176.9,175.9" stroke="rgb(255,192,203)" stroke-width="5.20"/><path d="M106.3,79.0 L179.5,79.5" stroke="rgb(255,192,203)" stroke-width="5.20"/><path d="M106.5,83.2 L118.0,83.5 L121.0,85.3 L132.0,85.3 L135.0,83.8 L179.5,84.3" stroke="rgb(255,192,203)" stroke-width="5.20"/><path d="M110.3,135.2 L132.0,132.4" stroke="rgb(255,192,203)" stroke-width="5.20"/><path d="M132.7,123.8 L134.8,152.8" stroke="rgb(255,192,203)" stroke-width="5.20"/><path d="M111.7,152.8 L134.8,152.8" stroke="rgb(255,192,203)" stroke-width="5.20"/><circle cx="27.1" cy="37.4" r="2.10" class="gHH"/><circle cx="44.6" cy="30.7" r="2.10" class="gHH"/><circle cx="52.4" cy="27.8" r="2.10" class="gHH"/><circle cx="53.9" cy="27.2" r="2.10" class="gHH"/><circle cx="51.5" cy="28.1" r="2.10" class="gHH"/><circle cx="70.7" cy="20.9" r="2.10" class="gHH"/><circle cx="74.1" cy="19.6" r="2.10" class="gHH"/><circle cx="45.3" cy="30.5" r="2.10" class="gHH"/><circle cx="67.4" cy="22.1" r="2.10" class="gHH"/><circle cx="54.0" cy="27.2" r="2.10" class="gHH"/><circle cx="15.4" cy="71.1" r="2.10" class="gHH"/><circle cx="11.1" cy="49.8" r="2.10" class="gHH"/><circle cx="12.6" cy="55.9" r="2.10" class="gHH"/><circle cx="12.1" cy="53.3" r="2.10" class="gHH"/><circle cx="16.2" cy="79.4" r="2.10" class="gHH"/><circle cx="16.0" cy="159.0" r="2.10" class="gHH"/><circle cx="16.0" cy="152.6" r="2.10" class="gHH"/><circle cx="16.3" cy="81.8" r="2.10" class="gHH"/><circle cx="16.2" cy="95.4" r="2.10" class="gHH"/><circle cx="16.2" cy="92.4" r="2.10" class="gHH"/><circle cx="16.1" cy="129.3" r="2.10" class="gHH"/><circle cx="16.1" cy="98.9" r="2.10" class="gHH"/><circle cx="16.0" cy="161.6" r="2.10" class="gHH"/><circle cx="16.2" cy="93.3" r="2.10" class="gHH"/><circle cx="16.0" cy="147.1" r="2.10" class="gHH"/><circle cx="16.1" cy="117.8" r="2.10" class="gHH"/><circle cx="16.1" cy="98.8" r="2.10" class="gHH"/><circle cx="16.0" cy="145.6" r="2.10" class="gHH"/><circle cx="16.0" cy="144.4" r="2.10" class="gHH"/><circle cx="38.9" cy="81.0" r="2.10" class="gHH"/><circle cx="59.9" cy="81.0" r="2.10" class="gHH"/><circle cx="52.0" cy="81.0" r="2.10" class="gHH"/><circle cx="48.1" cy="81.0" r="2.10" class="gHH"/><circle cx="33.6" cy="81.0" r="2.10" class="gHH"/><circle cx="58.1" cy="162.4" r="2.10" class="gHH"/><circle cx="68.7" cy="162.5" r="2.10" class="gHH"/><circle cx="40.4" cy="162.2" r="2.10" class="gHH"/><circle cx="21.4" cy="162.1" r="2.10" class="gHH"/><circle cx="66.7" cy="162.5" r="2.10" class="gHH"/><circle cx="61.4" cy="162.4" r="2.10" class="gHH"/><circle cx="34.4" cy="162.2" r="2.10" class="gHH"/><circle cx="50.3" cy="162.3" r="2.10" class="gHH"/><circle cx="30.1" cy="162.1" r="2.10" class="gHH"/><circle cx="166.9" cy="175.8" r="2.10" class="gHH"/><circle cx="136.9" cy="175.4" r="2.10" class="gHH"/><circle cx="128.7" cy="175.2" r="2.10" class="gHH"/><circle cx="172.8" cy="175.8" r="2.10" class="gHH"/><circle cx="160.1" cy="175.7" r="2.10" class="gHH"/><circle cx="106.4" cy="80.2" r="2.10" class="gHH"/><circle cx="111.0" cy="160.3" r="2.10" class="gHH"/><circle cx="106.3" cy="77.2" r="2.10" class="gHH"/><circle cx="109.7" cy="139.8" r="2.10" class="gHH"/><circle cx="111.3" cy="164.0" r="2.10" class="gHH"/><circle cx="111.1" cy="161.0" r="2.10" class="gHH"/><circle cx="109.6" cy="137.6" r="2.10" class="gHH"/><circle cx="109.6" cy="137.5" r="2.10" class="gHH"/><circle cx="107.5" cy="105.2" r="2.10" class="gHH"/><circle cx="107.6" cy="107.0" r="2.10" class="gHH"/><circle cx="176.9" cy="174.6" r="2.10" class="gHH"/><circle cx="179.6" cy="85.5" r="2.10" class="gHH"/><circle cx="178.1" cy="145.0" r="2.10" class="gHH"/><circle cx="178.1" cy="144.3" r="2.10" class="gHH"/><circle cx="179.4" cy="70.3" r="2.10" class="gHH"/><circle cx="179.4" cy="111.2" r="2.10" class="gHH"/><circle cx="177.2" cy="168.3" r="2.10" class="gHH"/><circle cx="177.9" cy="148.8" r="2.10" class="gHH"/><circle cx="178.0" cy="146.3" r="2.10" class="gHH"/><circle cx="179.7" cy="94.2" r="2.10" class="gHH"/><circle cx="177.7" cy="155.9" r="2.10" class="gHH"/><circle cx="178.4" cy="137.4" r="2.10" class="gHH"/><circle cx="132.8" cy="125.5" r="2.10" class="gHH"/><circle cx="133.3" cy="131.5" r="2.10" class="gHH"/><circle cx="133.7" cy="138.1" r="2.10" class="gHH"/><circle cx="126.9" cy="152.8" r="2.10" class="gHH"/><circle cx="126.3" cy="152.8" r="2.10" class="gHH"/><circle cx="130.5" cy="152.8" r="2.10" class="gHH"/><circle cx="128.6" cy="44.6" r="2.10" class="gHH"/><circle cx="161.3" cy="44.6" r="2.10" class="gHH"/><circle cx="110.0" cy="44.6" r="2.10" class="gHH"/><circle cx="122.3" cy="44.6" r="2.10" class="gHH"/><path d="M77.3,18.4 L78.3,18.0 L79.3,17.6 L80.3,17.2 L81.3,16.9 L82.4,16.5 L83.4,16.1 L84.4,15.7 L85.4,15.3 L86.4,15.0 L87.4,14.6 L88.4,14.2" stroke="rgb(211,211,211)" stroke-width="5.20"/><path d="M62.0,59.8 L63.0,59.8 L64.1,59.8 L65.1,59.8 L66.1,59.8 L67.1,59.8 L68.1,59.7 L69.2,59.7 L70.2,59.7 L71.2,59.7 L72.2,59.7 L73.3,59.7 L74.3,59.7 L75.3,59.7 L76.3,59.7 L77.3,59.7 L78.4,59.6 L79.4,59.6 L80.4,59.6 L81.4,59.6 L82.5,59.6 L83.5,59.6 L84.5,59.6 L85.5,59.6 L86.5,59.6 L87.6,59.6 L88.6,59.6 L89.6,59.5 L90.6,59.5 L91.7,59.5 L92.7,59.5 L93.7,59.5 L94.7,59.5 L95.8,59.5 L96.8,59.5 L97.8,59.5 L98.8,59.5 L99.8,59.5 L100.9,59.4 L101.9,59.4 L102.9,59.4 L103.9,59.4 L105.0,59.4" stroke="rgb(211,211,211)" stroke-width="5.20"/><path d="M16.0,105.7 L17.0,105.7 L18.0,105.7 L19.0,105.7 L20.0,105.7 L21.0,105.7 L22.0,105.7 L23.0,105.7 L24.0,105.7 L25.0,105.7 L26.0,105.7 L27.0,105.7 L28.0,105.7 L29.0,105.7 L30.0,105.7 L31.0,105.7 L32.0,105.7 L33.0,105.7 L34.0,105.7 L35.0,105.7 L36.0,105.7 L37.0,105.7 L38.0,105.7 L39.1,105.7 L40.1,105.7 L41.1,105.7 L42.1,105.7 L43.1,105.7 L44.1,105.7 L45.1,105.6 L46.0,105.5 L47.0,105.3 L48.0,105.1 L49.0,104.9 L50.0,104.7 L51.0,104.5 L51.9,104.3 L52.9,104.1 L53.9,104.1 L54.9,104.1 L55.9,104.0 L56.9,104.0 L57.9,104.0 L58.9,104.0 L59.9,104.0 L60.9,104.0 L61.9,103.9 L62.9,103.9 L63.9,103.9 L64.9,103.9 L66.0,103.9 L67.0,103.8 L68.0,103.8 L69.0,103.8 L70.0,103.8 L71.0,103.8 L72.0,103.8 L73.0,103.7 L74.0,103.7 L75.0,103.7 L76.0,103.7 L77.0,103.7 L78.0,103.7 L79.0,103.6 L80.0,103.6 L81.0,103.6 L82.0,103.6 L83.0,103.6 L84.0,103.5 L85.0,103.5 L86.0,103.5 L87.0,103.5 L88.0,103.5 L89.0,103.5 L90.0,103.4 L91.0,103.4 L92.0,103.4 L93.0,103.4 L94.0,103.4 L95.0,103.3 L96.0,103.3 L97.0,103.3 L98.0,103.3 L99.0,103.3 L100.0,103.3" stroke="rgb(211,211,211)" stroke-width="5.20"/><path d="M110.0,79.0 L111.0,79.0 L112.0,79.0 L113.0,79.0 L114.0,79.1 L115.0,79.1 L116.0,79.1 L117.0,79.1 L118.0,79.1 L119.0,79.1 L120.0,79.1 L121.0,79.1 L122.0,79.1 L123.0,79.1 L124.0,79.1 L125.0,79.1 L126.0,79.1 L127.0,79.1 L128.0,79.1 L129.0,79.2 L130.0,79.2 L131.0,79.2 L132.0,79.2 L133.0,79.2 L134.0,79.2 L135.0,79.2 L136.0,79.2 L137.0,79.2 L138.0,79.2 L139.0,79.2 L140.0,79.2 L141.0,79.2 L142.0,79.2 L143.0,79.3 L144.0,79.3 L145.0,79.3 L146.0,79.3 L147.0,79.3 L148.0,79.3 L149.0,79.3 L150.0,79.3 L151.0,79.3 L152.0,79.3 L153.0,79.3 L154.0,79.3 L155.0,79.3 L156.0,79.3 L157.0,79.3 L158.0,79.4 L159.0,79.4 L160.0,79.4 L161.0,79.4 L162.0,79.4 L163.0,79.4 L164.0,79.4 L165.0,79.4 L166.0,79.4 L167.0,79.4 L168.0,79.4 L169.0,79.4 L170.0,79.4 L171.0,79.4 L172.0,79.4 L173.0,79.5 L174.0,79.5 L175.0,79.5 L176.0,79.5 L177.0,79.5 L178.0,79.5" stroke="rgb(211,211,211)" stroke-width="5.20"/><path d="M110.0,83.3 L111.0,83.3 L112.0,83.3 L113.0,83.4 L114.1,83.4 L115.1,83.4 L116.1,83.4 L117.1,83.5 L118.1,83.6 L119.0,84.1 L119.8,84.6 L120.7,85.1 L121.7,85.3 L122.7,85.3 L123.7,85.3 L124.7,85.3 L125.7,85.3 L126.7,85.3 L127.7,85.3 L128.8,85.3 L129.8,85.3 L130.8,85.3 L131.8,85.3 L132.7,84.9 L133.6,84.5 L134.5,84.0 L135.5,83.8 L136.5,83.8 L137.5,83.8 L138.5,83.8 L139.5,83.9 L140.5,83.9 L141.6,83.9 L142.6,83.9 L143.6,83.9 L144.6,83.9 L145.6,83.9 L146.6,83.9 L147.6,83.9 L148.7,84.0 L149.7,84.0 L150.7,84.0 L151.7,84.0 L152.7,84.0 L153.7,84.0 L154.7,84.0 L155.7,84.0 L156.8,84.0 L157.8,84.1 L158.8,84.1 L159.8,84.1 L160.8,84.1 L161.8,84.1 L162.8,84.1 L163.8,84.1 L164.9,84.1 L165.9,84.1 L166.9,84.2 L167.9,84.2 L168.9,84.2 L169.9,84.2 L170.9,84.2 L171.9,84.2 L173.0,84.2 L174.0,84.2 L175.0,84.2 L176.0,84.3 L177.0,84.3 L178.0,84.3" stroke="rgb(211,211,211)" stroke-width="5.20"/><path d="M111.0,135.1 L112.0,135.0 L113.0,134.9 L114.0,134.7 L115.0,134.6 L116.0,134.5 L117.0,134.3 L118.0,134.2 L119.0,134.1 L120.0,133.9 L121.0,133.8 L122.0,133.7 L123.0,133.6 L124.0,133.4" stroke="rgb(211,211,211)" stroke-width="5.20"/><path d="M95.0,166.9 L96.0,167.1 L97.0,167.3 L98.0,167.5 L99.0,167.7 L100.0,168.0 L101.0,168.2 L102.0,168.4 L103.0,168.6 L104.0,168.8" stroke="rgb(211,211,211)" stroke-width="5.20"/><circle cx="10.7" cy="43.6" r="2.50" class="LH"/><circle cx="41.2" cy="32.0" r="2.50" class="LH"/><circle cx="48.0" cy="29.5" r="2.50" class="LH"/><circle cx="61.9" cy="24.2" r="2.50" class="LH"/><circle cx="74.5" cy="19.5" r="2.50" class="LH"/><circle cx="91.0" cy="13.2" r="2.50" class="LH"/><circle cx="93.6" cy="12.2" r="2.50" class="LH"/><circle cx="96.7" cy="11.1" r="2.50" class="LH"/><circle cx="9.5" cy="44.0" r="2.20" class="gHH"/><circle cx="17.1" cy="41.1" r="2.20" class="gHH"/><circle cx="27.0" cy="37.4" r="2.20" class="gHH"/><circle cx="35.7" cy="34.1" r="2.20" class="gHH"/><circle cx="55.1" cy="26.8" r="2.20" class="gHH"/><circle cx="66.0" cy="22.7" r="2.20" class="gHH"/><circle cx="84.4" cy="15.7" r="2.20" class="gHH"/><circle cx="90.1" cy="13.6" r="2.20" class="gHH"/><circle cx="12.1" cy="53.4" r="2.50" class="LL"/><circle cx="12.8" cy="57.0" r="2.50" class="LL"/><circle cx="13.4" cy="60.0" r="2.50" class="LL"/><circle cx="14.0" cy="63.1" r="2.50" class="LL"/><circle cx="10.9" cy="49.0" r="2.20" class="gHH"/><circle cx="24.5" cy="81.0" r="2.50" class="LH"/><circle cx="32.8" cy="81.0" r="2.50" class="LH"/><circle cx="40.0" cy="81.0" r="2.50" class="LH"/><circle cx="20.2" cy="81.0" r="2.50" class="HH"/><circle cx="38.5" cy="81.0" r="2.50" class="HH"/><circle cx="48.0" cy="81.0" r="2.50" class="HH"/><circle cx="55.0" cy="81.0" r="2.50" class="HH"/><circle cx="61.9" cy="65.9" r="2.50" class="LL"/><circle cx="61.9" cy="69.0" r="2.50" class="LL"/><circle cx="61.9" cy="72.0" r="2.50" class="LL"/><circle cx="61.9" cy="75.0" r="2.50" class="LL"/><circle cx="61.9" cy="77.0" r="2.50" class="LL"/><circle cx="85.6" cy="59.6" r="2.50" class="LL"/><circle cx="95.3" cy="59.5" r="2.50" class="LL"/><circle cx="63.0" cy="59.8" r="2.50" class="HL"/><path d="M104.6,21.7 L104.6,22.7 L104.6,23.7 L104.7,24.7 L104.7,25.7 L104.8,26.8 L104.8,27.8 L104.9,28.8 L104.9,29.8 L104.9,30.8 L105.0,31.8 L105.0,32.9 L105.1,33.9 L105.1,34.9 L105.2,35.9 L105.2,36.9 L105.2,37.9 L105.3,39.0 L105.3,40.0 L105.4,41.0 L105.4,42.0 L105.4,43.0 L105.5,44.0 L105.5,45.1 L105.5,46.1 L105.5,47.1 L105.6,48.1 L105.6,49.1 L105.6,50.2 L105.6,51.2 L105.7,52.2 L105.7,53.2 L105.7,54.2 L105.8,55.2 L105.8,56.3 L105.8,57.3 L105.8,58.3 L105.9,59.3 L105.9,60.3 L105.9,61.3 L105.9,62.4 L106.0,63.4 L106.0,64.4 L106.0,65.4 L106.0,66.4 L106.1,67.5 L106.1,68.5 L106.1,69.5 L106.2,70.5 L106.2,71.5" stroke="rgb(128,0,128)" stroke-width="5.60"/><path d="M104.1,10.3 L104.1,11.4 L104.2,12.5 L104.2,13.6 L104.3,14.6 L104.3,15.7 L104.4,16.8 L104.4,17.9 L104.4,19.0 L104.5,20.0" stroke="rgb(255,0,0)" stroke-width="5.60"/><circle cx="105.8" cy="58.3" r="2.30" class="HH"/><circle cx="106.0" cy="65.5" r="2.30" class="HH"/><circle cx="105.9" cy="59.6" r="2.30" class="HH"/><circle cx="105.5" cy="46.9" r="2.30" class="HH"/><circle cx="105.6" cy="48.3" r="2.30" class="HL"/><circle cx="104.8" cy="27.1" r="2.30" class="HL"/><circle cx="104.8" cy="27.7" r="2.30" class="HL"/><circle cx="106.3" cy="75.2" r="2.20" class="gHH"/><circle cx="106.4" cy="80.0" r="2.20" class="gHH"/><circle cx="106.5" cy="84.9" r="2.20" class="gHH"/><circle cx="106.7" cy="90.2" r="2.20" class="gHH"/><circle cx="110.6" cy="44.6" r="2.50" class="LL"/><circle cx="114.1" cy="44.6" r="2.50" class="LL"/><circle cx="117.9" cy="44.6" r="2.50" class="LL"/><circle cx="121.6" cy="44.6" r="2.50" class="LL"/><circle cx="129.9" cy="44.6" r="2.50" class="LL"/><circle cx="140.1" cy="44.6" r="2.50" class="LL"/><circle cx="152.1" cy="44.6" r="2.50" class="LL"/><circle cx="162.0" cy="44.6" r="2.50" class="LL"/><circle cx="170.0" cy="44.6" r="2.50" class="LL"/><circle cx="124.9" cy="44.6" r="2.20" class="gHH"/><circle cx="179.5" cy="79.7" r="2.50" class="LL"/><circle cx="179.7" cy="92.9" r="2.50" class="LL"/><circle cx="179.7" cy="96.2" r="2.50" class="LL"/><circle cx="179.2" cy="60.0" r="2.20" class="gHH"/><circle cx="179.4" cy="69.9" r="2.20" class="gHH"/><circle cx="179.6" cy="87.9" r="2.20" class="gHH"/><circle cx="112.0" cy="79.0" r="2.50" class="LL"/><circle cx="116.0" cy="79.1" r="2.50" class="LL"/><circle cx="120.0" cy="79.1" r="2.50" class="LL"/><circle cx="124.1" cy="79.1" r="2.50" class="LL"/><circle cx="128.1" cy="79.1" r="2.50" class="LL"/><circle cx="131.9" cy="79.2" r="2.50" class="LL"/><circle cx="140.0" cy="79.2" r="2.50" class="LL"/><circle cx="150.0" cy="79.3" r="2.50" class="LL"/><circle cx="156.1" cy="79.3" r="2.50" class="LL"/><circle cx="159.9" cy="79.4" r="2.50" class="LL"/><circle cx="163.9" cy="79.4" r="2.50" class="LL"/><circle cx="168.0" cy="79.4" r="2.50" class="LL"/><circle cx="172.0" cy="79.4" r="2.50" class="LL"/><circle cx="176.0" cy="79.5" r="2.50" class="LL"/><circle cx="114.1" cy="83.4" r="2.50" class="LL"/><circle cx="117.9" cy="83.5" r="2.50" class="LL"/><circle cx="122.1" cy="85.3" r="2.50" class="LL"/><circle cx="135.0" cy="83.8" r="2.50" class="LL"/><circle cx="138.0" cy="83.8" r="2.50" class="LL"/><circle cx="142.0" cy="83.9" r="2.50" class="LL"/><circle cx="145.0" cy="83.9" r="2.50" class="LL"/><circle cx="150.0" cy="84.0" r="2.50" class="LL"/><circle cx="154.0" cy="84.0" r="2.50" class="LL"/><circle cx="158.1" cy="84.1" r="2.50" class="LL"/><circle cx="164.9" cy="84.1" r="2.50" class="LL"/><circle cx="170.1" cy="84.2" r="2.50" class="LL"/><circle cx="175.1" cy="84.3" r="2.50" class="LL"/><circle cx="128.0" cy="85.3" r="2.50" class="HL"/><circle cx="16.2" cy="90.9" r="2.50" class="LL"/><circle cx="16.2" cy="92.9" r="2.50" class="LL"/><circle cx="16.1" cy="129.0" r="2.50" class="LL"/><circle cx="16.1" cy="100.1" r="2.20" class="gHH"/><circle cx="16.1" cy="109.9" r="2.20" class="gHH"/><circle cx="16.1" cy="120.0" r="2.20" class="gHH"/><circle cx="16.0" cy="134.9" r="2.20" class="gHH"/><circle cx="16.0" cy="145.0" r="2.20" class="gHH"/><circle cx="16.0" cy="155.0" r="2.20" class="gHH"/><circle cx="16.0" cy="159.9" r="2.20" class="gHH"/><circle cx="19.9" cy="105.7" r="2.50" class="LL"/><circle cx="24.1" cy="105.7" r="2.50" class="LL"/><circle cx="28.0" cy="105.7" r="2.50" class="LL"/><circle cx="33.1" cy="105.7" r="2.50" class="LL"/><circle cx="37.0" cy="105.7" r="2.50" class="LL"/><circle cx="42.0" cy="105.7" r="2.50" class="LL"/><circle cx="45.9" cy="105.5" r="2.50" class="LL"/><circle cx="50.0" cy="104.7" r="2.50" class="LL"/><circle cx="55.0" cy="104.1" r="2.50" class="LL"/><circle cx="60.0" cy="104.0" r="2.50" class="LL"/><circle cx="65.0" cy="103.9" r="2.50" class="LL"/><circle cx="70.1" cy="103.8" r="2.50" class="LL"/><circle cx="75.1" cy="103.7" r="2.50" class="LL"/><circle cx="79.9" cy="103.6" r="2.50" class="LL"/><circle cx="86.0" cy="103.5" r="2.50" class="LL"/><circle cx="90.0" cy="103.4" r="2.50" class="LL"/><circle cx="95.0" cy="103.3" r="2.50" class="LL"/><circle cx="100.0" cy="103.3" r="2.50" class="HL"/><circle cx="107.0" cy="98.7" r="2.50" class="LH"/><circle cx="107.2" cy="101.9" r="2.50" class="LH"/><circle cx="107.5" cy="106.0" r="2.50" class="LH"/><circle cx="107.8" cy="110.0" r="2.50" class="LH"/><circle cx="108.0" cy="114.1" r="2.50" class="LH"/><circle cx="108.3" cy="118.1" r="2.50" class="LH"/><circle cx="108.6" cy="122.1" r="2.50" class="LH"/><circle cx="108.9" cy="126.6" r="2.50" class="LH"/><circle cx="109.6" cy="138.7" r="2.50" class="LH"/><circle cx="111.1" cy="161.0" r="2.50" class="LH"/><circle cx="109.1" cy="129.8" r="2.20" class="gHH"/><circle cx="110.0" cy="144.8" r="2.20" class="gHH"/><circle cx="110.4" cy="150.1" r="2.20" class="gHH"/><circle cx="111.4" cy="165.0" r="2.20" class="gHH"/><circle cx="121.6" cy="133.7" r="2.50" class="LL"/><circle cx="124.0" cy="133.4" r="2.50" class="HL"/><circle cx="132.8" cy="124.5" r="2.50" class="HH"/><circle cx="132.9" cy="126.0" r="2.50" class="HH"/><circle cx="20.2" cy="162.0" r="2.50" class="LH"/><circle cx="17.1" cy="162.0" r="2.20" class="gHH"/><circle cx="24.9" cy="162.1" r="2.20" class="gHH"/><circle cx="33.0" cy="162.2" r="2.20" class="gHH"/><circle cx="41.0" cy="162.2" r="2.20" class="gHH"/><circle cx="49.0" cy="162.3" r="2.20" class="gHH"/><circle cx="57.1" cy="162.4" r="2.20" class="gHH"/><circle cx="63.3" cy="162.5" r="2.50" class="LL"/><circle cx="67.1" cy="162.5" r="2.50" class="LL"/><circle cx="71.0" cy="162.5" r="2.50" class="LL"/><circle cx="74.3" cy="162.6" r="2.50" class="LL"/><circle cx="81.3" cy="163.6" r="2.50" class="LL"/><circle cx="85.0" cy="164.3" r="2.50" class="LL"/><circle cx="88.0" cy="165.0" r="2.50" class="LL"/><circle cx="90.9" cy="165.8" r="2.50" class="LL"/><circle cx="95.2" cy="166.9" r="2.50" class="LL"/><circle cx="105.0" cy="169.0" r="2.50" class="LL"/><circle cx="121.7" cy="173.9" r="2.50" class="LL"/><circle cx="129.9" cy="175.3" r="2.50" class="LL"/><circle cx="165.9" cy="175.7" r="2.50" class="LL"/><circle cx="174.0" cy="175.9" r="2.20" class="gHH"/><circle cx="179.7" cy="91.9" r="2.50" class="LL"/><circle cx="179.8" cy="100.1" r="2.50" class="LL"/><circle cx="179.2" cy="115.2" r="2.50" class="LL"/><circle cx="179.1" cy="118.1" r="2.50" class="LL"/><circle cx="179.0" cy="120.8" r="2.50" class="LL"/><circle cx="178.6" cy="131.9" r="2.50" class="LL"/><circle cx="178.5" cy="134.9" r="2.50" class="LL"/><circle cx="177.5" cy="160.1" r="2.50" class="LL"/><circle cx="177.3" cy="165.1" r="2.50" class="LL"/><circle cx="177.1" cy="170.0" r="2.50" class="LL"/><circle cx="178.3" cy="140.1" r="2.20" class="gHH"/><circle cx="177.9" cy="150.0" r="2.20" class="gHH"/><circle cx="176.9" cy="174.9" r="2.20" class="gHH"/></g></g><rect x="130.7" y="2.4" width="54.60" height="51.40" rx="1.3" fill="#fff" fill-opacity="0.8" stroke="#ccc" stroke-width="0.6"/><text x="158.00" y="10.75" text-anchor="middle" font-size="8">LISA Clusters</text><circle cx="138.50" cy="17.10" r="1.9" fill="rgb(211,211,211)" fill-opacity="0.7"/><text x="148.30" y="19.00" font-size="5.56" class="le">Not Significant</text><circle cx="138.50" cy="24.93" r="1.9" fill="rgb(255,0,0)" fill-opacity="0.7"/><text x="148.30" y="26.83" font-size="5.56" class="le">High-High</text><circle cx="138.50" cy="32.76" r="1.9" fill="rgb(0,0,255)" fill-opacity="0.7"/><text x="148.30" y="34.66" font-size="5.56" class="le">Low-Low</text><circle cx="138.50" cy="40.59" r="1.9" fill="rgb(255,192,203)" fill-opacity="0.7"/><text x="148.30" y="42.49" font-size="5.56" class="le">High-Low</text><circle cx="138.50" cy="48.42" r="1.9" fill="rgb(128,0,128)" fill-opacity="0.7"/><text x="148.30" y="50.32" font-size="5.56" class="le">Low-High</text><rect x="0" y="0" width="187.8" height="184.9" fill="none" stroke="#000" stroke-width="0.95"/><line x1="-3.2" y1="11.77" x2="0" y2="11.77" stroke="#000" stroke-width="0.8"/><text x="-23.4" y="14.07" font-size="6.67" textLength="17.6" lengthAdjust="spacingAndGlyphs">4.4202</text><line x1="-3.2" y1="33.54" x2="0" y2="33.54" stroke="#000" stroke-width="0.8"/><text x="-23.4" y="35.84" font-size="6.67" textLength="17.6" lengthAdjust="spacingAndGlyphs">4.4200</text><line x1="-3.2" y1="55.31" x2="0" y2="55.31" stroke="#000" stroke-width="0.8"/><text x="-23.4" y="57.61" font-size="6.67" textLength="17.6" lengthAdjust="spacingAndGlyphs">4.4198</text><line x1="-3.2" y1="77.08" x2="0" y2="77.08" stroke="#000" stroke-width="0.8"/><text x="-23.4" y="79.38" font-size="6.67" textLength="17.6" lengthAdjust="spacingAndGlyphs">4.4196</text><line x1="-3.2" y1="98.85" x2="0" y2="98.85" stroke="#000" stroke-width="0.8"/><text x="-23.4" y="101.15" font-size="6.67" textLength="17.6" lengthAdjust="spacingAndGlyphs">4.4194</text><line x1="-3.2" y1="120.62" x2="0" y2="120.62" stroke="#000" stroke-width="0.8"/><text x="-23.4" y="122.92" font-size="6.67" textLength="17.6" lengthAdjust="spacingAndGlyphs">4.4192</text><line x1="-3.2" y1="142.39" x2="0" y2="142.39" stroke="#000" stroke-width="0.8"/><text x="-23.4" y="144.69" font-size="6.67" textLength="17.6" lengthAdjust="spacingAndGlyphs">4.4190</text><line x1="-3.2" y1="164.16" x2="0" y2="164.16" stroke="#000" stroke-width="0.8"/><text x="-23.4" y="166.46" font-size="6.67" textLength="17.6" lengthAdjust="spacingAndGlyphs">4.4188</text><line x1="19.87" y1="184.9" x2="19.87" y2="188.1" stroke="#000" stroke-width="0.8"/><text x="19.87" y="195.90" text-anchor="middle" font-size="6.67">430000</text><line x1="43.18" y1="184.9" x2="43.18" y2="188.1" stroke="#000" stroke-width="0.8"/><text x="43.18" y="195.90" text-anchor="middle" font-size="6.67">430250</text><line x1="66.49" y1="184.9" x2="66.49" y2="188.1" stroke="#000" stroke-width="0.8"/><text x="66.49" y="195.90" text-anchor="middle" font-size="6.67">430500</text><line x1="89.80" y1="184.9" x2="89.80" y2="188.1" stroke="#000" stroke-width="0.8"/><text x="89.80" y="195.90" text-anchor="middle" font-size="6.67">430750</text><line x1="113.11" y1="184.9" x2="113.11" y2="188.1" stroke="#000" stroke-width="0.8"/><text x="113.11" y="195.90" text-anchor="middle" font-size="6.67">431000</text><line x1="136.42" y1="184.9" x2="136.42" y2="188.1" stroke="#000" stroke-width="0.8"/><text x="136.42" y="195.90" text-anchor="middle" font-size="6.67">431250</text><line x1="159.73" y1="184.9" x2="159.73" y2="188.1" stroke="#000" stroke-width="0.8"/><text x="159.73" y="195.90" text-anchor="middle" font-size="6.67">431500</text><line x1="183.04" y1="184.9" x2="183.04" y2="188.1" stroke="#000" stroke-width="0.8"/><text x="183.04" y="195.90" text-anchor="middle" font-size="6.67">431750</text><text x="93.90" y="204.50" text-anchor="middle" font-size="6.45">X Coordinate</text><text transform="translate(-27.6,92.45) rotate(-90)" x="0" y="0" text-anchor="middle" font-size="6.45">Y Coordinate</text><text x="0.9" y="-2.95" font-size="8">1e6</text><text x="93.90" y="-4.6" text-anchor="middle" font-size="8">Riding on the motorway: Moran&#39;s I = 0.085</text></g>
<g transform="translate(263.00,720.90)"><clipPath id="cp10"><rect x="0" y="0" width="187.45" height="184.9"/></clipPath><g clip-path="url(#cp10)"><g transform="scale(0.9981,1)"><path d="M16.3,82.0 L16.4,104.5" stroke="rgb(0,0,255)" stroke-width="6.30"/><path d="M9.5,44.0 L104.0,8.3" stroke="rgb(0,0,255)" stroke-width="5.00"/><path d="M9.5,44.0 L12.0,53.0 L13.8,62.0 L15.5,72.0 L16.3,80.0" stroke="rgb(0,0,255)" stroke-width="5.00"/><path d="M16.3,80.0 L16.1,105.0 L16.0,162.0" stroke="rgb(0,0,255)" stroke-width="5.00"/><path d="M16.0,81.0 L61.9,81.0" stroke="rgb(0,0,255)" stroke-width="5.00"/><path d="M61.9,81.0 L61.9,59.8" stroke="rgb(0,0,255)" stroke-width="5.00"/><path d="M61.9,59.8 L105.5,59.4" stroke="rgb(0,0,255)" stroke-width="5.00"/><path d="M16.0,105.7 L44.8,105.7 L52.8,104.1 L103.3,103.2" stroke="rgb(0,0,255)" stroke-width="5.00"/><path d="M16.0,162.0 L76.6,162.6" stroke="rgb(0,0,255)" stroke-width="5.00"/><path d="M76.6,162.6 L86.0,164.5 L95.5,167.0 L104.0,168.8 L111.7,170.6 L119.0,173.2 L125.7,175.0" stroke="rgb(0,0,255)" stroke-width="5.00"/><path d="M125.7,175.2 L176.9,175.9" stroke="rgb(0,0,255)" stroke-width="5.00"/><path d="M104.0,8.3 L105.4,41.8 L106.8,95.0 L111.7,170.3" stroke="rgb(0,0,255)" stroke-width="5.40"/><path d="M105.2,44.6 L179.0,44.6" stroke="rgb(0,0,255)" stroke-width="5.00"/><path d="M179.0,44.6 L179.8,100.0 L176.9,175.9" stroke="rgb(0,0,255)" stroke-width="5.00"/><path d="M106.3,79.0 L179.5,79.5" stroke="rgb(0,0,255)" stroke-width="5.00"/><path d="M106.5,83.2 L118.0,83.5 L121.0,85.3 L132.0,85.3 L135.0,83.8 L179.5,84.3" stroke="rgb(0,0,255)" stroke-width="5.00"/><path d="M110.3,135.2 L132.0,132.4" stroke="rgb(0,0,255)" stroke-width="5.00"/><path d="M132.7,123.8 L134.8,152.8" stroke="rgb(0,0,255)" stroke-width="5.00"/><path d="M111.7,152.8 L134.8,152.8" stroke="rgb(0,0,255)" stroke-width="5.00"/><circle cx="67.6" cy="22.0" r="2.40" class="LH"/><circle cx="64.5" cy="23.2" r="2.40" class="HL"/><circle cx="40.6" cy="81.0" r="2.40" class="HL"/><circle cx="105.8" cy="57.7" r="2.40" class="HL"/><circle cx="107.3" cy="102.3" r="2.40" class="HL"/><circle cx="109.5" cy="135.9" r="2.40" class="HL"/><circle cx="107.2" cy="100.7" r="2.40" class="LH"/><circle cx="109.0" cy="129.0" r="2.40" class="LH"/></g></g><rect x="134.45" y="2.4" width="49.80" height="43.60" rx="1.3" fill="#fff" fill-opacity="0.8" stroke="#ccc" stroke-width="0.6"/><text x="159.35" y="10.75" text-anchor="middle" font-size="8">LISA Clusters</text><circle cx="145.25" cy="17.10" r="1.9" fill="rgb(255,0,0)" fill-opacity="0.7"/><text x="155.45" y="19.00" font-size="5.56" class="le">High-High</text><circle cx="145.25" cy="24.93" r="1.9" fill="rgb(0,0,255)" fill-opacity="0.7"/><text x="155.45" y="26.83" font-size="5.56" class="le">Low-Low</text><circle cx="145.25" cy="32.76" r="1.9" fill="rgb(255,192,203)" fill-opacity="0.7"/><text x="155.45" y="34.66" font-size="5.56" class="le">High-Low</text><circle cx="145.25" cy="40.59" r="1.9" fill="rgb(128,0,128)" fill-opacity="0.7"/><text x="155.45" y="42.49" font-size="5.56" class="le">Low-High</text><rect x="0" y="0" width="187.45" height="184.9" fill="none" stroke="#000" stroke-width="0.95"/><line x1="-3.2" y1="11.77" x2="0" y2="11.77" stroke="#000" stroke-width="0.8"/><text x="-23.4" y="14.07" font-size="6.67" textLength="17.6" lengthAdjust="spacingAndGlyphs">4.4202</text><line x1="-3.2" y1="33.54" x2="0" y2="33.54" stroke="#000" stroke-width="0.8"/><text x="-23.4" y="35.84" font-size="6.67" textLength="17.6" lengthAdjust="spacingAndGlyphs">4.4200</text><line x1="-3.2" y1="55.31" x2="0" y2="55.31" stroke="#000" stroke-width="0.8"/><text x="-23.4" y="57.61" font-size="6.67" textLength="17.6" lengthAdjust="spacingAndGlyphs">4.4198</text><line x1="-3.2" y1="77.08" x2="0" y2="77.08" stroke="#000" stroke-width="0.8"/><text x="-23.4" y="79.38" font-size="6.67" textLength="17.6" lengthAdjust="spacingAndGlyphs">4.4196</text><line x1="-3.2" y1="98.85" x2="0" y2="98.85" stroke="#000" stroke-width="0.8"/><text x="-23.4" y="101.15" font-size="6.67" textLength="17.6" lengthAdjust="spacingAndGlyphs">4.4194</text><line x1="-3.2" y1="120.62" x2="0" y2="120.62" stroke="#000" stroke-width="0.8"/><text x="-23.4" y="122.92" font-size="6.67" textLength="17.6" lengthAdjust="spacingAndGlyphs">4.4192</text><line x1="-3.2" y1="142.39" x2="0" y2="142.39" stroke="#000" stroke-width="0.8"/><text x="-23.4" y="144.69" font-size="6.67" textLength="17.6" lengthAdjust="spacingAndGlyphs">4.4190</text><line x1="-3.2" y1="164.16" x2="0" y2="164.16" stroke="#000" stroke-width="0.8"/><text x="-23.4" y="166.46" font-size="6.67" textLength="17.6" lengthAdjust="spacingAndGlyphs">4.4188</text><line x1="19.83" y1="184.9" x2="19.83" y2="188.1" stroke="#000" stroke-width="0.8"/><text x="19.83" y="195.90" text-anchor="middle" font-size="6.67">430000</text><line x1="43.10" y1="184.9" x2="43.10" y2="188.1" stroke="#000" stroke-width="0.8"/><text x="43.10" y="195.90" text-anchor="middle" font-size="6.67">430250</text><line x1="66.37" y1="184.9" x2="66.37" y2="188.1" stroke="#000" stroke-width="0.8"/><text x="66.37" y="195.90" text-anchor="middle" font-size="6.67">430500</text><line x1="89.63" y1="184.9" x2="89.63" y2="188.1" stroke="#000" stroke-width="0.8"/><text x="89.63" y="195.90" text-anchor="middle" font-size="6.67">430750</text><line x1="112.90" y1="184.9" x2="112.90" y2="188.1" stroke="#000" stroke-width="0.8"/><text x="112.90" y="195.90" text-anchor="middle" font-size="6.67">431000</text><line x1="136.17" y1="184.9" x2="136.17" y2="188.1" stroke="#000" stroke-width="0.8"/><text x="136.17" y="195.90" text-anchor="middle" font-size="6.67">431250</text><line x1="159.43" y1="184.9" x2="159.43" y2="188.1" stroke="#000" stroke-width="0.8"/><text x="159.43" y="195.90" text-anchor="middle" font-size="6.67">431500</text><line x1="182.70" y1="184.9" x2="182.70" y2="188.1" stroke="#000" stroke-width="0.8"/><text x="182.70" y="195.90" text-anchor="middle" font-size="6.67">431750</text><text x="93.72" y="204.50" text-anchor="middle" font-size="6.45">X Coordinate</text><text transform="translate(-27.6,92.45) rotate(-90)" x="0" y="0" text-anchor="middle" font-size="6.45">Y Coordinate</text><text x="0.9" y="-2.95" font-size="8">1e6</text><text x="93.72" y="-4.6" text-anchor="middle" font-size="8">Talking while traveling: Moran&#39;s I = 0.047</text></g>
<g transform="translate(491.36,720.90)"><clipPath id="cp11"><rect x="0" y="0" width="187.1" height="184.9"/></clipPath><g clip-path="url(#cp11)"><g transform="scale(0.9963,1)"><path d="M16.3,82.0 L16.4,104.5" stroke="rgb(0,0,255)" stroke-width="6.30"/><path d="M9.5,44.0 L104.0,8.3" stroke="rgb(0,0,255)" stroke-width="5.00"/><path d="M9.5,44.0 L12.0,53.0 L13.8,62.0 L15.5,72.0 L16.3,80.0" stroke="rgb(0,0,255)" stroke-width="5.00"/><path d="M16.3,80.0 L16.1,105.0 L16.0,162.0" stroke="rgb(0,0,255)" stroke-width="5.00"/><path d="M16.0,81.0 L61.9,81.0" stroke="rgb(0,0,255)" stroke-width="5.00"/><path d="M61.9,81.0 L61.9,59.8" stroke="rgb(0,0,255)" stroke-width="5.00"/><path d="M61.9,59.8 L105.5,59.4" stroke="rgb(0,0,255)" stroke-width="5.00"/><path d="M16.0,105.7 L44.8,105.7 L52.8,104.1 L103.3,103.2" stroke="rgb(0,0,255)" stroke-width="5.00"/><path d="M16.0,162.0 L76.6,162.6" stroke="rgb(0,0,255)" stroke-width="5.00"/><path d="M76.6,162.6 L86.0,164.5 L95.5,167.0 L104.0,168.8 L111.7,170.6 L119.0,173.2 L125.7,175.0" stroke="rgb(0,0,255)" stroke-width="5.00"/><path d="M125.7,175.2 L176.9,175.9" stroke="rgb(0,0,255)" stroke-width="5.00"/><path d="M104.0,8.3 L105.4,41.8 L106.8,95.0 L111.7,170.3" stroke="rgb(0,0,255)" stroke-width="5.40"/><path d="M105.2,44.6 L179.0,44.6" stroke="rgb(0,0,255)" stroke-width="5.00"/><path d="M179.0,44.6 L179.8,100.0 L176.9,175.9" stroke="rgb(0,0,255)" stroke-width="5.00"/><path d="M106.3,79.0 L179.5,79.5" stroke="rgb(0,0,255)" stroke-width="5.00"/><path d="M106.5,83.2 L118.0,83.5 L121.0,85.3 L132.0,85.3 L135.0,83.8 L179.5,84.3" stroke="rgb(0,0,255)" stroke-width="5.00"/><path d="M110.3,135.2 L132.0,132.4" stroke="rgb(0,0,255)" stroke-width="5.00"/><path d="M132.7,123.8 L134.8,152.8" stroke="rgb(0,0,255)" stroke-width="5.00"/><path d="M111.7,152.8 L134.8,152.8" stroke="rgb(0,0,255)" stroke-width="5.00"/><circle cx="23.2" cy="38.8" r="2.40" class="LH"/><circle cx="25.1" cy="38.1" r="2.40" class="LH"/><circle cx="27.2" cy="37.3" r="2.40" class="LH"/><circle cx="73.1" cy="20.0" r="2.40" class="LH"/><circle cx="30.1" cy="36.2" r="2.40" class="HL"/><circle cx="50.8" cy="28.4" r="2.40" class="HL"/><circle cx="104.2" cy="11.9" r="2.40" class="LH"/><circle cx="104.3" cy="15.2" r="2.40" class="LH"/><circle cx="104.4" cy="18.0" r="2.40" class="LH"/><circle cx="104.6" cy="21.7" r="2.40" class="LH"/><circle cx="104.8" cy="26.9" r="2.40" class="LH"/><circle cx="104.9" cy="30.2" r="2.40" class="LH"/><circle cx="105.0" cy="32.6" r="2.40" class="LH"/><circle cx="105.6" cy="49.2" r="2.40" class="LH"/><circle cx="105.7" cy="52.1" r="2.40" class="LH"/><circle cx="105.9" cy="61.8" r="2.40" class="LH"/><circle cx="106.0" cy="63.8" r="2.40" class="LH"/><circle cx="106.1" cy="67.1" r="2.40" class="LH"/><circle cx="106.1" cy="69.9" r="2.40" class="LH"/><circle cx="106.3" cy="74.4" r="2.40" class="LH"/><circle cx="107.1" cy="99.9" r="2.40" class="LH"/><circle cx="107.4" cy="103.9" r="2.40" class="LH"/><circle cx="107.6" cy="107.2" r="2.40" class="LH"/><circle cx="107.8" cy="110.8" r="2.40" class="LH"/><circle cx="109.4" cy="134.7" r="2.40" class="LH"/><circle cx="110.0" cy="144.4" r="2.40" class="LH"/><circle cx="110.3" cy="148.0" r="2.40" class="LH"/><circle cx="110.5" cy="152.1" r="2.40" class="LH"/><circle cx="110.8" cy="156.9" r="2.40" class="LH"/><circle cx="105.8" cy="58.1" r="2.40" class="HL"/><circle cx="109.7" cy="140.0" r="2.40" class="HL"/><circle cx="111.0" cy="160.2" r="2.40" class="HL"/><circle cx="109.3" cy="44.6" r="2.40" class="LH"/><circle cx="160.6" cy="44.6" r="2.40" class="HL"/><circle cx="162.9" cy="44.6" r="2.40" class="HL"/><circle cx="166.1" cy="44.6" r="2.40" class="HL"/><circle cx="61.9" cy="64.5" r="2.40" class="LH"/><circle cx="55.0" cy="81.0" r="2.40" class="LH"/><circle cx="57.5" cy="81.0" r="2.40" class="LH"/><circle cx="60.6" cy="81.0" r="2.40" class="LH"/><circle cx="82.8" cy="59.6" r="2.40" class="LH"/><circle cx="85.0" cy="59.6" r="2.40" class="LH"/><circle cx="87.0" cy="59.6" r="2.40" class="LH"/><circle cx="91.1" cy="59.5" r="2.40" class="HL"/><circle cx="16.3" cy="80.0" r="2.40" class="HL"/><circle cx="16.3" cy="80.0" r="2.40" class="HL"/><circle cx="16.3" cy="82.5" r="2.40" class="HL"/><circle cx="16.1" cy="100.1" r="2.40" class="HL"/><circle cx="16.0" cy="137.4" r="2.40" class="HL"/><circle cx="16.0" cy="141.1" r="2.40" class="HL"/><circle cx="16.2" cy="92.9" r="2.40" class="LH"/><circle cx="16.1" cy="108.3" r="2.40" class="LH"/><circle cx="16.1" cy="125.1" r="2.40" class="LH"/><circle cx="16.1" cy="133.3" r="2.40" class="LH"/><circle cx="110.6" cy="83.3" r="2.40" class="HL"/><circle cx="135.6" cy="83.8" r="2.40" class="HL"/><circle cx="139.6" cy="83.9" r="2.40" class="HL"/><circle cx="149.4" cy="84.0" r="2.40" class="HL"/><circle cx="35.7" cy="105.7" r="2.40" class="HL"/><circle cx="41.1" cy="105.7" r="2.40" class="LH"/><circle cx="44.0" cy="105.7" r="2.40" class="LH"/><circle cx="55.2" cy="104.1" r="2.40" class="LH"/><circle cx="113.3" cy="152.8" r="2.40" class="LH"/><circle cx="52.4" cy="162.4" r="2.40" class="HL"/><circle cx="82.8" cy="163.9" r="2.40" class="HL"/><circle cx="95.4" cy="167.0" r="2.40" class="HL"/><circle cx="110.6" cy="170.3" r="2.40" class="HL"/><circle cx="127.2" cy="175.2" r="2.40" class="LH"/><circle cx="178.6" cy="130.6" r="2.40" class="HL"/><circle cx="177.1" cy="170.6" r="2.40" class="LH"/></g></g><rect x="129.99999999999997" y="2.4" width="54.60" height="51.40" rx="1.3" fill="#fff" fill-opacity="0.8" stroke="#ccc" stroke-width="0.6"/><text x="157.30" y="10.75" text-anchor="middle" font-size="8">LISA Clusters</text><circle cx="137.80" cy="17.10" r="1.9" fill="rgb(211,211,211)" fill-opacity="0.7"/><text x="147.60" y="19.00" font-size="5.56" class="le">Not Significant</text><circle cx="137.80" cy="24.93" r="1.9" fill="rgb(255,0,0)" fill-opacity="0.7"/><text x="147.60" y="26.83" font-size="5.56" class="le">High-High</text><circle cx="137.80" cy="32.76" r="1.9" fill="rgb(0,0,255)" fill-opacity="0.7"/><text x="147.60" y="34.66" font-size="5.56" class="le">Low-Low</text><circle cx="137.80" cy="40.59" r="1.9" fill="rgb(255,192,203)" fill-opacity="0.7"/><text x="147.60" y="42.49" font-size="5.56" class="le">High-Low</text><circle cx="137.80" cy="48.42" r="1.9" fill="rgb(128,0,128)" fill-opacity="0.7"/><text x="147.60" y="50.32" font-size="5.56" class="le">Low-High</text><rect x="0" y="0" width="187.1" height="184.9" fill="none" stroke="#000" stroke-width="0.95"/><line x1="-3.2" y1="11.77" x2="0" y2="11.77" stroke="#000" stroke-width="0.8"/><text x="-23.4" y="14.07" font-size="6.67" textLength="17.6" lengthAdjust="spacingAndGlyphs">4.4202</text><line x1="-3.2" y1="33.54" x2="0" y2="33.54" stroke="#000" stroke-width="0.8"/><text x="-23.4" y="35.84" font-size="6.67" textLength="17.6" lengthAdjust="spacingAndGlyphs">4.4200</text><line x1="-3.2" y1="55.31" x2="0" y2="55.31" stroke="#000" stroke-width="0.8"/><text x="-23.4" y="57.61" font-size="6.67" textLength="17.6" lengthAdjust="spacingAndGlyphs">4.4198</text><line x1="-3.2" y1="77.08" x2="0" y2="77.08" stroke="#000" stroke-width="0.8"/><text x="-23.4" y="79.38" font-size="6.67" textLength="17.6" lengthAdjust="spacingAndGlyphs">4.4196</text><line x1="-3.2" y1="98.85" x2="0" y2="98.85" stroke="#000" stroke-width="0.8"/><text x="-23.4" y="101.15" font-size="6.67" textLength="17.6" lengthAdjust="spacingAndGlyphs">4.4194</text><line x1="-3.2" y1="120.62" x2="0" y2="120.62" stroke="#000" stroke-width="0.8"/><text x="-23.4" y="122.92" font-size="6.67" textLength="17.6" lengthAdjust="spacingAndGlyphs">4.4192</text><line x1="-3.2" y1="142.39" x2="0" y2="142.39" stroke="#000" stroke-width="0.8"/><text x="-23.4" y="144.69" font-size="6.67" textLength="17.6" lengthAdjust="spacingAndGlyphs">4.4190</text><line x1="-3.2" y1="164.16" x2="0" y2="164.16" stroke="#000" stroke-width="0.8"/><text x="-23.4" y="166.46" font-size="6.67" textLength="17.6" lengthAdjust="spacingAndGlyphs">4.4188</text><line x1="19.80" y1="184.9" x2="19.80" y2="188.1" stroke="#000" stroke-width="0.8"/><text x="19.80" y="195.90" text-anchor="middle" font-size="6.67">430000</text><line x1="43.02" y1="184.9" x2="43.02" y2="188.1" stroke="#000" stroke-width="0.8"/><text x="43.02" y="195.90" text-anchor="middle" font-size="6.67">430250</text><line x1="66.24" y1="184.9" x2="66.24" y2="188.1" stroke="#000" stroke-width="0.8"/><text x="66.24" y="195.90" text-anchor="middle" font-size="6.67">430500</text><line x1="89.47" y1="184.9" x2="89.47" y2="188.1" stroke="#000" stroke-width="0.8"/><text x="89.47" y="195.90" text-anchor="middle" font-size="6.67">430750</text><line x1="112.69" y1="184.9" x2="112.69" y2="188.1" stroke="#000" stroke-width="0.8"/><text x="112.69" y="195.90" text-anchor="middle" font-size="6.67">431000</text><line x1="135.91" y1="184.9" x2="135.91" y2="188.1" stroke="#000" stroke-width="0.8"/><text x="135.91" y="195.90" text-anchor="middle" font-size="6.67">431250</text><line x1="159.13" y1="184.9" x2="159.13" y2="188.1" stroke="#000" stroke-width="0.8"/><text x="159.13" y="195.90" text-anchor="middle" font-size="6.67">431500</text><line x1="182.36" y1="184.9" x2="182.36" y2="188.1" stroke="#000" stroke-width="0.8"/><text x="182.36" y="195.90" text-anchor="middle" font-size="6.67">431750</text><text x="93.55" y="204.50" text-anchor="middle" font-size="6.45">X Coordinate</text><text transform="translate(-27.6,92.45) rotate(-90)" x="0" y="0" text-anchor="middle" font-size="6.45">Y Coordinate</text><text x="0.9" y="-2.95" font-size="8">1e6</text><text x="93.55" y="-4.6" text-anchor="middle" font-size="8">Using a cell phone: Moran&#39;s I = 0.051</text></g>
<g transform="translate(34.63,955.34)"><clipPath id="cp12"><rect x="0" y="0" width="187.8" height="184.9"/></clipPath><g clip-path="url(#cp12)"><g transform="scale(1.0000,1)"><path d="M16.3,82.0 L16.4,104.5" stroke="rgb(0,0,255)" stroke-width="6.30" stroke-dasharray="0 3.7"/><path d="M9.5,44.0 L104.0,8.3" stroke="rgb(0,0,255)" stroke-width="5.00" stroke-dasharray="0 3.7"/><path d="M9.5,44.0 L12.0,53.0 L13.8,62.0 L15.5,72.0 L16.3,80.0" stroke="rgb(0,0,255)" stroke-width="5.00" stroke-dasharray="0 3.7"/><path d="M16.3,80.0 L16.1,105.0 L16.0,162.0" stroke="rgb(0,0,255)" stroke-width="5.00" stroke-dasharray="0 3.7"/><path d="M16.0,81.0 L61.9,81.0" stroke="rgb(0,0,255)" stroke-width="5.00" stroke-dasharray="0 3.7"/><path d="M61.9,81.0 L61.9,59.8" stroke="rgb(0,0,255)" stroke-width="5.00" stroke-dasharray="0 3.7"/><path d="M61.9,59.8 L105.5,59.4" stroke="rgb(0,0,255)" stroke-width="5.00" stroke-dasharray="0 3.7"/><path d="M16.0,105.7 L44.8,105.7 L52.8,104.1 L103.3,103.2" stroke="rgb(0,0,255)" stroke-width="5.00" stroke-dasharray="0 3.7"/><path d="M16.0,162.0 L76.6,162.6" stroke="rgb(0,0,255)" stroke-width="5.00" stroke-dasharray="0 3.7"/><path d="M76.6,162.6 L86.0,164.5 L95.5,167.0 L104.0,168.8 L111.7,170.6 L119.0,173.2 L125.7,175.0" stroke="rgb(0,0,255)" stroke-width="5.00" stroke-dasharray="0 3.7"/><path d="M125.7,175.2 L176.9,175.9" stroke="rgb(0,0,255)" stroke-width="5.00" stroke-dasharray="0 3.7"/><path d="M104.0,8.3 L105.4,41.8 L106.8,95.0 L111.7,170.3" stroke="rgb(0,0,255)" stroke-width="5.40" stroke-dasharray="0 3.7"/><path d="M105.2,44.6 L179.0,44.6" stroke="rgb(0,0,255)" stroke-width="5.00" stroke-dasharray="0 3.7"/><path d="M179.0,44.6 L179.8,100.0 L176.9,175.9" stroke="rgb(0,0,255)" stroke-width="5.00" stroke-dasharray="0 3.7"/><path d="M106.3,79.0 L179.5,79.5" stroke="rgb(0,0,255)" stroke-width="5.00" stroke-dasharray="0 3.7"/><path d="M106.5,83.2 L118.0,83.5 L121.0,85.3 L132.0,85.3 L135.0,83.8 L179.5,84.3" stroke="rgb(0,0,255)" stroke-width="5.00" stroke-dasharray="0 3.7"/><path d="M110.3,135.2 L132.0,132.4" stroke="rgb(0,0,255)" stroke-width="5.00" stroke-dasharray="0 3.7"/><path d="M132.7,123.8 L134.8,152.8" stroke="rgb(0,0,255)" stroke-width="5.00" stroke-dasharray="0 3.7"/><path d="M111.7,152.8 L134.8,152.8" stroke="rgb(0,0,255)" stroke-width="5.00" stroke-dasharray="0 3.7"/><path d="M9.9,45.6 L10.2,46.6 L10.5,47.5 L10.8,48.5 L11.0,49.5 L11.3,50.5 L11.6,51.5 L11.8,52.4 L12.1,53.4 L12.3,54.4 L12.5,55.4 L12.7,56.4 L12.9,57.4 L13.1,58.4 L13.3,59.4 L13.5,60.4 L13.7,61.4 L13.9,62.4 L14.0,63.4 L14.2,64.4 L14.4,65.4 L14.5,66.4" stroke="rgb(128,0,128)" stroke-width="5.00"/><path d="M66.0,59.8 L67.1,59.8 L68.1,59.7 L69.1,59.7 L70.1,59.7 L71.1,59.7 L72.1,59.7 L73.2,59.7 L74.2,59.7 L75.2,59.7 L76.2,59.7 L77.2,59.7 L78.2,59.6 L79.3,59.6 L80.3,59.6 L81.3,59.6 L82.3,59.6 L83.3,59.6 L84.4,59.6 L85.4,59.6 L86.4,59.6 L87.4,59.6 L88.4,59.6 L89.4,59.5 L90.5,59.5 L91.5,59.5 L92.5,59.5 L93.5,59.5 L94.5,59.5 L95.5,59.5 L96.6,59.5" stroke="rgb(128,0,128)" stroke-width="5.00"/><path d="M21.7,105.7 L22.7,105.7 L23.8,105.7 L24.8,105.7 L25.8,105.7 L26.9,105.7 L27.9,105.7 L29.0,105.7 L30.0,105.7 L31.0,105.7 L32.1,105.7 L33.1,105.7 L34.1,105.7 L35.2,105.7 L36.2,105.7 L37.3,105.7 L38.3,105.7" stroke="rgb(128,0,128)" stroke-width="5.00"/><path d="M84.1,164.1 L85.1,164.3 L86.2,164.5 L87.2,164.8 L88.2,165.1 L89.3,165.4 L90.3,165.6 L91.4,165.9 L92.4,166.2 L93.5,166.5 L94.5,166.7 L95.5,167.0 L96.6,167.2" stroke="rgb(128,0,128)" stroke-width="5.00"/><path d="M54.9,162.4 L55.9,162.4 L56.9,162.4 L57.9,162.4 L58.9,162.4 L59.9,162.4 L60.9,162.4 L61.9,162.5 L62.9,162.5 L63.9,162.5 L65.0,162.5 L66.0,162.5 L67.0,162.5 L68.0,162.5 L69.0,162.5 L70.0,162.5 L71.0,162.5 L72.0,162.6 L73.0,162.6" stroke="rgb(128,0,128)" stroke-width="5.00"/><circle cx="16.1" cy="41.5" r="2.40" class="LH"/><circle cx="18.0" cy="40.8" r="2.40" class="LH"/><circle cx="20.4" cy="39.9" r="2.40" class="LH"/><circle cx="30.1" cy="36.2" r="2.40" class="LH"/><circle cx="31.9" cy="35.5" r="2.40" class="LH"/><circle cx="35.0" cy="34.4" r="2.40" class="LH"/><circle cx="36.9" cy="33.6" r="2.40" class="LH"/><circle cx="53.7" cy="27.3" r="2.40" class="LH"/><circle cx="55.6" cy="26.6" r="2.40" class="LH"/><circle cx="57.7" cy="25.8" r="2.40" class="LH"/><circle cx="88.4" cy="14.2" r="2.40" class="LH"/><circle cx="91.0" cy="13.2" r="2.40" class="LH"/><circle cx="100.7" cy="9.5" r="2.40" class="LH"/><circle cx="12.6" cy="42.8" r="2.40" class="HL"/><circle cx="26.5" cy="37.6" r="2.40" class="HL"/><circle cx="40.0" cy="32.5" r="2.40" class="HL"/><circle cx="67.6" cy="22.0" r="2.40" class="HL"/><circle cx="15.5" cy="72.0" r="2.40" class="HL"/><circle cx="21.7" cy="81.0" r="2.40" class="HL"/><circle cx="41.1" cy="81.0" r="2.40" class="HL"/><circle cx="57.7" cy="81.0" r="2.40" class="HL"/><circle cx="40.0" cy="81.0" r="2.40" class="NS"/><path d="M61.9,74.7 L61.9,73.7 L61.9,72.7 L61.9,71.7 L61.9,70.7 L61.9,69.7 L61.9,68.7 L61.9,67.6 L61.9,66.6 L61.9,65.6 L61.9,64.6 L61.9,63.6" stroke="rgb(128,0,128)" stroke-width="5.00"/><circle cx="69.0" cy="59.7" r="2.40" class="HL"/><circle cx="93.9" cy="59.5" r="2.40" class="HL"/><circle cx="104.6" cy="23.3" r="2.40" class="LH"/><circle cx="104.8" cy="26.9" r="2.40" class="LH"/><circle cx="104.9" cy="30.2" r="2.40" class="LH"/><circle cx="105.6" cy="50.0" r="2.40" class="LH"/><circle cx="105.7" cy="52.9" r="2.40" class="LH"/><circle cx="105.7" cy="54.9" r="2.40" class="LH"/><circle cx="106.8" cy="93.4" r="2.40" class="LH"/><circle cx="107.1" cy="99.9" r="2.40" class="LH"/><circle cx="107.9" cy="112.0" r="2.40" class="LH"/><circle cx="110.1" cy="146.4" r="2.40" class="LH"/><circle cx="110.9" cy="157.4" r="2.40" class="LH"/><circle cx="111.1" cy="161.0" r="2.40" class="LH"/><circle cx="111.4" cy="165.8" r="2.40" class="LH"/><circle cx="105.5" cy="44.4" r="2.40" class="HL"/><circle cx="107.5" cy="105.1" r="2.40" class="HL"/><circle cx="107.7" cy="109.2" r="2.40" class="HL"/><circle cx="108.4" cy="120.1" r="2.40" class="HL"/><circle cx="108.8" cy="125.0" r="2.40" class="HL"/><circle cx="109.1" cy="44.6" r="2.40" class="LH"/><circle cx="112.9" cy="44.6" r="2.40" class="LH"/><circle cx="117.0" cy="44.6" r="2.40" class="LH"/><circle cx="121.1" cy="44.6" r="2.40" class="LH"/><circle cx="124.9" cy="44.6" r="2.40" class="LH"/><circle cx="127.2" cy="44.6" r="2.40" class="LH"/><circle cx="105.2" cy="44.6" r="2.40" class="HL"/><circle cx="132.0" cy="44.6" r="2.40" class="HL"/><circle cx="140.1" cy="44.6" r="2.40" class="HL"/><circle cx="150.0" cy="44.6" r="2.40" class="HL"/><circle cx="160.0" cy="44.6" r="2.40" class="HL"/><circle cx="170.0" cy="44.6" r="2.40" class="HL"/><circle cx="118.0" cy="79.1" r="2.40" class="LH"/><circle cx="120.9" cy="79.1" r="2.40" class="LH"/><circle cx="124.1" cy="79.1" r="2.40" class="LH"/><circle cx="144.0" cy="79.3" r="2.40" class="LH"/><circle cx="146.6" cy="79.3" r="2.40" class="LH"/><circle cx="113.1" cy="79.0" r="2.40" class="HL"/><circle cx="128.1" cy="79.1" r="2.40" class="HL"/><circle cx="131.0" cy="79.2" r="2.40" class="HL"/><circle cx="133.9" cy="79.2" r="2.40" class="HL"/><circle cx="171.4" cy="79.4" r="2.40" class="HL"/><circle cx="117.9" cy="83.5" r="2.40" class="LH"/><circle cx="130.0" cy="85.3" r="2.40" class="LH"/><circle cx="144.0" cy="83.9" r="2.40" class="LH"/><circle cx="159.9" cy="84.1" r="2.40" class="LH"/><circle cx="16.3" cy="85.9" r="2.40" class="HL"/><circle cx="16.2" cy="90.0" r="2.40" class="HL"/><circle cx="16.1" cy="106.0" r="2.40" class="HL"/><circle cx="16.0" cy="157.1" r="2.40" class="HL"/><circle cx="16.2" cy="95.0" r="2.40" class="LH"/><circle cx="16.2" cy="97.4" r="2.40" class="LH"/><circle cx="16.1" cy="100.5" r="2.40" class="LH"/><circle cx="40.9" cy="105.7" r="2.40" class="HL"/><circle cx="57.0" cy="104.0" r="2.40" class="HL"/><circle cx="60.0" cy="104.0" r="2.40" class="HL"/><circle cx="77.3" cy="103.7" r="2.40" class="HL"/><circle cx="79.9" cy="103.6" r="2.40" class="HL"/><circle cx="82.7" cy="103.6" r="2.40" class="HL"/><circle cx="49.4" cy="104.8" r="2.40" class="LH"/><circle cx="67.4" cy="103.8" r="2.40" class="LH"/><circle cx="92.4" cy="103.4" r="2.40" class="LH"/><circle cx="95.0" cy="103.3" r="2.40" class="LH"/><circle cx="98.1" cy="103.3" r="2.40" class="LH"/><circle cx="100.7" cy="103.2" r="2.40" class="LH"/><circle cx="127.1" cy="133.0" r="2.40" class="LH"/><circle cx="115.0" cy="134.6" r="2.40" class="HL"/><circle cx="119.0" cy="134.1" r="2.40" class="HL"/><circle cx="132.8" cy="125.0" r="2.40" class="NS"/><circle cx="133.9" cy="140.7" r="2.40" class="LH"/><path d="M118.8,152.8 L119.9,152.8 L120.9,152.8 L122.0,152.8 L123.1,152.8 L124.1,152.8 L125.2,152.8 L126.3,152.8 L127.3,152.8 L128.4,152.8 L129.5,152.8 L130.5,152.8 L131.6,152.8 L132.7,152.8 L133.7,152.8 L134.8,152.8" stroke="rgb(128,0,128)" stroke-width="5.00"/><circle cx="21.8" cy="162.1" r="2.40" class="LH"/><circle cx="31.0" cy="162.1" r="2.40" class="LH"/><circle cx="41.6" cy="162.3" r="2.40" class="LH"/><circle cx="45.2" cy="162.3" r="2.40" class="LH"/><circle cx="38.0" cy="162.2" r="2.40" class="HL"/><circle cx="49.5" cy="162.3" r="2.40" class="HL"/><circle cx="104.0" cy="168.8" r="2.40" class="HL"/><circle cx="150.5" cy="175.5" r="2.40" class="HL"/><circle cx="165.9" cy="175.7" r="2.40" class="HL"/><circle cx="179.7" cy="91.9" r="2.40" class="LH"/><circle cx="179.7" cy="94.8" r="2.40" class="LH"/><circle cx="179.8" cy="98.1" r="2.40" class="LH"/><circle cx="179.7" cy="102.1" r="2.40" class="LH"/><circle cx="178.6" cy="131.9" r="2.40" class="LH"/><circle cx="178.3" cy="138.2" r="2.40" class="LH"/><circle cx="178.0" cy="146.0" r="2.40" class="LH"/><circle cx="177.7" cy="154.9" r="2.40" class="LH"/><circle cx="177.4" cy="162.1" r="2.40" class="LH"/><circle cx="179.5" cy="107.3" r="2.40" class="HL"/><circle cx="179.3" cy="111.9" r="2.40" class="HL"/><circle cx="179.1" cy="117.2" r="2.40" class="HL"/><circle cx="179.0" cy="122.1" r="2.40" class="HL"/><circle cx="178.8" cy="127.0" r="2.40" class="HL"/></g></g><rect x="130.7" y="2.4" width="54.60" height="51.40" rx="1.3" fill="#fff" fill-opacity="0.8" stroke="#ccc" stroke-width="0.6"/><text x="158.00" y="10.75" text-anchor="middle" font-size="8">LISA Clusters</text><circle cx="138.50" cy="17.10" r="1.9" fill="rgb(211,211,211)" fill-opacity="0.7"/><text x="148.30" y="19.00" font-size="5.56" class="le">Not Significant</text><circle cx="138.50" cy="24.93" r="1.9" fill="rgb(255,0,0)" fill-opacity="0.7"/><text x="148.30" y="26.83" font-size="5.56" class="le">High-High</text><circle cx="138.50" cy="32.76" r="1.9" fill="rgb(0,0,255)" fill-opacity="0.7"/><text x="148.30" y="34.66" font-size="5.56" class="le">Low-Low</text><circle cx="138.50" cy="40.59" r="1.9" fill="rgb(255,192,203)" fill-opacity="0.7"/><text x="148.30" y="42.49" font-size="5.56" class="le">High-Low</text><circle cx="138.50" cy="48.42" r="1.9" fill="rgb(128,0,128)" fill-opacity="0.7"/><text x="148.30" y="50.32" font-size="5.56" class="le">Low-High</text><rect x="0" y="0" width="187.8" height="184.9" fill="none" stroke="#000" stroke-width="0.95"/><line x1="-3.2" y1="11.77" x2="0" y2="11.77" stroke="#000" stroke-width="0.8"/><text x="-23.4" y="14.07" font-size="6.67" textLength="17.6" lengthAdjust="spacingAndGlyphs">4.4202</text><line x1="-3.2" y1="33.54" x2="0" y2="33.54" stroke="#000" stroke-width="0.8"/><text x="-23.4" y="35.84" font-size="6.67" textLength="17.6" lengthAdjust="spacingAndGlyphs">4.4200</text><line x1="-3.2" y1="55.31" x2="0" y2="55.31" stroke="#000" stroke-width="0.8"/><text x="-23.4" y="57.61" font-size="6.67" textLength="17.6" lengthAdjust="spacingAndGlyphs">4.4198</text><line x1="-3.2" y1="77.08" x2="0" y2="77.08" stroke="#000" stroke-width="0.8"/><text x="-23.4" y="79.38" font-size="6.67" textLength="17.6" lengthAdjust="spacingAndGlyphs">4.4196</text><line x1="-3.2" y1="98.85" x2="0" y2="98.85" stroke="#000" stroke-width="0.8"/><text x="-23.4" y="101.15" font-size="6.67" textLength="17.6" lengthAdjust="spacingAndGlyphs">4.4194</text><line x1="-3.2" y1="120.62" x2="0" y2="120.62" stroke="#000" stroke-width="0.8"/><text x="-23.4" y="122.92" font-size="6.67" textLength="17.6" lengthAdjust="spacingAndGlyphs">4.4192</text><line x1="-3.2" y1="142.39" x2="0" y2="142.39" stroke="#000" stroke-width="0.8"/><text x="-23.4" y="144.69" font-size="6.67" textLength="17.6" lengthAdjust="spacingAndGlyphs">4.4190</text><line x1="-3.2" y1="164.16" x2="0" y2="164.16" stroke="#000" stroke-width="0.8"/><text x="-23.4" y="166.46" font-size="6.67" textLength="17.6" lengthAdjust="spacingAndGlyphs">4.4188</text><line x1="19.87" y1="184.9" x2="19.87" y2="188.1" stroke="#000" stroke-width="0.8"/><text x="19.87" y="195.90" text-anchor="middle" font-size="6.67">430000</text><line x1="43.18" y1="184.9" x2="43.18" y2="188.1" stroke="#000" stroke-width="0.8"/><text x="43.18" y="195.90" text-anchor="middle" font-size="6.67">430250</text><line x1="66.49" y1="184.9" x2="66.49" y2="188.1" stroke="#000" stroke-width="0.8"/><text x="66.49" y="195.90" text-anchor="middle" font-size="6.67">430500</text><line x1="89.80" y1="184.9" x2="89.80" y2="188.1" stroke="#000" stroke-width="0.8"/><text x="89.80" y="195.90" text-anchor="middle" font-size="6.67">430750</text><line x1="113.11" y1="184.9" x2="113.11" y2="188.1" stroke="#000" stroke-width="0.8"/><text x="113.11" y="195.90" text-anchor="middle" font-size="6.67">431000</text><line x1="136.42" y1="184.9" x2="136.42" y2="188.1" stroke="#000" stroke-width="0.8"/><text x="136.42" y="195.90" text-anchor="middle" font-size="6.67">431250</text><line x1="159.73" y1="184.9" x2="159.73" y2="188.1" stroke="#000" stroke-width="0.8"/><text x="159.73" y="195.90" text-anchor="middle" font-size="6.67">431500</text><line x1="183.04" y1="184.9" x2="183.04" y2="188.1" stroke="#000" stroke-width="0.8"/><text x="183.04" y="195.90" text-anchor="middle" font-size="6.67">431750</text><text x="93.90" y="204.50" text-anchor="middle" font-size="6.45">X Coordinate</text><text transform="translate(-27.6,92.45) rotate(-90)" x="0" y="0" text-anchor="middle" font-size="6.45">Y Coordinate</text><text x="0.9" y="-2.95" font-size="8">1e6</text><text x="93.90" y="-4.6" text-anchor="middle" font-size="8">Bike lane walking: Moran&#39;s I = 0.051</text></g>
<g transform="translate(263.00,955.34)"><clipPath id="cp13"><rect x="0" y="0" width="187.45" height="184.9"/></clipPath><g clip-path="url(#cp13)"><g transform="scale(0.9981,1)"><path d="M16.3,82.0 L16.4,104.5" stroke="rgb(0,0,255)" stroke-width="6.30"/><path d="M9.5,44.0 L104.0,8.3" stroke="rgb(0,0,255)" stroke-width="5.00"/><path d="M9.5,44.0 L12.0,53.0 L13.8,62.0 L15.5,72.0 L16.3,80.0" stroke="rgb(0,0,255)" stroke-width="5.00"/><path d="M16.3,80.0 L16.1,105.0 L16.0,162.0" stroke="rgb(0,0,255)" stroke-width="5.00"/><path d="M16.0,81.0 L61.9,81.0" stroke="rgb(0,0,255)" stroke-width="5.00"/><path d="M61.9,81.0 L61.9,59.8" stroke="rgb(0,0,255)" stroke-width="5.00"/><path d="M61.9,59.8 L105.5,59.4" stroke="rgb(0,0,255)" stroke-width="5.00"/><path d="M16.0,105.7 L44.8,105.7 L52.8,104.1 L103.3,103.2" stroke="rgb(0,0,255)" stroke-width="5.00"/><path d="M16.0,162.0 L76.6,162.6" stroke="rgb(0,0,255)" stroke-width="5.00"/><path d="M76.6,162.6 L86.0,164.5 L95.5,167.0 L104.0,168.8 L111.7,170.6 L119.0,173.2 L125.7,175.0" stroke="rgb(0,0,255)" stroke-width="5.00"/><path d="M125.7,175.2 L176.9,175.9" stroke="rgb(0,0,255)" stroke-width="5.00"/><path d="M104.0,8.3 L105.4,41.8 L106.8,95.0 L111.7,170.3" stroke="rgb(0,0,255)" stroke-width="5.40"/><path d="M105.2,44.6 L179.0,44.6" stroke="rgb(0,0,255)" stroke-width="5.00"/><path d="M179.0,44.6 L179.8,100.0 L176.9,175.9" stroke="rgb(0,0,255)" stroke-width="5.00"/><path d="M106.3,79.0 L179.5,79.5" stroke="rgb(0,0,255)" stroke-width="5.00"/><path d="M106.5,83.2 L118.0,83.5 L121.0,85.3 L132.0,85.3 L135.0,83.8 L179.5,84.3" stroke="rgb(0,0,255)" stroke-width="5.00"/><path d="M110.3,135.2 L132.0,132.4" stroke="rgb(0,0,255)" stroke-width="5.00"/><path d="M132.7,123.8 L134.8,152.8" stroke="rgb(0,0,255)" stroke-width="5.00"/><path d="M111.7,152.8 L134.8,152.8" stroke="rgb(0,0,255)" stroke-width="5.00"/><circle cx="60.5" cy="24.7" r="2.40" class="HL"/><circle cx="82.5" cy="16.4" r="2.40" class="HL"/><circle cx="62.4" cy="24.0" r="2.40" class="LH"/><circle cx="84.4" cy="15.7" r="2.40" class="LH"/><circle cx="105.5" cy="44.0" r="2.40" class="LH"/><circle cx="105.6" cy="50.8" r="2.40" class="LH"/><circle cx="105.7" cy="52.5" r="2.40" class="HL"/><circle cx="106.3" cy="77.6" r="2.40" class="HL"/><circle cx="134.2" cy="144.5" r="2.40" class="HL"/><circle cx="134.3" cy="146.4" r="2.40" class="LH"/></g></g><rect x="134.45" y="2.4" width="49.80" height="43.60" rx="1.3" fill="#fff" fill-opacity="0.8" stroke="#ccc" stroke-width="0.6"/><text x="159.35" y="10.75" text-anchor="middle" font-size="8">LISA Clusters</text><circle cx="145.25" cy="17.10" r="1.9" fill="rgb(255,0,0)" fill-opacity="0.7"/><text x="155.45" y="19.00" font-size="5.56" class="le">High-High</text><circle cx="145.25" cy="24.93" r="1.9" fill="rgb(0,0,255)" fill-opacity="0.7"/><text x="155.45" y="26.83" font-size="5.56" class="le">Low-Low</text><circle cx="145.25" cy="32.76" r="1.9" fill="rgb(255,192,203)" fill-opacity="0.7"/><text x="155.45" y="34.66" font-size="5.56" class="le">High-Low</text><circle cx="145.25" cy="40.59" r="1.9" fill="rgb(128,0,128)" fill-opacity="0.7"/><text x="155.45" y="42.49" font-size="5.56" class="le">Low-High</text><rect x="0" y="0" width="187.45" height="184.9" fill="none" stroke="#000" stroke-width="0.95"/><line x1="-3.2" y1="11.77" x2="0" y2="11.77" stroke="#000" stroke-width="0.8"/><text x="-23.4" y="14.07" font-size="6.67" textLength="17.6" lengthAdjust="spacingAndGlyphs">4.4202</text><line x1="-3.2" y1="33.54" x2="0" y2="33.54" stroke="#000" stroke-width="0.8"/><text x="-23.4" y="35.84" font-size="6.67" textLength="17.6" lengthAdjust="spacingAndGlyphs">4.4200</text><line x1="-3.2" y1="55.31" x2="0" y2="55.31" stroke="#000" stroke-width="0.8"/><text x="-23.4" y="57.61" font-size="6.67" textLength="17.6" lengthAdjust="spacingAndGlyphs">4.4198</text><line x1="-3.2" y1="77.08" x2="0" y2="77.08" stroke="#000" stroke-width="0.8"/><text x="-23.4" y="79.38" font-size="6.67" textLength="17.6" lengthAdjust="spacingAndGlyphs">4.4196</text><line x1="-3.2" y1="98.85" x2="0" y2="98.85" stroke="#000" stroke-width="0.8"/><text x="-23.4" y="101.15" font-size="6.67" textLength="17.6" lengthAdjust="spacingAndGlyphs">4.4194</text><line x1="-3.2" y1="120.62" x2="0" y2="120.62" stroke="#000" stroke-width="0.8"/><text x="-23.4" y="122.92" font-size="6.67" textLength="17.6" lengthAdjust="spacingAndGlyphs">4.4192</text><line x1="-3.2" y1="142.39" x2="0" y2="142.39" stroke="#000" stroke-width="0.8"/><text x="-23.4" y="144.69" font-size="6.67" textLength="17.6" lengthAdjust="spacingAndGlyphs">4.4190</text><line x1="-3.2" y1="164.16" x2="0" y2="164.16" stroke="#000" stroke-width="0.8"/><text x="-23.4" y="166.46" font-size="6.67" textLength="17.6" lengthAdjust="spacingAndGlyphs">4.4188</text><line x1="19.83" y1="184.9" x2="19.83" y2="188.1" stroke="#000" stroke-width="0.8"/><text x="19.83" y="195.90" text-anchor="middle" font-size="6.67">430000</text><line x1="43.10" y1="184.9" x2="43.10" y2="188.1" stroke="#000" stroke-width="0.8"/><text x="43.10" y="195.90" text-anchor="middle" font-size="6.67">430250</text><line x1="66.37" y1="184.9" x2="66.37" y2="188.1" stroke="#000" stroke-width="0.8"/><text x="66.37" y="195.90" text-anchor="middle" font-size="6.67">430500</text><line x1="89.63" y1="184.9" x2="89.63" y2="188.1" stroke="#000" stroke-width="0.8"/><text x="89.63" y="195.90" text-anchor="middle" font-size="6.67">430750</text><line x1="112.90" y1="184.9" x2="112.90" y2="188.1" stroke="#000" stroke-width="0.8"/><text x="112.90" y="195.90" text-anchor="middle" font-size="6.67">431000</text><line x1="136.17" y1="184.9" x2="136.17" y2="188.1" stroke="#000" stroke-width="0.8"/><text x="136.17" y="195.90" text-anchor="middle" font-size="6.67">431250</text><line x1="159.43" y1="184.9" x2="159.43" y2="188.1" stroke="#000" stroke-width="0.8"/><text x="159.43" y="195.90" text-anchor="middle" font-size="6.67">431500</text><line x1="182.70" y1="184.9" x2="182.70" y2="188.1" stroke="#000" stroke-width="0.8"/><text x="182.70" y="195.90" text-anchor="middle" font-size="6.67">431750</text><text x="93.72" y="204.50" text-anchor="middle" font-size="6.45">X Coordinate</text><text transform="translate(-27.6,92.45) rotate(-90)" x="0" y="0" text-anchor="middle" font-size="6.45">Y Coordinate</text><text x="0.9" y="-2.95" font-size="8">1e6</text><text x="93.72" y="-4.6" text-anchor="middle" font-size="8">Wearing headphones: Moran&#39;s I = 0.034</text></g>
<g transform="translate(491.36,955.34)"><clipPath id="cp14"><rect x="0" y="0" width="187.1" height="184.9"/></clipPath><g clip-path="url(#cp14)"><g transform="scale(0.9963,1)"><path d="M16.3,82.0 L16.4,104.5" stroke="rgb(0,0,255)" stroke-width="6.30" stroke-dasharray="0 2.6"/><path d="M9.5,44.0 L104.0,8.3" stroke="rgb(0,0,255)" stroke-width="5.00" stroke-dasharray="0 2.6"/><path d="M9.5,44.0 L12.0,53.0 L13.8,62.0 L15.5,72.0 L16.3,80.0" stroke="rgb(0,0,255)" stroke-width="5.00" stroke-dasharray="0 2.6"/><path d="M16.3,80.0 L16.1,105.0 L16.0,162.0" stroke="rgb(0,0,255)" stroke-width="5.00" stroke-dasharray="0 2.6"/><path d="M16.0,81.0 L61.9,81.0" stroke="rgb(0,0,255)" stroke-width="5.00" stroke-dasharray="0 2.6"/><path d="M61.9,81.0 L61.9,59.8" stroke="rgb(0,0,255)" stroke-width="5.00" stroke-dasharray="0 2.6"/><path d="M61.9,59.8 L105.5,59.4" stroke="rgb(0,0,255)" stroke-width="5.00" stroke-dasharray="0 2.6"/><path d="M16.0,105.7 L44.8,105.7 L52.8,104.1 L103.3,103.2" stroke="rgb(0,0,255)" stroke-width="5.00" stroke-dasharray="0 2.6"/><path d="M16.0,162.0 L76.6,162.6" stroke="rgb(0,0,255)" stroke-width="5.00" stroke-dasharray="0 2.6"/><path d="M76.6,162.6 L86.0,164.5 L95.5,167.0 L104.0,168.8 L111.7,170.6 L119.0,173.2 L125.7,175.0" stroke="rgb(0,0,255)" stroke-width="5.00" stroke-dasharray="0 2.6"/><path d="M125.7,175.2 L176.9,175.9" stroke="rgb(0,0,255)" stroke-width="5.00" stroke-dasharray="0 2.6"/><path d="M104.0,8.3 L105.4,41.8 L106.8,95.0 L111.7,170.3" stroke="rgb(0,0,255)" stroke-width="5.40" stroke-dasharray="0 2.6"/><path d="M105.2,44.6 L179.0,44.6" stroke="rgb(0,0,255)" stroke-width="5.00" stroke-dasharray="0 2.6"/><path d="M179.0,44.6 L179.8,100.0 L176.9,175.9" stroke="rgb(0,0,255)" stroke-width="5.00" stroke-dasharray="0 2.6"/><path d="M106.3,79.0 L179.5,79.5" stroke="rgb(0,0,255)" stroke-width="5.00" stroke-dasharray="0 2.6"/><path d="M106.5,83.2 L118.0,83.5 L121.0,85.3 L132.0,85.3 L135.0,83.8 L179.5,84.3" stroke="rgb(0,0,255)" stroke-width="5.00" stroke-dasharray="0 2.6"/><path d="M110.3,135.2 L132.0,132.4" stroke="rgb(0,0,255)" stroke-width="5.00" stroke-dasharray="0 2.6"/><path d="M132.7,123.8 L134.8,152.8" stroke="rgb(0,0,255)" stroke-width="5.00" stroke-dasharray="0 2.6"/><path d="M111.7,152.8 L134.8,152.8" stroke="rgb(0,0,255)" stroke-width="5.00" stroke-dasharray="0 2.6"/><circle cx="9.5" cy="44.0" r="2.40" class="HL"/><circle cx="12.6" cy="42.8" r="2.40" class="HL"/><circle cx="18.0" cy="40.8" r="2.40" class="HL"/><circle cx="21.5" cy="39.4" r="2.40" class="HL"/><circle cx="25.1" cy="38.1" r="2.40" class="HL"/><circle cx="29.1" cy="36.6" r="2.40" class="HL"/><circle cx="32.9" cy="35.2" r="2.40" class="HL"/><circle cx="36.4" cy="33.8" r="2.40" class="HL"/><circle cx="43.0" cy="31.3" r="2.40" class="HL"/><circle cx="46.6" cy="30.0" r="2.40" class="HL"/><circle cx="49.9" cy="28.7" r="2.40" class="HL"/><circle cx="53.4" cy="27.4" r="2.40" class="HL"/><circle cx="57.0" cy="26.1" r="2.40" class="HL"/><circle cx="60.5" cy="24.7" r="2.40" class="HL"/><circle cx="64.1" cy="23.4" r="2.40" class="HL"/><circle cx="66.2" cy="22.6" r="2.40" class="HL"/><circle cx="88.4" cy="14.2" r="2.40" class="HL"/><circle cx="92.0" cy="12.9" r="2.40" class="HL"/><circle cx="96.0" cy="11.3" r="2.40" class="HL"/><circle cx="99.5" cy="10.0" r="2.40" class="HL"/><circle cx="14.9" cy="41.9" r="2.10" class="gHH"/><circle cx="39.7" cy="32.6" r="2.40" class="LH"/><circle cx="74.5" cy="19.5" r="2.40" class="LH"/><circle cx="13.0" cy="58.0" r="2.40" class="LH"/><circle cx="11.2" cy="50.0" r="2.40" class="HL"/><circle cx="14.3" cy="65.0" r="2.40" class="HL"/><circle cx="15.2" cy="70.0" r="2.40" class="HL"/><path d="M16.3,80.0 L16.3,81.0 L16.3,82.0 L16.3,83.1" stroke="rgb(128,0,128)" stroke-width="5.00"/><circle cx="16.2" cy="88.0" r="2.40" class="HL"/><circle cx="16.2" cy="92.1" r="2.40" class="HL"/><circle cx="16.2" cy="96.0" r="2.40" class="HL"/><circle cx="16.1" cy="100.1" r="2.40" class="HL"/><circle cx="16.1" cy="106.0" r="2.40" class="HL"/><circle cx="16.1" cy="108.1" r="2.40" class="HL"/><circle cx="16.1" cy="115.1" r="2.40" class="HL"/><circle cx="16.1" cy="117.9" r="2.40" class="HL"/><circle cx="16.1" cy="122.0" r="2.40" class="HL"/><circle cx="16.0" cy="140.1" r="2.40" class="HL"/><circle cx="16.0" cy="145.0" r="2.40" class="HL"/><circle cx="16.0" cy="149.9" r="2.40" class="HL"/><circle cx="16.0" cy="155.0" r="2.40" class="HL"/><circle cx="16.1" cy="111.6" r="2.40" class="LH"/><circle cx="16.1" cy="126.9" r="2.40" class="LH"/><circle cx="16.0" cy="134.9" r="2.40" class="LH"/><circle cx="16.0" cy="161.6" r="2.40" class="LH"/><circle cx="26.0" cy="81.0" r="2.40" class="HL"/><circle cx="60.5" cy="81.0" r="2.40" class="HL"/><circle cx="57.9" cy="81.0" r="2.40" class="LH"/><path d="M61.9,74.7 L61.9,73.6 L61.9,72.5 L61.9,71.5 L61.9,70.4 L61.9,69.3 L61.9,68.2 L61.9,67.1 L61.9,66.1 L61.9,65.0" stroke="rgb(128,0,128)" stroke-width="5.00"/><circle cx="77.3" cy="59.7" r="2.40" class="HL"/><circle cx="80.0" cy="59.6" r="2.40" class="HL"/><circle cx="83.0" cy="59.6" r="2.40" class="HL"/><circle cx="85.6" cy="59.6" r="2.40" class="HL"/><circle cx="99.5" cy="59.5" r="2.40" class="HL"/><circle cx="95.3" cy="59.5" r="2.40" class="LH"/><path d="M104.2,13.6 L104.3,14.6 L104.3,15.6 L104.3,16.6 L104.4,17.6 L104.4,18.6 L104.5,19.6 L104.5,20.6 L104.6,21.6 L104.6,22.6 L104.6,23.6 L104.7,24.6 L104.7,25.6 L104.8,26.6 L104.8,27.6 L104.8,28.6 L104.9,29.6 L104.9,30.6 L105.0,31.6 L105.0,32.6 L105.1,33.6 L105.1,34.6 L105.1,35.6 L105.2,36.6 L105.2,37.6 L105.3,38.6 L105.3,39.6 L105.3,40.6 L105.4,41.6 L105.4,42.6 L105.4,43.6 L105.5,44.6 L105.5,45.6" stroke="rgb(128,0,128)" stroke-width="5.40"/><circle cx="104.3" cy="15.2" r="2.40" class="HL"/><circle cx="104.9" cy="30.2" r="2.40" class="HL"/><circle cx="105.6" cy="49.6" r="2.40" class="HL"/><circle cx="105.7" cy="54.1" r="2.40" class="HL"/><circle cx="105.8" cy="58.1" r="2.40" class="HL"/><circle cx="105.9" cy="62.2" r="2.40" class="HL"/><circle cx="106.0" cy="66.3" r="2.40" class="HL"/><circle cx="108.3" cy="118.5" r="2.40" class="HL"/><circle cx="108.6" cy="122.1" r="2.40" class="HL"/><circle cx="108.9" cy="127.0" r="2.40" class="HL"/><circle cx="110.9" cy="157.4" r="2.40" class="HL"/><circle cx="106.3" cy="74.8" r="2.40" class="LH"/><circle cx="106.4" cy="78.0" r="2.40" class="LH"/><circle cx="106.5" cy="82.9" r="2.40" class="LH"/><circle cx="109.2" cy="132.3" r="2.40" class="LH"/><circle cx="109.4" cy="135.1" r="2.40" class="LH"/><circle cx="109.6" cy="137.9" r="2.40" class="LH"/><circle cx="111.2" cy="163.0" r="2.40" class="LH"/><circle cx="111.5" cy="167.1" r="2.40" class="LH"/><circle cx="111.7" cy="170.3" r="2.40" class="LH"/><circle cx="116.1" cy="44.6" r="2.40" class="HL"/><circle cx="122.0" cy="44.6" r="2.40" class="HL"/><circle cx="127.0" cy="44.6" r="2.40" class="HL"/><circle cx="150.0" cy="44.6" r="2.40" class="HL"/><circle cx="160.0" cy="44.6" r="2.40" class="HL"/><circle cx="179.3" cy="65.0" r="2.40" class="LH"/><circle cx="179.5" cy="78.8" r="2.40" class="LH"/><circle cx="178.7" cy="129.6" r="2.40" class="LH"/><circle cx="179.2" cy="56.1" r="2.40" class="HL"/><circle cx="179.2" cy="60.0" r="2.40" class="HL"/><circle cx="179.4" cy="71.9" r="2.40" class="HL"/><circle cx="179.6" cy="85.0" r="2.40" class="HL"/><circle cx="179.7" cy="94.8" r="2.40" class="HL"/><circle cx="179.8" cy="100.1" r="2.40" class="HL"/><circle cx="179.0" cy="120.1" r="2.40" class="HL"/><circle cx="177.5" cy="160.1" r="2.40" class="HL"/><circle cx="113.3" cy="79.0" r="2.40" class="LH"/><circle cx="144.9" cy="79.3" r="2.40" class="LH"/><circle cx="170.0" cy="79.4" r="2.40" class="LH"/><circle cx="172.9" cy="79.5" r="2.40" class="LH"/><circle cx="176.9" cy="79.5" r="2.40" class="LH"/><circle cx="118.0" cy="79.1" r="2.40" class="HL"/><circle cx="123.0" cy="79.1" r="2.40" class="HL"/><circle cx="128.1" cy="79.1" r="2.40" class="HL"/><circle cx="133.0" cy="79.2" r="2.40" class="HL"/><circle cx="150.0" cy="79.3" r="2.40" class="HL"/><circle cx="155.0" cy="79.3" r="2.40" class="HL"/><circle cx="120.0" cy="84.7" r="2.40" class="HL"/><circle cx="125.0" cy="85.3" r="2.40" class="HL"/><circle cx="140.0" cy="83.9" r="2.40" class="HL"/><circle cx="159.9" cy="84.1" r="2.40" class="HL"/><circle cx="113.0" cy="83.4" r="2.40" class="LH"/><circle cx="168.8" cy="84.2" r="2.40" class="LH"/><circle cx="171.9" cy="84.2" r="2.40" class="LH"/><circle cx="175.1" cy="84.3" r="2.40" class="LH"/><circle cx="177.1" cy="84.3" r="2.40" class="LH"/><circle cx="27.4" cy="105.7" r="2.40" class="HL"/><circle cx="31.1" cy="105.7" r="2.40" class="HL"/><circle cx="35.0" cy="105.7" r="2.40" class="HL"/><circle cx="39.0" cy="105.7" r="2.40" class="HL"/><circle cx="42.9" cy="105.7" r="2.40" class="HL"/><circle cx="46.8" cy="105.3" r="2.40" class="HL"/><circle cx="74.4" cy="103.7" r="2.40" class="HL"/><circle cx="77.9" cy="103.7" r="2.40" class="HL"/><circle cx="82.7" cy="103.6" r="2.40" class="HL"/><circle cx="103.3" cy="103.2" r="2.40" class="LH"/><circle cx="116.1" cy="134.5" r="2.40" class="HL"/><circle cx="120.0" cy="133.9" r="2.40" class="HL"/><circle cx="124.4" cy="133.4" r="2.40" class="HL"/><circle cx="113.3" cy="134.8" r="2.40" class="LH"/><circle cx="133.8" cy="139.3" r="2.40" class="HL"/><circle cx="113.3" cy="152.8" r="2.40" class="LH"/><circle cx="134.0" cy="152.8" r="2.40" class="HL"/><circle cx="16.2" cy="162.0" r="2.40" class="LH"/><circle cx="62.1" cy="162.5" r="2.40" class="LH"/><circle cx="24.6" cy="162.1" r="2.40" class="HL"/><circle cx="29.0" cy="162.1" r="2.40" class="HL"/><circle cx="33.0" cy="162.2" r="2.40" class="HL"/><circle cx="37.1" cy="162.2" r="2.40" class="HL"/><circle cx="41.1" cy="162.2" r="2.40" class="HL"/><circle cx="56.5" cy="162.4" r="2.40" class="HL"/><circle cx="127.0" cy="175.2" r="2.40" class="HL"/><circle cx="140.0" cy="175.4" r="2.40" class="HL"/><circle cx="148.5" cy="175.5" r="2.40" class="HL"/><circle cx="159.5" cy="175.7" r="2.40" class="HL"/><circle cx="170.5" cy="175.8" r="2.40" class="HL"/><circle cx="166.0" cy="175.8" r="2.40" class="LH"/></g></g><rect x="129.99999999999997" y="2.4" width="54.60" height="51.40" rx="1.3" fill="#fff" fill-opacity="0.8" stroke="#ccc" stroke-width="0.6"/><text x="157.30" y="10.75" text-anchor="middle" font-size="8">LISA Clusters</text><circle cx="137.80" cy="17.10" r="1.9" fill="rgb(211,211,211)" fill-opacity="0.7"/><text x="147.60" y="19.00" font-size="5.56" class="le">Not Significant</text><circle cx="137.80" cy="24.93" r="1.9" fill="rgb(255,0,0)" fill-opacity="0.7"/><text x="147.60" y="26.83" font-size="5.56" class="le">High-High</text><circle cx="137.80" cy="32.76" r="1.9" fill="rgb(0,0,255)" fill-opacity="0.7"/><text x="147.60" y="34.66" font-size="5.56" class="le">Low-Low</text><circle cx="137.80" cy="40.59" r="1.9" fill="rgb(255,192,203)" fill-opacity="0.7"/><text x="147.60" y="42.49" font-size="5.56" class="le">High-Low</text><circle cx="137.80" cy="48.42" r="1.9" fill="rgb(128,0,128)" fill-opacity="0.7"/><text x="147.60" y="50.32" font-size="5.56" class="le">Low-High</text><rect x="0" y="0" width="187.1" height="184.9" fill="none" stroke="#000" stroke-width="0.95"/><line x1="-3.2" y1="11.77" x2="0" y2="11.77" stroke="#000" stroke-width="0.8"/><text x="-23.4" y="14.07" font-size="6.67" textLength="17.6" lengthAdjust="spacingAndGlyphs">4.4202</text><line x1="-3.2" y1="33.54" x2="0" y2="33.54" stroke="#000" stroke-width="0.8"/><text x="-23.4" y="35.84" font-size="6.67" textLength="17.6" lengthAdjust="spacingAndGlyphs">4.4200</text><line x1="-3.2" y1="55.31" x2="0" y2="55.31" stroke="#000" stroke-width="0.8"/><text x="-23.4" y="57.61" font-size="6.67" textLength="17.6" lengthAdjust="spacingAndGlyphs">4.4198</text><line x1="-3.2" y1="77.08" x2="0" y2="77.08" stroke="#000" stroke-width="0.8"/><text x="-23.4" y="79.38" font-size="6.67" textLength="17.6" lengthAdjust="spacingAndGlyphs">4.4196</text><line x1="-3.2" y1="98.85" x2="0" y2="98.85" stroke="#000" stroke-width="0.8"/><text x="-23.4" y="101.15" font-size="6.67" textLength="17.6" lengthAdjust="spacingAndGlyphs">4.4194</text><line x1="-3.2" y1="120.62" x2="0" y2="120.62" stroke="#000" stroke-width="0.8"/><text x="-23.4" y="122.92" font-size="6.67" textLength="17.6" lengthAdjust="spacingAndGlyphs">4.4192</text><line x1="-3.2" y1="142.39" x2="0" y2="142.39" stroke="#000" stroke-width="0.8"/><text x="-23.4" y="144.69" font-size="6.67" textLength="17.6" lengthAdjust="spacingAndGlyphs">4.4190</text><line x1="-3.2" y1="164.16" x2="0" y2="164.16" stroke="#000" stroke-width="0.8"/><text x="-23.4" y="166.46" font-size="6.67" textLength="17.6" lengthAdjust="spacingAndGlyphs">4.4188</text><line x1="19.80" y1="184.9" x2="19.80" y2="188.1" stroke="#000" stroke-width="0.8"/><text x="19.80" y="195.90" text-anchor="middle" font-size="6.67">430000</text><line x1="43.02" y1="184.9" x2="43.02" y2="188.1" stroke="#000" stroke-width="0.8"/><text x="43.02" y="195.90" text-anchor="middle" font-size="6.67">430250</text><line x1="66.24" y1="184.9" x2="66.24" y2="188.1" stroke="#000" stroke-width="0.8"/><text x="66.24" y="195.90" text-anchor="middle" font-size="6.67">430500</text><line x1="89.47" y1="184.9" x2="89.47" y2="188.1" stroke="#000" stroke-width="0.8"/><text x="89.47" y="195.90" text-anchor="middle" font-size="6.67">430750</text><line x1="112.69" y1="184.9" x2="112.69" y2="188.1" stroke="#000" stroke-width="0.8"/><text x="112.69" y="195.90" text-anchor="middle" font-size="6.67">431000</text><line x1="135.91" y1="184.9" x2="135.91" y2="188.1" stroke="#000" stroke-width="0.8"/><text x="135.91" y="195.90" text-anchor="middle" font-size="6.67">431250</text><line x1="159.13" y1="184.9" x2="159.13" y2="188.1" stroke="#000" stroke-width="0.8"/><text x="159.13" y="195.90" text-anchor="middle" font-size="6.67">431500</text><line x1="182.36" y1="184.9" x2="182.36" y2="188.1" stroke="#000" stroke-width="0.8"/><text x="182.36" y="195.90" text-anchor="middle" font-size="6.67">431750</text><text x="93.55" y="204.50" text-anchor="middle" font-size="6.45">X Coordinate</text><text transform="translate(-27.6,92.45) rotate(-90)" x="0" y="0" text-anchor="middle" font-size="6.45">Y Coordinate</text><text x="0.9" y="-2.95" font-size="8">1e6</text><text x="93.55" y="-4.6" text-anchor="middle" font-size="8">Traveling against traffic: Moran&#39;s I = 0.051</text></g>
</svg>
</body></html>
